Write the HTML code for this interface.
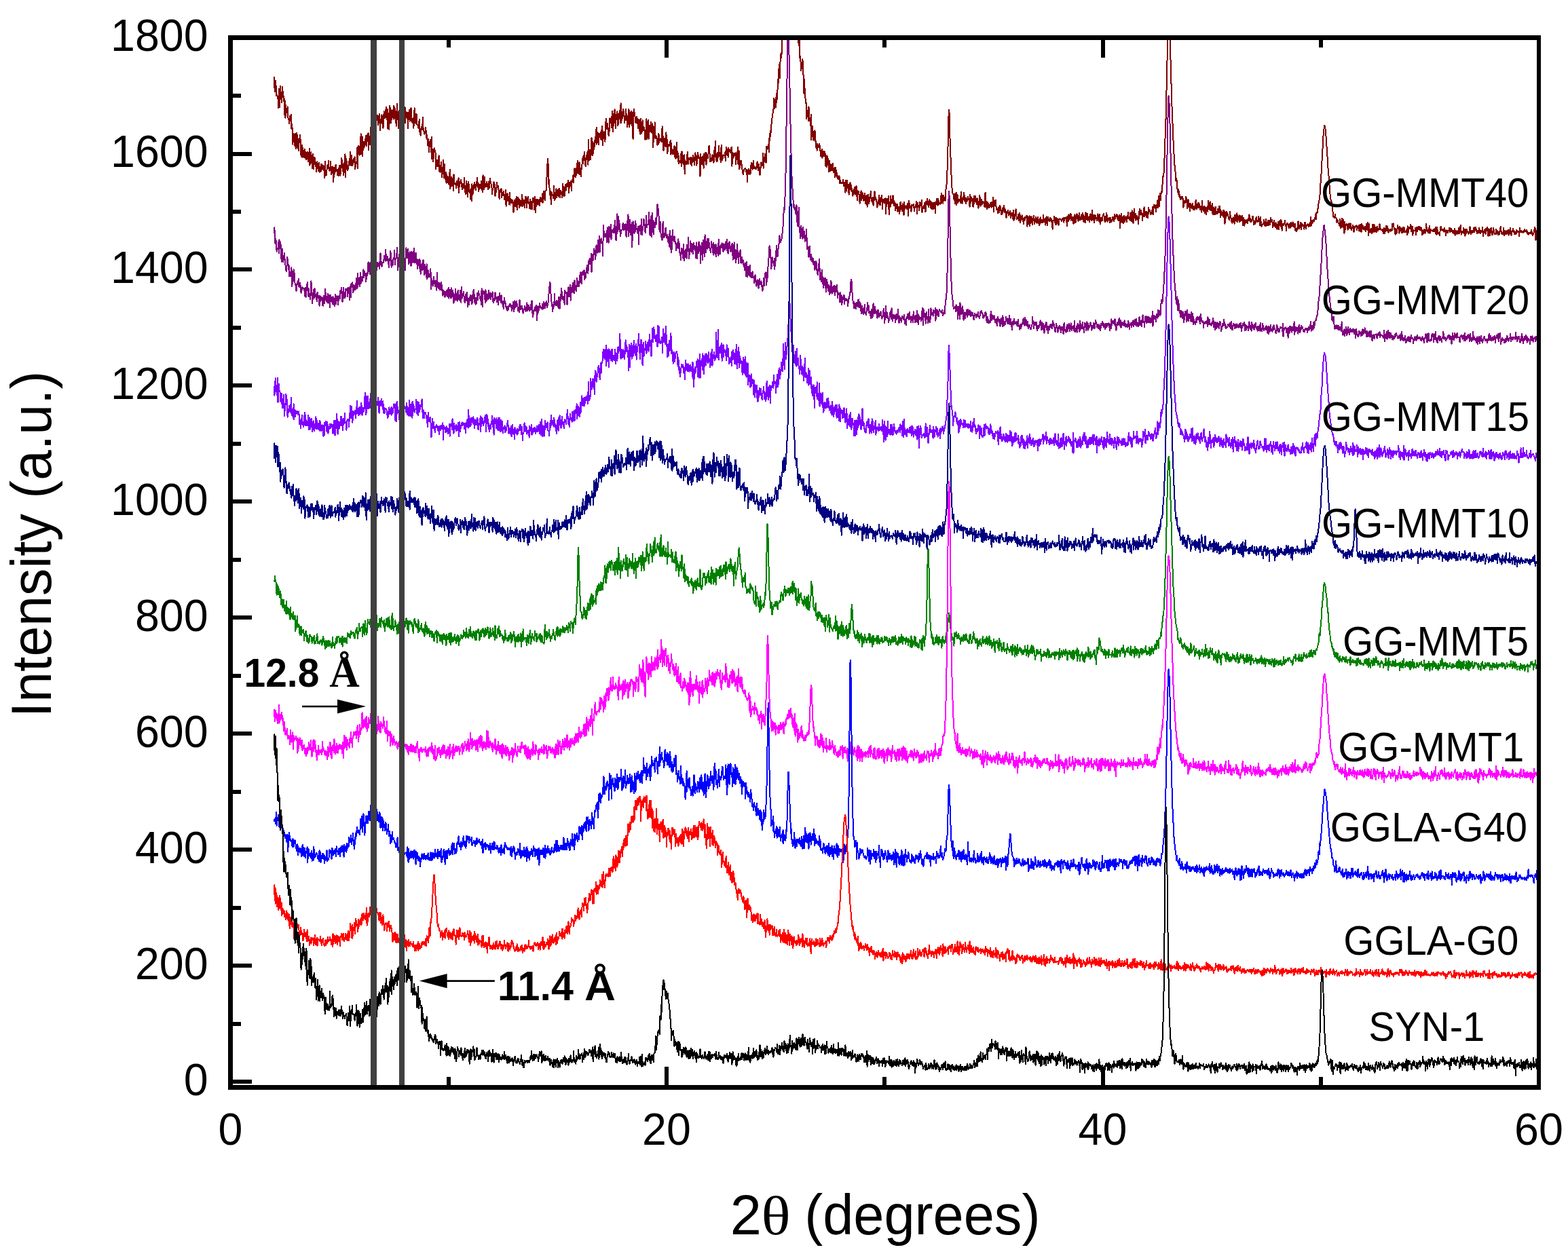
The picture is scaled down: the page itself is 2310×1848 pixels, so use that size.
<!DOCTYPE html>
<html><head><meta charset="utf-8"><title>XRD patterns</title>
<style>
html,body{margin:0;padding:0;background:#fff;}
body{width:2310px;height:1848px;overflow:hidden;}
svg{display:block;}
text{font-family:"Liberation Sans",Arial,sans-serif;fill:#000;}
.ser{font-family:"Liberation Serif","Times New Roman",serif;}
</style></head><body>
<svg width="2310" height="1848" viewBox="0 0 2310 1848">
<rect width="2310" height="1848" fill="#fff"/>
<defs><clipPath id="pc"><rect x="339.5" y="55.5" width="1927.5" height="1547.0"/></clipPath></defs>

<g clip-path="url(#pc)" fill="none" stroke-width="2" stroke-linejoin="round" shape-rendering="crispEdges">
<path stroke="#800000" d="M403.75 113l.64 16 .65 6 .64-1 .64-15 .64 22 .64-2 .65 1 .64 2 .64 4 .64 13 .65-28 .64 8 .64 19 .64-31 .65 19 .64-10 .64 9 .64 6 .65-23 .64 10 .64-3 .64 14 .65-4 .64 24 .64-20 .64 25 .65-19 .64 9 .64 0 .64 2 .65-9 .64 16 .64 3 .64 0 .65 6 .64-11 .64 7 .64-1 .65-8 .64 21 .64-7 .64 8 .65 22 .64-16 .64 0 .64 10 .65 3 .64 6 .64-19 .64 22 .65-16 .64-7 .64 3 .64 19 .65-2 .64 6 .64-18 .64 6 .65-6 .64-5 .64 18 .64 14 .65-2 .64-15 .64 18 .64-14 .65 9 .64 5 .64-9 .64-3 .65 13 .64-6 .64-3 .64 11 .65-7 .64 6 .64-10 .64 14 .65-13 .64 5 .64-11 .64 25 .65-8 .64 4 .64-16 .64 15 .65-4 .64 13 .64-21 .64 16 .65 6 .64-17 .64 10 .64-9 .65 9 .64 3 .64 8 .64-9 .65-6 .64 10 .64-4 .64 8 .65-12 .64 14 .64-8 .64 1 .65 6 .64-11 .64 0 .64 8 .65-4 .64 1 .64-3 .64 1 .65 9 .64 8 .64-24 .64 21 .65-5 .64 4 .64-8 .64-6 .65 4 .64-5 .64-6 .64 12 .65 3 .64-4 .64 3 .64-13 .65 19 .64-9 .64 2 .64 5 .65-10 .64 23 .64-10 .64 0 .65-8 .64-6 .64 9 .64-10 .65 7 .64 0 .64 8 .64-6 .65-2 .64 9 .64-12 .64-3 .65 0 .64 15 .64-11 .64-5 .65-10 .64 6 .64 10 .64 1 .65 8 .64-18 .64 8 .64 6 .65-27 .64 34 .64-27 .64 0 .65 15 .64-4 .64 6 .64-5 .65-3 .64-4 .64-5 .64 10 .65-20 .64 13 .64 7 .64-15 .65 15 .64 0 .64-7 .64-3 .65 5 .64 0 .64-8 .64 18 .65-5 .64-5 .64 2 .64-2 .65-22 .64 31 .64-33 .64 12 .65-11 .64 13 .64-3 .64-2 .65-27 .64 30 .64-6 .64-20 .65 29 .64-15 .64-6 .64 9 .65-9 .64 7 .64-8 .64-5 .65-3 .64 15 .64-7 .64-9 .65 1 .64-4 .64 25 .64-16 .65-3 .64 11 .64-20 .64-6 .65 5 .64 4 .64-4 .64-2 .65 3 .64-7 .64-7 .64 16 .65-10 .64-2 .64 7 .64-2 .65-15 .64 3 .64-6 .64 1 .65 13 .64-7 .64-5 .64-4 .65 24 .64-16 .64 5 .64-3 .65-9 .64 13 .64-4 .64 11 .65-7 .64-18 .64 10 .64 0 .65 0 .64-11 .64-5 .64 14 .65 4 .64-15 .64 29 .64-12 .65-11 .64 24 .64-35 .64 4 .65-1 .64 22 .64-19 .64 14 .65-5 .64-9 .64 7 .64-13 .65 20 .64-18 .64 2 .64 15 .65-11 .64 22 .64-4 .64-29 .65 17 .64-3 .64 22 .64-25 .65-1 .64 4 .64 0 .64-6 .65 11 .64-8 .64-3 .64 23 .65-13 .64-11 .64-3 .64 10 .65-9 .64 0 .64 23 .64-12 .65-4 .64 7 .64-6 .64 6 .65 17 .64-17 .64-5 .64-5 .65 17 .64-7 .64 6 .64-19 .65 12 .64 5 .64 5 .64-2 .65-5 .64 15 .64-12 .64-18 .65 8 .64 12 .64 3 .64-14 .65 1 .64 15 .64 0 .64 1 .65 4 .64-6 .64-7 .64 19 .65-1 .64 6 .64-10 .64-3 .65 2 .64 2 .64-18 .64 16 .65 0 .64 8 .64 1 .64-4 .65 0 .64-6 .64 15 .64-5 .65 3 .64 13 .64 1 .64-10 .65 19 .64-7 .64-5 .64-6 .65 2 .64 16 .64-22 .64 32 .65-7 .64-7 .64 18 .64-10 .65-10 .64 6 .64-2 .64 1 .65 26 .64-13 .64 0 .64 9 .65 0 .64-9 .64-1 .64-6 .65 23 .64-8 .64 10 .64-6 .65-9 .64 6 .64 16 .64-14 .65 9 .64-20 .64 12 .64 14 .65-20 .64 22 .64-10 .64 0 .65 16 .64-13 .64 12 .64-9 .65 6 .64 5 .64 1 .64-8 .65-14 .64 28 .64-15 .64 12 .65-14 .64 3 .64 4 .64 0 .65 13 .64-24 .64 8 .64 6 .65 1 .64-2 .64 1 .64 6 .65-10 .64 0 .64 3 .64 6 .65-14 .64 22 .64-15 .64-1 .65 2 .64-5 .64 2 .64 4 .65 6 .64 2 .64-8 .64 1 .65 5 .64-15 .64 12 .64 8 .65 4 .64-12 .64-7 .64 5 .65 13 .64 5 .64-14 .64-8 .65 11 .64 4 .64 1 .64-4 .65 14 .64-16 .64 18 .64-25 .65 16 .64-2 .64-3 .64-10 .65 4 .64-7 .64 8 .64 1 .65 2 .64-12 .64 3 .64-9 .65 14 .64-7 .64 13 .64-10 .65 7 .64-6 .64 2 .64-2 .65-6 .64 13 .64-11 .64 14 .65-25 .64 13 .64 8 .64 0 .65-18 .64 14 .64-1 .64 1 .65-4 .64-3 .64 6 .64 2 .65 3 .64-7 .64-5 .64 10 .65-14 .64 4 .64 1 .64 4 .65 2 .64 12 .64-8 .64 2 .65-8 .64-4 .64 5 .64-1 .65 17 .64-3 .64-4 .64-5 .65-8 .64 7 .64-2 .64 0 .65 8 .64 9 .64 2 .64-14 .65 2 .64 2 .64-5 .64 13 .65-5 .64-2 .64 4 .64-6 .65 2 .64 10 .64-1 .64-4 .65-9 .64 24 .64-12 .64 4 .65-11 .64 10 .64 1 .64-1 .65 6 .64-17 .64 18 .64-9 .65 0 .64 3 .64 3 .64-1 .65-3 .64 5 .64 13 .64-12 .65-6 .64 9 .64-1 .64-10 .65 12 .64-15 .64 11 .64 8 .65-18 .64 4 .64-2 .64 13 .65-12 .64 4 .64 3 .64 3 .65-2 .64-9 .64-6 .64 17 .65-5 .64 3 .64-7 .64 4 .65 7 .64-16 .64 8 .64-8 .65 16 .64-6 .64-6 .64-4 .65 10 .64 0 .64-2 .64 9 .65-13 .64 10 .64 4 .64-11 .65 8 .64 3 .64-16 .64 4 .65-4 .64 10 .64 7 .64-19 .65 8 .64 15 .64-19 .64 7 .65-1 .64-6 .64 8 .64-4 .65-3 .64-1 .64 9 .64-7 .65-5 .64 1 .64 4 .64 1 .65-11 .64 13 .64-13 .64-4 .65 8 .64 3 .64 2 .64-14 .65 0 .64 0 .64-17 .64-11 .65-14 .64-5 .64 16 .64 22 .65-7 .64 22 .64-2 .64-3 .65 19 .64-18 .64 2 .64 2 .65 0 .64 5 .64-1 .64-17 .65 21 .64-1 .64-1 .64-3 .65-12 .64 13 .64-7 .64-4 .65 6 .64 4 .64-11 .64-1 .65 10 .64 3 .64-10 .64 4 .65-2 .64 8 .64-7 .64-13 .65 5 .64 13 .64 0 .64-1 .65-11 .64-5 .64 9 .64-6 .65-2 .64-3 .64 5 .64-9 .65 3 .64 15 .64-15 .64 8 .65-8 .64 1 .64-3 .64 14 .65-14 .64-2 .64-1 .64-6 .65 11 .64-15 .64-6 .64 12 .65 1 .64-13 .64 10 .64-3 .65-13 .64-5 .64 18 .64-4 .65 5 .64-17 .64 18 .64-9 .65 2 .64 10 .64-15 .64-2 .65-3 .64-9 .64 10 .64-12 .65 2 .64-7 .64 19 .64-8 .65 10 .64-16 .64 1 .64-4 .65-3 .64 20 .64-37 .64 31 .65-1 .64-15 .64 4 .64 10 .65-13 .64-19 .64 10 .64 16 .65-20 .64 17 .64-15 .64 9 .65-12 .64-3 .64 2 .64-16 .65 22 .64-25 .64 17 .64-10 .65 12 .64 6 .64-12 .64-4 .65 5 .64 0 .64 3 .64-13 .65 14 .64-20 .64 7 .64 21 .65-19 .64 4 .64-3 .64-2 .65 15 .64-18 .64-16 .64 12 .65 3 .64-8 .64 0 .64 16 .65-7 .64 9 .64-13 .64-13 .65 7 .64-1 .64-1 .64 9 .65-24 .64 15 .64 15 .64-26 .65 17 .64-7 .64-17 .64 7 .65 21 .64-20 .64 7 .64-2 .65-10 .64 21 .64-2 .64-6 .65-5 .64-7 .64-2 .64 18 .65-29 .64 29 .64-7 .64 1 .65-5 .64-9 .64 1 .64 6 .65 5 .64 8 .64-10 .64 3 .65-13 .64 16 .64-3 .64 13 .65-7 .64-9 .64-10 .64 26 .65-24 .64 13 .64 7 .64-2 .65-17 .64 1 .64 20 .64-3 .65 23 .64-37 .64-7 .64 4 .65 4 .64 5 .64 7 .64 0 .65-5 .64-4 .64 10 .64-7 .65 14 .64-11 .64-2 .64 17 .65 1 .64 4 .64-23 .64 18 .65 4 .64-10 .64-10 .64 7 .65 8 .64-4 .64 0 .64 8 .65 10 .64-4 .64-21 .64-6 .65 30 .64-2 .64-13 .64-13 .65 28 .64-17 .64-3 .64 6 .65 3 .64-14 .64 3 .64 12 .65 1 .64-14 .64 35 .64-10 .65-5 .64 1 .64-23 .64 19 .65 5 .64-4 .64 3 .64 3 .65 8 .64-3 .64-14 .64 15 .65-13 .64 7 .64 1 .64-2 .65-1 .64 4 .64 1 .64-23 .65 21 .64-6 .64 21 .64-11 .65-7 .64 11 .64-3 .64 4 .65-21 .64 15 .64-5 .64 21 .65-5 .64-8 .64 2 .64 0 .65-3 .64-3 .64-2 .64 21 .65-17 .64 12 .64 4 .64-2 .65-4 .64 6 .64-10 .64-2 .65 16 .64-2 .64 5 .64-9 .65-15 .64 14 .64-1 .64 15 .65-12 .64 15 .64-4 .64 1 .65 0 .64 2 .64-13 .64 18 .65-22 .64 7 .64 0 .64 11 .65-12 .64 20 .64-21 .64 28 .65-16 .64 2 .64-4 .64 4 .65-13 .64-5 .64 18 .64-2 .65-7 .64 0 .64 0 .64 3 .65 6 .64-10 .64 5 .64 7 .65-11 .64 6 .64-10 .64 6 .65-3 .64 11 .64-12 .64-6 .65 11 .64-6 .64 14 .64-7 .65-7 .64-5 .64 8 .64-2 .65 1 .64 2 .64 26 .64-33 .65 7 .64 5 .64 3 .64-11 .65 3 .64-4 .64 18 .64-21 .65 7 .64-9 .64 12 .64-12 .65 18 .64-17 .64 4 .64 0 .65 3 .64-8 .64-9 .64-1 .65 13 .64 10 .64 0 .64-5 .65 4 .64-8 .64-1 .64 5 .65 6 .64 1 .64-8 .64-15 .65 6 .64-15 .64 28 .64-9 .65 11 .64 0 .64-13 .64 7 .65-6 .64-11 .64 15 .64-2 .65 0 .64 11 .64-20 .64-5 .65 20 .64 2 .64-4 .64-4 .65 1 .64 0 .64-1 .64-3 .65 12 .64-14 .64-6 .64 11 .65-6 .64-2 .64 12 .64-14 .65 2 .64 3 .64-2 .64 4 .65 0 .64-7 .64-1 .64 28 .65-15 .64-5 .64 8 .64-3 .65 0 .64-4 .64 1 .64-2 .65 17 .64-15 .64 6 .64 2 .65-18 .64 25 .64-6 .64-14 .65 27 .64-3 .64-3 .64-6 .65 0 .64 7 .64-1 .64 12 .65-2 .64 4 .64-6 .64-2 .65 0 .64-1 .64 1 .64 4 .65-1 .64-2 .64 18 .64-17 .65 2 .64-4 .64 8 .64-1 .65-5 .64 6 .64-3 .64-14 .65 0 .64 2 .64 8 .64-6 .65-7 .64 7 .64 4 .64 0 .65 1 .64-2 .64 2 .64-3 .65-4 .64-4 .64 9 .64 4 .65-9 .64 0 .64 10 .64 6 .65-2 .64-15 .64-2 .64 2 .65 3 .64 0 .64-18 .64 22 .65-5 .64-11 .64 6 .64-11 .65 2 .64 11 .64-24 .64 4 .65-2 .64-2 .64 3 .64-7 .65 12 .64-27 .64 10 .64-14 .65 3 .64-10 .64-6 .64-6 .65-1 .64-10 .64 0 .64-18 .65 15 .64-9 .64 2 .64-9 .65 14 .64-17 .64-4 .64 9 .65-29 .64 7 .64-22 .64-2 .65-6 .64 21 .64-35 .64 8 .65-10 .64 2 .64-29 .64-22 .65-8 .64 23 .64-19 .64 1 .65-7 .64-25 .64-14 .64 0 .65-32 .64 6 .64-1 .64 6 .65-38 .64-4 .64 40 .64-8 .65-14 .64 0 .64 9 .64-19 .65 14 .64 29 .64 4 .64 14 .65-11 .64 16 .64-29 .64 7 .65-13 .64 26 .64 2 .64 39 .65 8 .64-19 .64 5 .64 39 .65 11 .64-23 .64 25 .64 20 .65-6 .64 21 .64-11 .64 8 .65 0 .64-14 .64 23 .64 1 .65 27 .64-21 .64 18 .64 7 .65 10 .64-1 .64 24 .64-12 .65 1 .64 3 .64 11 .64-21 .65 11 .64 10 .64-4 .64 11 .65-16 .64 37 .64-13 .64 1 .65-8 .64 18 .64 3 .64-11 .65 6 .64-10 .64 16 .64 0 .65 10 .64-3 .64 7 .64-10 .65 4 .64-2 .64 3 .64-5 .65 6 .64-3 .64 15 .64-5 .65-1 .64-4 .64 13 .64-7 .65 4 .64-7 .64 7 .64-7 .65 2 .64 2 .64 18 .64-11 .65 12 .64-17 .64 11 .64-6 .65 8 .64 11 .64 0 .64-16 .65 13 .64 2 .64-7 .64 0 .65-3 .64 9 .64-10 .64 9 .65 4 .64-5 .64-2 .64 14 .65-6 .64-8 .64 9 .64 5 .65-6 .64 8 .64-1 .64 2 .65-4 .64-1 .64 11 .64-4 .65 2 .64 2 .64-1 .64 0 .65 1 .64-2 .64-3 .64 9 .65-2 .64-3 .64 8 .64 7 .65-18 .64 9 .64 7 .64-16 .65 9 .64 0 .64-3 .64 15 .65-5 .64-5 .64-8 .64 10 .65-6 .64 9 .64-4 .64 4 .65 7 .64-4 .64-6 .64 2 .65-5 .64 11 .64-10 .64 2 .65-5 .64 10 .64 11 .64-14 .65 1 .64 0 .64 4 .64 2 .65 12 .64-6 .64-6 .64-7 .65 14 .64-5 .64-6 .64 6 .65-1 .64 7 .64-4 .64-7 .65 7 .64 8 .64-7 .64-4 .65-1 .64 17 .64-6 .64-12 .65 8 .64 5 .64-3 .64-7 .65 2 .64-10 .64 10 .64 0 .65 6 .64-6 .64-1 .64 12 .65-3 .64-9 .64-9 .64 3 .65 9 .64 1 .64-1 .64 6 .65 6 .64-6 .64-3 .64 1 .65-10 .64 14 .64-6 .64 6 .65-11 .64 5 .64-8 .64 8 .65 12 .64-14 .64 2 .64 0 .65 4 .64-7 .64 3 .64-4 .65 23 .64-19 .64 2 .64-5 .65 7 .64-2 .64-9 .64 27 .65-18 .64 0 .64 7 .64-16 .65 11 .64-6 .64 3 .64 2 .65-11 .64 10 .64 5 .64-7 .65 7 .64-3 .64 10 .64-9 .65 3 .64-1 .64-2 .64 11 .65-7 .64 0 .64 2 .64 8 .65-16 .64 12 .64-13 .64 5 .65 5 .64 3 .64-11 .64 11 .65-3 .64 9 .64-19 .64 10 .65-5 .64 1 .64 2 .64-3 .65 5 .64-2 .64-6 .64 18 .65-12 .64-10 .64 8 .64 2 .65-2 .64 0 .64 8 .64-10 .65 1 .64-1 .64 1 .64-2 .65 5 .64 5 .64-5 .64 0 .65-4 .64 0 .64-5 .64 18 .65-12 .64-4 .64 6 .64-2 .65 7 .64-4 .64-8 .64 3 .65-2 .64 4 .64-8 .64 18 .65-7 .64-1 .64 0 .64 2 .65-8 .64 5 .64 8 .64-1 .65-14 .64 4 .64 0 .64-8 .65 7 .64 3 .64 2 .64-4 .65-7 .64 7 .64-4 .64 10 .65-1 .64-8 .64 10 .64-9 .65 3 .64 6 .64-4 .64-6 .65 2 .64 14 .64-16 .64 3 .65-8 .64 9 .64-6 .64 7 .65-10 .64 8 .64-3 .64 1 .65 1 .64 1 .64-10 .64-6 .65 10 .64 4 .64-11 .64 12 .65-12 .64 6 .64-2 .64-1 .65 5 .64-16 .64-3 .64-5 .65-9 .64-22 .64-20 .64-35 .65-23 .64-1 .64 20 .64 27 .65 13 .64 29 .64 8 .64 16 .65 5 .64 5 .64 1 .64 0 .65 8 .64-8 .64 14 .64-4 .65-11 .64-1 .64 18 .64-9 .65-6 .64 12 .64-5 .64 3 .65-3 .64 0 .64 3 .64 2 .65-16 .64 10 .64 5 .64 2 .65-8 .64 2 .64-5 .64-5 .65 7 .64 6 .64-4 .64 7 .65-9 .64 6 .64-4 .64 3 .65-6 .64 3 .64 1 .64 1 .65 10 .64-18 .64 12 .64-9 .65 5 .64-2 .64 2 .64 9 .65-11 .64 12 .64-16 .64 7 .65-2 .64-5 .64 9 .64-5 .65 8 .64-9 .64 6 .64 0 .65 9 .64-7 .64-6 .64-6 .65 9 .64 7 .64-3 .64-7 .65 5 .64 2 .64-4 .64 2 .65-1 .64 1 .64 6 .64-19 .65-2 .64 21 .64-8 .64 9 .65 2 .64-10 .64 1 .64 7 .65 0 .64-3 .64 2 .64-6 .65 5 .64-5 .64 7 .64-8 .65 5 .64 1 .64-13 .64 21 .65-17 .64 8 .64 0 .64 1 .65-9 .64 14 .64-1 .64 0 .65 1 .64 5 .64-8 .64-1 .65 8 .64-10 .64 4 .64-2 .65 11 .64-6 .64 6 .64-2 .65-8 .64 5 .64-4 .64-4 .65 10 .64-5 .64 5 .64 0 .65 8 .64-9 .64 0 .64 2 .65-4 .64 6 .64 2 .64-4 .65-3 .64 2 .64 8 .64-7 .65 4 .64-4 .64 0 .64 8 .65-12 .64 15 .64-5 .64 2 .65-6 .64-2 .64-6 .64 9 .65 6 .64-2 .64 1 .64-6 .65 1 .64 8 .64-11 .64 1 .65 13 .64-4 .64 1 .64-5 .65-3 .64 4 .64 2 .64 5 .65 2 .64-9 .64 4 .64-5 .65 1 .64 0 .64-3 .64 0 .65 16 .64-15 .64 12 .64-10 .65 5 .64-8 .64 15 .64-6 .65-8 .64 6 .64 3 .64-9 .65 12 .64-7 .64 1 .64-7 .65 5 .64 7 .64-5 .64-3 .65-2 .64 2 .64 7 .64-5 .65-4 .64 9 .64-5 .64 8 .65 0 .64-6 .64-6 .64 2 .65 6 .64 0 .64-4 .64 4 .65-4 .64-7 .64 10 .64-4 .65 1 .64-2 .64 10 .64-7 .65-6 .64 4 .64 9 .64-10 .65-2 .64 4 .64 2 .64 0 .65-5 .64 2 .64-1 .64 5 .65-4 .64 3 .64 12 .64-13 .65 0 .64-1 .64-5 .64 9 .65-7 .64 10 .64-10 .64 10 .65-9 .64 5 .64-4 .64 7 .65 2 .64-9 .64 0 .64-1 .65 1 .64 1 .64 1 .64 1 .65-4 .64 2 .64-2 .64-1 .65 7 .64-7 .64 1 .64 0 .65 0 .64-2 .64 2 .64 11 .65-14 .64 0 .64 7 .64-10 .65 8 .64-6 .64-1 .64-2 .65 10 .64-9 .64 7 .64-3 .65 5 .64-5 .64 10 .64-4 .65 2 .64-12 .64 8 .64 4 .65-3 .64-9 .64-1 .64 3 .65 0 .64 8 .64-3 .64-9 .65 9 .64 1 .64 0 .64-4 .65-3 .64-1 .64 7 .64-9 .65 3 .64 9 .64 1 .64-2 .65-6 .64 9 .64-15 .64 4 .65 3 .64 4 .64-9 .64 10 .65-5 .64 1 .64-2 .64 8 .65-9 .64-3 .64 8 .64 2 .65-2 .64-13 .64 14 .64-4 .65-3 .64 8 .64 3 .64-11 .65 5 .64-4 .64 4 .64-1 .65 4 .64-5 .64-5 .64 9 .65-1 .64 4 .64-11 .64 6 .65 8 .64-9 .64 5 .64-2 .65 1 .64-6 .64-2 .64-2 .65 3 .64 6 .64 3 .64-8 .65 4 .64 3 .64-12 .64 7 .65 6 .64-3 .64-2 .64 1 .65-2 .64 7 .64-4 .64-3 .65 6 .64 0 .64-3 .64 1 .65-5 .64 0 .64 5 .64 1 .65-10 .64 7 .64-3 .64-1 .65-2 .64-1 .64 1 .64 6 .65 1 .64 1 .64-6 .64-2 .65 4 .64 15 .64-16 .64-3 .65-2 .64 8 .64 5 .64-8 .65 9 .64-10 .64-1 .64 2 .65 7 .64-7 .64-1 .64 2 .65 6 .64-4 .64-1 .64-9 .65 6 .64 3 .64 2 .64 0 .65-10 .64 11 .64-9 .64 10 .65-16 .64 13 .64-3 .64 9 .65-11 .64-10 .64 13 .64-5 .65-1 .64 10 .64-3 .64-3 .65-1 .64 2 .64 6 .64 4 .65-15 .64-4 .64-3 .64 3 .65 6 .64-7 .64 5 .64-1 .65 11 .64-10 .64 2 .64 2 .65-14 .64 14 .64-4 .64 2 .65-5 .64 8 .64-8 .64 3 .65 6 .64-1 .64-14 .64 3 .65 3 .64-2 .64 2 .64 4 .65-1 .64-1 .64 1 .64-10 .65 2 .64 9 .64-12 .64-2 .65 4 .64-4 .64 3 .64 7 .65-6 .64-2 .64-6 .64-3 .65 11 .64-17 .64 3 .64 12 .65-11 .64-8 .64 10 .64-11 .65-2 .64 1 .64-12 .64-11 .65 0 .64-4 .64-15 .64-13 .65-21 .64-17 .64-20 .64-28 .65-31 .64-26 .64-27 .64-16 .65-13 .64 3 .64 5 .64 17 .65 24 .64 16 .64 26 .64 20 .65 23 .64 15 .64 16 .64 16 .65 13 .64 10 .64 11 .64 2 .65 13 .64 8 .64-4 .64 3 .65 13 .64 0 .64 7 .64-7 .65 6 .64 6 .64-4 .64 7 .65 0 .64-4 .64 3 .64-2 .65-1 .64 3 .64 13 .64-9 .65 3 .64-4 .64 1 .64 2 .65-9 .64 2 .64 2 .64 13 .65-3 .64-10 .64 3 .64 8 .65-5 .64 11 .64-7 .64-4 .65 4 .64 3 .64-3 .64-4 .65 8 .64 1 .64-5 .64 5 .65 0 .64-2 .64-11 .64-1 .65 10 .64 3 .64-4 .64-5 .65 7 .64-7 .64 1 .64 5 .65 4 .64 0 .64-5 .64 1 .65 8 .64-17 .64 11 .64 2 .65 2 .64-4 .64-3 .64 10 .65-9 .64 2 .64 9 .64-7 .65-3 .64-2 .64 8 .64-16 .65 9 .64 3 .64 1 .64-12 .65 9 .64 4 .64-7 .64 1 .65-4 .64 15 .64 1 .64 0 .65-11 .64 4 .64 3 .64 4 .65-11 .64 10 .64-3 .64 3 .65 0 .64-7 .64 5 .64-4 .65-5 .64 9 .64-9 .64 16 .65-3 .64-6 .64 6 .64-4 .65 2 .64-5 .64 10 .64-10 .65 2 .64 18 .64-10 .64-7 .65 8 .64-9 .64 6 .64-4 .65 2 .64 3 .64 3 .64 2 .65-5 .64-7 .64 9 .64 0 .65 5 .64-4 .64 7 .64-3 .65-6 .64 3 .64-2 .64 9 .65-13 .64 4 .64 4 .64-8 .65 9 .64-12 .64 13 .64-3 .65-3 .64 1 .64-5 .64 10 .65-1 .64-8 .64 7 .64-2 .65 0 .64-5 .64 14 .64-4 .65-7 .64 3 .64 9 .64-9 .65 0 .64 3 .64 1 .64-4 .65 1 .64 4 .64-6 .64-1 .65 3 .64-9 .64 5 .64 6 .65-5 .64 5 .64-3 .64 2 .65-7 .64 0 .64 0 .64 12 .65-6 .64 2 .64 3 .64 0 .65-6 .64-4 .64 4 .64 2 .65-1 .64 2 .64-8 .64 6 .65-3 .64 10 .64-9 .64-3 .65 9 .64 5 .64-2 .64-1 .65 0 .64-2 .64-1 .64-4 .65 6 .64 3 .64 0 .64-10 .65 10 .64-5 .64 3 .64 1 .65-7 .64 3 .64 4 .64-7 .65 2 .64 4 .64-10 .64 2 .65 4 .64-3 .64 2 .64 9 .65-4 .64 2 .64-8 .64 8 .65-4 .64 6 .64-7 .64 3 .65 1 .64 6 .64-5 .64-6 .65 5 .64 6 .64-10 .64-3 .65 3 .64 6 .64-10 .64 3 .65 13 .64-10 .64 0 .64 2 .65 0 .64-3 .64 1 .64-5 .65 8 .64-1 .64 8 .64-11 .65 1 .64-1 .64 2 .64 3 .65 2 .64-6 .64 2 .64-3 .65 7 .64-8 .64 1 .64 3 .65 1 .64-6 .64 3 .64 1 .65 4 .64-5 .64 0 .64 10 .65-3 .64 4 .64-1 .64-4 .65 1 .64-11 .64 2 .64 4 .65 5 .64-3 .64-3 .64-3 .65 10 .64-9 .64 4 .64 0 .65-2 .64 2 .64 0 .64 5 .65-10 .64 3 .64-3 .64 9 .65-3 .64-2 .64-1 .64-1 .65 2 .64 2 .64-1 .64-3 .65 3 .64-4 .64-9 .64 13 .65-7 .64-1 .64 4 .64-3 .65-2 .64 0 .64 2 .64-3 .65-2 .64-5 .64 7 .64-10 .65 0 .64 1 .64-6 .64-1 .65-8 .64-2 .64-4 .64-6 .65-12 .64-8 .64-10 .64-8 .65-18 .64-8 .64-16 .64-8 .65-6 .64-8 .64 2 .64-1 .65 8 .64 7 .64 11 .64 7 .65 11 .64 9 .64 13 .64 5 .65 8 .64 10 .64 9 .64 6 .65 4 .64 3 .64 1 .64 4 .65 7 .64 5 .64 6 .64 0 .65 1 .64-2 .64-3 .64 5 .65 0 .64 1 .64 6 .64-4 .65 1 .64 3 .64 1 .64 0 .65 4 .64-10 .64 13 .64-8 .65-2 .64 9 .64-13 .64 10 .65-9 .64 12 .64-6 .64 15 .65-17 .64 11 .64-7 .64 1 .65-2 .64 0 .64 1 .64 8 .65-3 .64 0 .64-7 .64 5 .65 2 .64-7 .64 8 .64 2 .65-4 .64 0 .64 1 .64-4 .65 7 .64 3 .64-8 .64 2 .65-3 .64 1 .64-1 .64-1 .65 7 .64-5 .64 1 .64 1 .65-4 .64 8 .64-1 .64 2 .65-10 .64 6 .64 5 .64-12 .65 5 .64-3 .64 5 .64 1 .65 0 .64-3 .64 4 .64-5 .65 7 .64-4 .64-7 .64 7 .65 2 .64-11 .64 19 .64-12 .65-5 .64 11 .64 2 .64-2 .65-3 .64-1 .64 7 .64-4 .65-9 .64 11 .64 0 .64-11 .65 1 .64 10 .64-5 .64-2 .65 1 .64 6 .64-5 .64-3 .65 6 .64-3 .64 1 .64 0 .65-8 .64 8 .64-1 .64 2 .65 0 .64 0 .64-1 .64 3 .65-3 .64 6 .64-8 .64 0 .65 8 .64-5 .64-1 .64-5 .65 7 .64-7 .64 3 .64 1 .65 6 .64-1 .64-3 .64 1 .65-2 .64 3 .64-3 .64 2 .65 0 .64-10 .64 2 .64-3 .65 1 .64 7 .64 1 .64 4 .65 4 .64-9 .64 6 .64 1 .65-3 .64-9 .64 2 .64 1 .65 5 .64 4 .64-10 .64 2 .65 2 .64 2 .64-4 .64 7 .65-3 .64 3 .64-8 .64 7 .65-7 .64 7 .64-1 .64 1 .65 0 .64 0 .64-4 .64 8 .65-13 .64 11 .64-4 .64-2 .65-3 .64 2 .64 0 .64-6 .65 10 .64-8 .64 3 .64-2 .65 13 .64-8 .64 2 .64-1 .65 0 .64-1 .64-3 .64 10 .65-4 .64-7 .64 6 .64-4 .65-2 .64-1 .64 4 .64-4 .65 3 .64 2 .64-4 .64 3 .65-2 .64 10 .64-7 .64 6 .65-1 .64-1 .64-5 .64 1 .65 5 .64-1 .64-6 .64-7 .65 10 .64-2 .64 3 .64 2 .65 0 .64-4 .64-6 .64 11 .65-2 .64-4 .64 2 .64 0 .65 0 .64 0 .64 1 .64-3 .65 2 .64 1 .64-4 .64 1 .65-3 .64 10 .64-6 .64 7 .65-11 .64 9 .64 0 .64-1 .65 0 .64 3 .64 1 .64-11 .65-2 .64 0 .64 5 .64-1 .65 1 .64-1 .64 2 .64 0 .65 2 .64-6 .64 4 .64 2 .65 5 .64-5 .64-3 .64 3 .65 1 .64-2 .64-1 .64-1 .65-3 .64 6 .64-6 .64 5 .65-4 .64 1 .64 3 .64 2 .65-2 .64-1 .64 1 .64 4 .65-8 .64 10 .64-2 .64-5 .65 5 .64-4 .64 0 .64 4 .65-1 .64-8 .64 4 .64 4 .65-10 .64 6 .64-8 .64 14 .65-5 .64 1 .64 1 .64 0 .65-7 .64 8 .64-6 .64 2 .65 8 .64-10 .64 5 .64 1 .65-6 .64 3 .64 0 .64 1 .65 3 .64-2 .64 0 .64-9 .65 6 .64 5 .64-5 .64 0 .65 3 .64-3 .64 0 .64 2 .65-6 .64 6 .64-7 .64 4 .65-4 .64 2 .64 1 .64 6 .65 0 .64-4 .64 0 .64 3 .65-7 .64 7 .64-4 .64 5 .65-1 .64-3 .64 2 .64-3 .65-4 .64 13 .64-4 .64-1 .65-4 .64 1 .64-2 .64 7 .65-8 .64 3 .64-1 .64-4 .65 2 .64 11 .64-4 .64-6 .65 1 .64 8 .64-6 .64-5 .65 0 .64 10 .64-3 .64 3 .65-6 .64-4 .64 4 .64 4 .65 1 .64 0 .64-1 .64-6 .65 7 .64-4 .64-1 .64 1 .65 5 .64 0 .64-4 .64 3 .65-9 .64 5 .64-7 .64 9 .65 2 .64 0 .64-1 .64 1 .65-9 .64 4 .64 7 .64-7 .65 0 .64 5 .64 0 .64-4 .65-1 .64 3 .64 2 .64-6 .65 8 .64-6 .64-2 .64 5 .65-8 .64 9 .64 2 .64-3 .65-4 .64 1 .64-4 .64 3 .65 3 .64 2 .64-4 .64 3 .65 1 .64 0 .64-6 .64 3 .65-2 .64 1 .64 0 .64 2 .65 5 .64-12 .64 6 .64 0 .65-2 .64 0 .64 1 .64 2 .65-2 .64 0 .64 2 .64-3 .65-2 .64 3 .64-1 .64 1 .65 1 .64-3 .64 5 .64-3 .65 3 .64 2 .64-2 .64-1 .65 0 .64 1 .64 0 .64-3 .65-2 .64 3 .64 4 .64 1 .65-2 .64 0 .64-6 .64 3 .65-7 .64 2 .64 17 .64-10 .65-1 .64-4 .64 7 .64-2 .65-1 .64-6"/>
<path stroke="#800080" d="M403.75 344l.64-9 .65 22 .64 2 .64-7 .64 7 .64 12 .65-3 .64-2 .64 1 .64-10 .65 16 .64-20 .64 12 .64 1 .65-9 .64 14 .64 15 .64-13 .65-6 .64 10 .64 9 .64-4 .65 0 .64-9 .64 15 .64 2 .65 7 .64 3 .64-5 .64-16 .65 3 .64 4 .64 11 .64-6 .65 16 .64-6 .64 2 .64 4 .65-2 .64-11 .64 28 .64-5 .65 1 .64-14 .64-7 .64 4 .65 4 .64 13 .64 1 .64 5 .65 5 .64-10 .64 0 .64-4 .65 1 .64-5 .64 12 .64 0 .65-4 .64-2 .64 9 .64 6 .65-7 .64 2 .64-4 .64 2 .65 0 .64 1 .64-1 .64 6 .65 6 .64-13 .64 14 .64-10 .65 0 .64-11 .64-1 .64 20 .65-11 .64 12 .64-4 .64 1 .65 7 .64-8 .64-19 .64 9 .65 17 .64 7 .64-13 .64-3 .65-4 .64 12 .64-14 .64 4 .65 8 .64 1 .64-2 .64 8 .65-13 .64 0 .64 5 .64 3 .65-2 .64 14 .64-15 .64 8 .65-7 .64 5 .64-4 .64 0 .65 12 .64-11 .64 12 .64-15 .65 2 .64 9 .64-21 .64 5 .65 10 .64 3 .64 1 .64-5 .65-7 .64 14 .64-3 .64-9 .65 7 .64 11 .64-10 .64-8 .65 5 .64 0 .64 4 .64 4 .65-11 .64 2 .64 10 .64-2 .65 4 .64-17 .64 2 .64 12 .65-12 .64 7 .64-3 .64-4 .65 13 .64-10 .64-3 .64 2 .65 2 .64-12 .64 4 .64-3 .65-5 .64 18 .64 3 .64-2 .65-19 .64 13 .64 2 .64-8 .65 8 .64-13 .64 0 .64 1 .65 1 .64-3 .64 12 .64-13 .65 3 .64-2 .64 17 .64-20 .65 8 .64 8 .64-20 .64 2 .65 3 .64-7 .64 15 .64-11 .65 9 .64-4 .64-4 .64 6 .65-9 .64 8 .64-16 .64 3 .65 12 .64-22 .64 16 .64-6 .65-2 .64-2 .64 13 .64-20 .65 16 .64-3 .64-7 .64 1 .65 5 .64-10 .64-7 .64 12 .65-9 .64 2 .64 2 .64 4 .65 7 .64-11 .64-2 .64 4 .65-5 .64-15 .64 7 .64-5 .65 13 .64 3 .64-7 .64-11 .65 12 .64-13 .64 8 .64-11 .65-1 .64-1 .64 10 .64-5 .65 8 .64-13 .64 13 .64-8 .65 13 .64-2 .64-9 .64 2 .65 1 .64 2 .64-6 .64 10 .65-12 .64-11 .64 16 .64-3 .65 7 .64-2 .64-4 .64 0 .65 0 .64-6 .64-4 .64 3 .65 5 .64-17 .64 14 .64-4 .65 6 .64-6 .64 7 .64-3 .65 12 .64-13 .64 1 .64 2 .65-14 .64 5 .64 19 .64-7 .65-3 .64 7 .64-9 .64-1 .65-1 .64-11 .64 21 .64-9 .65 1 .64-2 .64-3 .64-12 .65 18 .64 15 .64-9 .64-10 .65-4 .64 7 .64 2 .64-4 .65 7 .64-13 .64 15 .64-7 .65-6 .64 2 .64 5 .64 3 .65-5 .64 3 .64 14 .64-30 .65-3 .64 15 .64-8 .64 8 .65-13 .64 13 .64 9 .64-2 .65-16 .64 6 .64 8 .64 7 .65-21 .64 1 .64 15 .64-11 .65-5 .64 16 .64-21 .64 8 .65 13 .64-11 .64 11 .64-14 .65 16 .64-2 .64 9 .64-13 .65 0 .64 3 .64 9 .64-13 .65 6 .64 16 .64-8 .64 0 .65-8 .64 10 .64-13 .64-2 .65 5 .64 17 .64-8 .64-7 .65 5 .64 7 .64 6 .64-19 .65 22 .64-2 .64-11 .64 3 .65 7 .64-4 .64 4 .64-8 .65-4 .64 30 .64-15 .64 1 .65 3 .64 7 .64-2 .64-12 .65 6 .64 2 .64 6 .64-9 .65 7 .64 0 .64 8 .64-26 .65 18 .64 3 .64 2 .64-3 .65-5 .64 10 .64-1 .64-8 .65-2 .64 12 .64-8 .64 10 .65 6 .64-8 .64 1 .64 0 .65 8 .64 1 .64-8 .64 5 .65-4 .64-3 .64 9 .64-5 .65-4 .64-4 .64 16 .64-12 .65-1 .64 6 .64 6 .64-15 .65 15 .64-2 .64-9 .64 0 .65 6 .64 13 .64-13 .64 8 .65-1 .64-15 .64 10 .64 6 .65-9 .64 11 .64-14 .64-2 .65 6 .64 7 .64-6 .64 8 .65-15 .64 6 .64 12 .64-23 .65 17 .64-7 .64 1 .64 2 .65-6 .64 14 .64-2 .64 4 .65-6 .64-7 .64 10 .64-12 .65 3 .64 18 .64-6 .64-4 .65 7 .64-11 .64 5 .64-8 .65 3 .64 2 .64 8 .64-13 .65 11 .64-7 .64-10 .64-2 .65 8 .64 10 .64-5 .64 9 .65-10 .64 8 .64-7 .64-8 .65 10 .64-9 .64-4 .64 4 .65 2 .64 4 .64 3 .64-1 .65 8 .64-24 .64 10 .64 17 .65-18 .64-5 .64 2 .64-1 .65 3 .64 13 .64-19 .64 4 .65 13 .64-7 .64 0 .64-4 .65 8 .64-13 .64 12 .64-5 .65-2 .64-2 .64 10 .64-4 .65-4 .64 4 .64-7 .64 14 .65 2 .64-2 .64-4 .64 2 .65-11 .64 6 .64 1 .64 2 .65 5 .64-6 .64-2 .64 12 .65-8 .64-2 .64-7 .64 4 .65 7 .64 3 .64-11 .64 11 .65 2 .64-4 .64 3 .64 8 .65-11 .64-5 .64 8 .64-3 .65 5 .64 4 .64 2 .64-3 .65 6 .64-6 .64 4 .64-4 .65 0 .64-4 .64 3 .64-3 .65 2 .64 2 .64 6 .64-8 .65 5 .64-10 .64 6 .64 8 .65-5 .64-11 .64 10 .64-1 .65-5 .64-3 .64 4 .64 0 .65 10 .64-1 .64 0 .64 3 .65-18 .64 11 .64 3 .64-5 .65 0 .64 0 .64 5 .64-1 .65 7 .64-5 .64-1 .64-1 .65-4 .64 4 .64 4 .64-2 .65-8 .64-3 .64 12 .64-2 .65 0 .64-6 .64 8 .64 0 .65-5 .64 4 .64-8 .64 5 .65-11 .64 10 .64 14 .64-9 .65 5 .64-6 .64-2 .64 0 .65-3 .64 6 .64-8 .64 4 .65 18 .64-15 .64-6 .64 9 .65-4 .64-4 .64-5 .64 6 .65-2 .64 3 .64 1 .64 0 .65-7 .64 8 .64-1 .64-10 .65 9 .64-2 .64 2 .64-8 .65 4 .64 0 .64-6 .64 9 .65-6 .64 3 .64-10 .64-7 .65-5 .64-12 .64 1 .64 8 .65 13 .64 6 .64 6 .64 3 .65 6 .64-10 .64 4 .64-1 .65-19 .64 16 .64-1 .64 2 .65-6 .64-1 .64 1 .64 7 .65-2 .64 5 .64-16 .64 13 .65 4 .64-17 .64 5 .64-10 .65-8 .64 8 .64 8 .64 0 .65-4 .64 6 .64-3 .64 9 .65-21 .64 3 .64 1 .64-1 .65 1 .64 17 .64-18 .64 6 .65-14 .64 4 .64 10 .64 0 .65-17 .64 23 .64-11 .64-8 .65 7 .64-8 .64-6 .64 10 .65 4 .64 1 .64-19 .64 4 .65 4 .64 7 .64 1 .64-12 .65-7 .64 12 .64-8 .64 5 .65 3 .64-4 .64-12 .64-2 .65-3 .64 15 .64 2 .64-17 .65 3 .64-4 .64 5 .64-6 .65-1 .64 14 .64-3 .64-7 .65 7 .64-14 .64 7 .64-11 .65 0 .64 12 .64-18 .64 5 .65-7 .64-2 .64 8 .64-1 .65-14 .64 27 .64-6 .64-20 .65 9 .64-4 .64-7 .64-7 .65 9 .64-3 .64 10 .64-10 .65-11 .64 1 .64 4 .64 7 .65-19 .64 11 .64 7 .64-24 .65 23 .64-18 .64 3 .64-5 .65 7 .64 1 .64-1 .64 19 .65-45 .64 16 .64-7 .64 8 .65-4 .64 3 .64 1 .64-5 .65 13 .64-22 .64 8 .64 4 .65 11 .64-24 .64 1 .64 14 .65-4 .64-14 .64 22 .64-8 .65-6 .64 0 .64 3 .64-5 .65 6 .64 0 .64-13 .64-5 .65 28 .64-19 .64 20 .64-14 .65-25 .64 26 .64-10 .64-12 .65 19 .64-9 .64 8 .64 11 .65-3 .64-6 .64 0 .64 0 .65-7 .64-3 .64 5 .64 5 .65-8 .64 5 .64 2 .64-8 .65 17 .64 2 .64-10 .64-10 .65-8 .64-5 .64 32 .64-9 .65-7 .64-8 .64 12 .64 10 .65-6 .64-12 .64 36 .64-22 .65-16 .64 15 .64 0 .64 3 .65-4 .64-14 .64 15 .64-11 .65 8 .64-1 .64 6 .64-4 .65-5 .64 26 .64-26 .64-1 .65 7 .64 1 .64 4 .64-22 .65 8 .64 15 .64-8 .64 0 .65-15 .64 0 .64 5 .64 9 .65 5 .64 1 .64-25 .64 16 .65 1 .64-4 .64 0 .64-6 .65 6 .64-18 .64 32 .64-9 .65 11 .64-21 .64-8 .64 31 .65-35 .64 8 .64 18 .64 5 .65-19 .64 4 .64-1 .64 6 .65-13 .64 9 .64-3 .64-17 .65-10 .64 10 .64-3 .64 8 .65 19 .64 6 .64-13 .64-1 .65 22 .64-1 .64 2 .64 4 .65-24 .64-3 .64 23 .64 0 .65-6 .64 5 .64-12 .64-1 .65 8 .64 5 .64 2 .64-5 .65 6 .64 6 .64-6 .64-7 .65 19 .64-24 .64 12 .64 15 .65 5 .64-6 .64-17 .64-10 .65 11 .64 4 .64 2 .64-8 .65 4 .64 7 .64-1 .64 11 .65-5 .64 2 .64-8 .64 7 .65-13 .64 14 .64-8 .64 14 .65 4 .64-4 .64 11 .64-17 .65 4 .64-3 .64 1 .64 13 .65-21 .64 24 .64-3 .64-6 .65-7 .64 4 .64-5 .64 14 .65-20 .64 1 .64 8 .64-20 .65 31 .64-14 .64 8 .64-5 .65-15 .64 14 .64 3 .64-13 .65 2 .64-1 .64 14 .64-16 .65 3 .64 6 .64 2 .64-6 .65 17 .64 0 .64-23 .64 24 .65-10 .64 1 .64 1 .64-17 .65 1 .64 13 .64-9 .64 27 .65-25 .64 11 .64-16 .64 25 .65-2 .64-27 .64 14 .64-2 .65 12 .64-32 .64 16 .64 10 .65-10 .64-3 .64-7 .64 15 .65-5 .64-10 .64 13 .64-7 .65 8 .64 3 .64 3 .64-6 .65-10 .64 6 .64-1 .64 11 .65-14 .64 18 .64-12 .64 6 .65-9 .64 14 .64-15 .64 18 .65-10 .64 4 .64-2 .64-11 .65 18 .64-24 .64 14 .64 5 .65 2 .64-13 .64 1 .64 3 .65-7 .64 7 .64-6 .64 12 .65-6 .64-5 .64 1 .64 7 .65-7 .64-5 .64 3 .64 10 .65-16 .64 15 .64 6 .64-11 .65 3 .64-10 .64 4 .64 4 .65 7 .64-6 .64-5 .64 4 .65-5 .64 24 .64-19 .64 17 .65-24 .64 5 .64 19 .64-13 .65 19 .64-10 .64 5 .64-22 .65 14 .64-3 .64 17 .64-15 .65 5 .64-5 .64-5 .64 19 .65-6 .64 7 .64-9 .64 8 .65-4 .64 4 .64 6 .64-4 .65 9 .64-11 .64 7 .64 13 .65-14 .64-7 .64 22 .64-9 .65-6 .64 0 .64 13 .64-12 .65-3 .64 17 .64-2 .64 3 .65-7 .64 7 .64-9 .64 5 .65 4 .64 1 .64 7 .64-2 .65-10 .64 3 .64 9 .64 5 .65-5 .64-5 .64 5 .64 6 .65 2 .64-12 .64-2 .64 8 .65-4 .64 4 .64-5 .64 8 .65 1 .64 6 .64-3 .64-7 .65-9 .64 11 .64-12 .64-6 .65 6 .64-8 .64 19 .64-7 .65-1 .64-16 .64-4 .64-8 .65-15 .64-7 .64 4 .64 3 .65 13 .64 14 .64-5 .64-12 .65 6 .64 1 .64 1 .64 4 .65-10 .64 16 .64-15 .64 3 .65-12 .64-11 .64 16 .64 0 .65-1 .64-11 .64 0 .64-11 .65-8 .64 10 .64 0 .64-3 .65 0 .64-3 .64-5 .64-5 .65-8 .64-11 .64-16 .64 4 .65-6 .64-23 .64-20 .64-39 .65-51 .64-42 .64-52 .64-31 .65-6 .64 14 .64 29 .64 33 .65 28 .64 38 .64 25 .64 31 .65 21 .64 6 .64 19 .64 10 .65 5 .64 8 .64-5 .64 7 .65 1 .64 4 .64 2 .64-14 .65 18 .64 13 .64-17 .64 8 .65-18 .64 29 .64 0 .64 9 .65 7 .64-18 .64 3 .64 12 .65-7 .64 11 .64-17 .64 13 .65-5 .64-2 .64 15 .64-9 .65 6 .64 2 .64-17 .64 29 .65-1 .64 0 .64-2 .64 15 .65-7 .64-9 .64 13 .64 7 .65-8 .64 2 .64 5 .64 4 .65-1 .64-4 .64 9 .64-5 .65 1 .64 12 .64-10 .64-3 .65 12 .64-10 .64 16 .64-6 .65 8 .64-6 .64-6 .64-11 .65 14 .64 16 .64-10 .64 10 .65 3 .64-17 .64 9 .64 3 .65 12 .64 2 .64-14 .64 10 .65-1 .64-9 .64 15 .64 5 .65-18 .64 12 .64-8 .64 12 .65 1 .64-9 .64 2 .64 12 .65-11 .64 9 .64-18 .64 3 .65 16 .64-4 .64-3 .64-4 .65 8 .64-9 .64 8 .64 6 .65-5 .64-8 .64 0 .64 8 .65-10 .64 19 .64-8 .64 1 .65 2 .64-2 .64 13 .64-11 .65-3 .64 14 .64-10 .64 14 .65-5 .64-6 .64 3 .64-6 .65 0 .64 13 .64-8 .64 1 .65-1 .64 3 .64-2 .64 2 .65 0 .64 8 .64-11 .64 1 .65-1 .64-9 .64 1 .64-12 .65-8 .64 1 .64 11 .64 10 .65 8 .64 5 .64-3 .64 10 .65-6 .64 6 .64-7 .64 8 .65-5 .64-4 .64 2 .64 4 .65-10 .64 10 .64-11 .64 12 .65-5 .64-2 .64 3 .64 11 .65 2 .64-11 .64 10 .64-6 .65 8 .64-8 .64 3 .64-9 .65 13 .64-2 .64 2 .64 2 .65-10 .64 4 .64-12 .64 6 .65-2 .64 11 .64-1 .64 0 .65-1 .64 10 .64-6 .64-7 .65 12 .64 0 .64-4 .64-17 .65 8 .64 7 .64-4 .64-6 .65 9 .64-4 .64 5 .64 0 .65 7 .64-12 .64 10 .64-10 .65 10 .64-2 .64 0 .64-2 .65-4 .64 6 .64 1 .64 4 .65-4 .64 0 .64-8 .64-3 .65 10 .64 11 .64-12 .64-4 .65-9 .64 17 .64-8 .64 2 .65 5 .64 2 .64 6 .64-3 .65-3 .64-4 .64-6 .64 5 .65 6 .64-16 .64 11 .64 8 .65-3 .64-6 .64 0 .64 5 .65-4 .64 4 .64 6 .64-10 .65-2 .64 8 .64-3 .64-6 .65-6 .64 19 .64 1 .64-10 .65 3 .64-1 .64 1 .64 6 .65-6 .64-3 .64 3 .64-1 .65 3 .64-5 .64-2 .64 13 .65-6 .64 1 .64 7 .64-11 .65-1 .64 2 .64-6 .64 0 .65-1 .64 9 .64-11 .64 8 .65-1 .64 8 .64-9 .64 6 .65 0 .64 0 .64 3 .64-16 .65 11 .64-4 .64 0 .64 9 .65-10 .64 0 .64 9 .64-16 .65 17 .64-12 .64 15 .64-14 .65 7 .64-1 .64-2 .64 2 .65-2 .64 5 .64-2 .64-13 .65-4 .64 25 .64-24 .64 12 .65-4 .64 0 .64-1 .64 15 .65-6 .64-11 .64 9 .64-2 .65 9 .64-10 .64-10 .64 18 .65 0 .64 1 .64-6 .64-15 .65 4 .64 4 .64 2 .64-3 .65 5 .64-9 .64 3 .64-2 .65 3 .64-7 .64 19 .64-17 .65 2 .64 6 .64-7 .64 9 .65 0 .64 0 .64-9 .64-1 .65 2 .64 0 .64 2 .64 1 .65-2 .64-2 .64 8 .64 0 .65-3 .64-2 .64-2 .64 4 .65-13 .64-7 .64-1 .64-9 .65-16 .64-24 .64-36 .64-41 .65-32 .64-1 .64 24 .64 35 .65 31 .64 22 .64 23 .64 11 .65 13 .64 1 .64 6 .64 7 .65-2 .64 1 .64 0 .64-3 .65 8 .64-10 .64 5 .64-2 .65 8 .64 10 .64-18 .64 10 .65-3 .64 11 .64-24 .64 9 .65 8 .64-3 .64 2 .64-11 .65 8 .64-2 .64 15 .64-9 .65 0 .64-3 .64 9 .64-7 .65 2 .64-7 .64 10 .64 0 .65-11 .64 2 .64 6 .64-3 .65-4 .64 6 .64 3 .64-4 .65-2 .64 5 .64-3 .64-1 .65 4 .64 6 .64 0 .64-6 .65-3 .64 2 .64 2 .64 2 .65-5 .64 1 .64 2 .64-6 .65 5 .64 1 .64 3 .64-2 .65-5 .64-3 .64 2 .64-3 .65 2 .64 2 .64 1 .64 6 .65-4 .64 0 .64 2 .64-5 .65-2 .64 4 .64-2 .64 13 .65 0 .64-8 .64 3 .64 6 .65 0 .64-2 .64-1 .64 2 .65-11 .64-5 .64 6 .64 7 .65-7 .64 3 .64 2 .64 0 .65-5 .64 4 .64 6 .64-1 .65-3 .64-1 .64 8 .64 2 .65-13 .64 2 .64 1 .64 5 .65-3 .64-1 .64 10 .64-6 .65-6 .64 4 .64 0 .64 8 .65-16 .64 9 .64 1 .64 5 .65-6 .64 4 .64 0 .64-11 .65 5 .64 0 .64 4 .64-7 .65 8 .64-3 .64 3 .64-12 .65 13 .64 0 .64-8 .64 5 .65 4 .64 7 .64-12 .64 3 .65-4 .64 6 .64-9 .64 4 .65 3 .64 0 .64-2 .64 0 .65-1 .64 7 .64-4 .64-6 .65 9 .64 0 .64 4 .64 2 .65-8 .64 6 .64-5 .64 2 .65-5 .64 2 .64-1 .64-8 .65 8 .64-5 .64 8 .64-12 .65 11 .64-8 .64 4 .64 3 .65 3 .64-7 .64 5 .64 5 .65-5 .64 3 .64-3 .64 6 .65-2 .64 2 .64-6 .64 0 .65-12 .64 8 .64 0 .64 9 .65-6 .64-3 .64 4 .64-2 .65-2 .64 0 .64 10 .64 2 .65-7 .64 2 .64 2 .64-5 .65 3 .64-7 .64-3 .64 5 .65 9 .64-6 .64-5 .64 8 .65 3 .64-9 .64 7 .64 7 .65-11 .64 2 .64-4 .64-3 .65 1 .64 10 .64-2 .64-3 .65 10 .64-10 .64 2 .64 3 .65-6 .64-2 .64 2 .64-2 .65 5 .64 1 .64-4 .64-7 .65 7 .64-3 .64 4 .64 3 .65 5 .64 0 .64-12 .64 6 .65-3 .64 3 .64 7 .64-4 .65-2 .64-3 .64-1 .64 1 .65 4 .64 5 .64-5 .64-3 .65 0 .64 4 .64 4 .64 2 .65-14 .64-2 .64 11 .64-1 .65 1 .64 3 .64-8 .64 4 .65-8 .64 10 .64-6 .64 0 .65-5 .64 11 .64-2 .64-1 .65-9 .64 3 .64 8 .64-6 .65 2 .64 1 .64-4 .64 7 .65-14 .64 16 .64 0 .64-5 .65 1 .64-4 .64 9 .64-11 .65-2 .64 7 .64-5 .64 1 .65 9 .64-16 .64 12 .64-8 .65 5 .64 2 .64-1 .64-8 .65 7 .64 2 .64 6 .64-7 .65-7 .64 2 .64-1 .64 10 .65-2 .64-11 .64 5 .64 8 .65-10 .64 7 .64-4 .64 2 .65-3 .64-4 .64 2 .64 6 .65 4 .64-7 .64 3 .64 0 .65-7 .64 0 .64 8 .64-1 .65-6 .64-5 .64 5 .64 1 .65 4 .64-4 .64 2 .64 4 .65-2 .64-4 .64 7 .64-3 .65 5 .64-10 .64 3 .64-2 .65-4 .64 1 .64 5 .64 2 .65-5 .64 1 .64 7 .64-7 .65-1 .64 6 .64-6 .64 4 .65-4 .64 2 .64-2 .64-1 .65 3 .64 8 .64-5 .64-4 .65 6 .64-14 .64 9 .64-4 .65-2 .64 2 .64 2 .64-4 .65 5 .64-8 .64 10 .64 0 .65 7 .64-7 .64-4 .64-1 .65 4 .64 0 .64-8 .64-2 .65 11 .64-1 .64-7 .64 11 .65-5 .64-3 .64 1 .64 3 .65-3 .64 0 .64 4 .64-8 .65 6 .64-1 .64 5 .64-4 .65 2 .64 1 .64 1 .64-9 .65 2 .64 0 .64 10 .64-4 .65-3 .64 1 .64-3 .64 6 .65-7 .64 4 .64-2 .64-5 .65 9 .64-3 .64-2 .64-5 .65 8 .64-7 .64-2 .64 11 .65-6 .64 1 .64 2 .64 3 .65-11 .64-3 .64 12 .64-6 .65 2 .64 3 .64 3 .64-10 .65 1 .64-8 .64 11 .64-1 .65 0 .64 8 .64-14 .64-2 .65 3 .64 7 .64-10 .64 2 .65 7 .64-8 .64 2 .64-2 .65 8 .64-6 .64 7 .64-7 .65 4 .64-5 .64 7 .64-16 .65 22 .64-8 .64-8 .64 2 .65 3 .64 0 .64-4 .64 8 .65-7 .64-4 .64 3 .64 3 .65-12 .64 1 .64 8 .64-5 .65-3 .64 7 .64-4 .64-16 .65-3 .64 5 .64-2 .64-10 .65-4 .64-12 .64-6 .64-20 .65-13 .64-22 .64-29 .64-32 .65-37 .64-38 .64-39 .64-26 .65-16 .64 5 .64 12 .64 22 .65 28 .64 29 .64 32 .64 28 .65 25 .64 25 .64 21 .64 10 .65 19 .64 5 .64 16 .64 7 .65 7 .64 10 .64 4 .64 3 .65-12 .64 20 .64-6 .64-8 .65 15 .64-1 .64 1 .64 9 .65-7 .64-2 .64 9 .64-8 .65 10 .64-9 .64 8 .64 7 .65-4 .64-8 .64-4 .64 6 .65-6 .64 15 .64-1 .64-16 .65 9 .64 5 .64 2 .64-10 .65 6 .64-5 .64 4 .64 5 .65-13 .64 10 .64 4 .64-12 .65 4 .64 12 .64-7 .64 4 .65-1 .64 4 .64-2 .64-4 .65-4 .64 7 .64-8 .64 2 .65 1 .64 1 .64-4 .64 5 .65 5 .64-12 .64-2 .64 7 .65 4 .64 1 .64 0 .64-2 .65 10 .64-6 .64-2 .64 2 .65-1 .64-2 .64 2 .64-3 .65 0 .64 8 .64-14 .64 6 .65-1 .64 6 .64-7 .64 6 .65 1 .64 1 .64 1 .64-3 .65-3 .64 3 .64-8 .64 13 .65-9 .64 3 .64-1 .64 11 .65-11 .64 2 .64 7 .64-4 .65-5 .64 7 .64-5 .64 5 .65 2 .64-9 .64-1 .64 2 .65 5 .64 7 .64-7 .64 1 .65-5 .64 2 .64 1 .64-9 .65 6 .64 0 .64 3 .64 4 .65-4 .64 3 .64-1 .64 0 .65-4 .64 1 .64 1 .64-2 .65 4 .64-6 .64 8 .64-4 .65-6 .64 11 .64 1 .64 0 .65-9 .64 0 .64 3 .64-2 .65 6 .64-6 .64 1 .64 4 .65-3 .64-3 .64 5 .64-3 .65 4 .64-1 .64 0 .64-5 .65 2 .64 4 .64-7 .64 12 .65-6 .64 1 .64-6 .64 3 .65 0 .64-5 .64 2 .64 10 .65-9 .64 4 .64 4 .64-6 .65 3 .64-2 .64 0 .64 6 .65-6 .64-7 .64 4 .64 4 .65 4 .64-6 .64 8 .64-13 .65 5 .64 3 .64-2 .64-1 .65 6 .64-8 .64 2 .64 2 .65-6 .64 7 .64 1 .64 0 .65 4 .64-7 .64 6 .64-2 .65-4 .64-2 .64 9 .64-12 .65 11 .64-3 .64 4 .64-7 .65-4 .64 8 .64 1 .64 1 .65-2 .64-2 .64 0 .64 3 .65-6 .64 4 .64 2 .64 5 .65-8 .64-2 .64 11 .64-6 .65 3 .64-7 .64-3 .64 5 .65 3 .64 1 .64 1 .64-7 .65 4 .64-7 .64 2 .64 3 .65 1 .64 5 .64-2 .64 3 .65-12 .64 8 .64-6 .64 8 .65-5 .64 3 .64 2 .64-3 .65-4 .64 1 .64-1 .64 1 .65 1 .64 4 .64-11 .64 19 .65-11 .64 1 .64-3 .64 1 .65 0 .64-2 .64 8 .64-5 .65 1 .64-2 .64 14 .64-15 .65 5 .64 3 .64-10 .64 1 .65-1 .64 6 .64 1 .64 2 .65-8 .64 4 .64-2 .64 3 .65-13 .64 19 .64-10 .64 6 .65-7 .64 4 .64-3 .64 0 .65 8 .64 1 .64-11 .64 3 .65-5 .64 11 .64-1 .64-1 .65-8 .64 5 .64-2 .64-1 .65 3 .64 3 .64 1 .64-3 .65 3 .64-4 .64-1 .64 2 .65-2 .64 0 .64 6 .64-2 .65-4 .64-2 .64 3 .64 1 .65-5 .64-2 .64-5 .64 14 .65-7 .64-1 .64 4 .64 2 .65-11 .64 9 .64-3 .64-2 .65-6 .64-1 .64 0 .64-3 .65-4 .64 0 .64-5 .64-9 .65-8 .64-2 .64-8 .64-12 .65-9 .64-12 .64-10 .64-16 .65-8 .64-14 .64-9 .64-4 .65-6 .64-1 .64 7 .64 5 .65 6 .64 9 .64 13 .64 10 .65 14 .64 6 .64 13 .64 9 .65 4 .64 11 .64 5 .64 5 .65 5 .64 7 .64 2 .64 9 .65-5 .64 1 .64 7 .64-8 .65 15 .64 3 .64-1 .64-2 .65-2 .64 4 .64-5 .64 5 .65 0 .64 2 .64-6 .64 6 .65-2 .64-2 .64 1 .64 3 .65 2 .64-14 .64 10 .64 9 .65 1 .64-5 .64-3 .64-1 .65 10 .64-8 .64 4 .64-9 .65 3 .64 9 .64-3 .64-2 .65-7 .64 8 .64 1 .64 2 .65-9 .64 1 .64 4 .64 0 .65-1 .64-1 .64-2 .64 4 .65-4 .64 3 .64 4 .64-6 .65 3 .64 9 .64-13 .64 3 .65 3 .64 4 .64-2 .64 3 .65-2 .64-6 .64 1 .64 1 .65 2 .64 3 .64-6 .64 3 .65 2 .64-9 .64 7 .64 0 .65-2 .64 0 .64-7 .64 3 .65 5 .64-2 .64 7 .64-8 .65 1 .64 7 .64-4 .64 3 .65-6 .64-1 .64 9 .64-2 .65-7 .64 1 .64 12 .64-7 .65 8 .64-8 .64-1 .64 2 .65 4 .64-6 .64 0 .64 0 .65-1 .64 3 .64 4 .64-3 .65-4 .64 1 .64-2 .64 3 .65-5 .64 8 .64-2 .64-2 .65 1 .64 0 .64 1 .64 0 .65 3 .64 0 .64-11 .64 9 .65 7 .64-10 .64 3 .64-3 .65-4 .64 11 .64-2 .64-11 .65 7 .64 3 .64 1 .64-8 .65 8 .64-2 .64-5 .64 4 .65 3 .64 2 .64-5 .64 6 .65-5 .64 2 .64 1 .64-6 .65 4 .64-5 .64-1 .64 3 .65 0 .64 3 .64 2 .64-2 .65-2 .64 3 .64-4 .64 3 .65 5 .64-5 .64-7 .64-1 .65 12 .64-1 .64-2 .64 4 .65-3 .64 1 .64-5 .64 7 .65 3 .64-1 .64-5 .64 0 .65 3 .64-5 .64 5 .64-6 .65 7 .64 0 .64 1 .64-4 .65-6 .64 5 .64 0 .64-1 .65 0 .64 8 .64-6 .64 2 .65-1 .64-5 .64 4 .64-2 .65 4 .64-6 .64-2 .64 4 .65 1 .64-2 .64 0 .64 2 .65-1 .64-1 .64 4 .64-2 .65 3 .64-2 .64-4 .64 2 .65 4 .64-3 .64 6 .64-7 .65 0 .64-3 .64-3 .64 3 .65 9 .64-12 .64 12 .64-3 .65-10 .64 5 .64 6 .64 1 .65-2 .64-1 .64 2 .64-2 .65-8 .64 4 .64-4 .64 5 .65 7 .64-10 .64-2 .64 8 .65-11 .64 8 .64 2 .64 5 .65-4 .64 5 .64-9 .64 4 .65-5 .64 5 .64 2 .64-6 .65 2 .64 1 .64 5 .64-5 .65-2 .64 0 .64-8 .64 8 .65 3 .64-3 .64 0 .64 2 .65 3 .64-3 .64 0 .64 0 .65-4 .64-1 .64 0 .64 5 .65-5 .64 6 .64-5 .64 3 .65 4 .64 5 .64-7 .64-9 .65 6 .64 3 .64 1 .64-6 .65-4 .64 7 .64-3 .64 0 .65-3 .64 6 .64-7 .64 5 .65 1 .64 0 .64 1 .64 5 .65 1 .64-7 .64-2 .64-1 .65 0 .64 1 .64 5 .64-1 .65-5 .64 1 .64 7 .64-11 .65 8 .64 3 .64-6 .64 4 .65 0 .64-2 .64-4 .64 4 .65-5 .64 1 .64 9 .64-7 .65-4 .64 9 .64 1 .64 1 .65-2 .64-2 .64-10 .64 12 .65-6 .64 3 .64 3 .64-1 .65-1 .64 4 .64 2 .64-8 .65-1 .64 11 .64-5 .64-3 .65-3 .64 5 .64 5 .64-9 .65 4 .64-6 .64 8 .64-3 .65 5 .64-4 .64-1 .64-3 .65-1 .64 2 .64 4 .64-2 .65 0 .64 0 .64 3 .64 2 .65-5 .64 2 .64-8 .64-2 .65 4 .64 5 .64-6 .64 0 .65 7 .64-3 .64 0 .64-2 .65 5 .64-2 .64-1 .64-4 .65 0 .64 10 .64-8 .64 1 .65-1 .64-3 .64 1 .64 5 .65-8 .64 11 .64-9 .64-2 .65-1 .64 8 .64 8 .64-5 .65-1 .64-3 .64 4 .64-2 .65 0 .64 0 .64 5 .64-2 .65 2 .64-6 .64 4 .64-1 .65-7 .64 1 .64 6 .64-3 .65 4 .64-3 .64-1 .64-2 .65-5 .64 11 .64-6 .64 2 .65-2 .64 4 .64-3 .64-1 .65 0 .64 0 .64 2 .64 1 .65-10 .64 6 .64 2 .64 5 .65-1 .64-5 .64-1 .64 3 .65-3 .64 5 .64 4 .64-2 .65 0 .64-7 .64-4 .64 3 .65 6 .64 5 .64-3 .64-2 .65-5 .64 5 .64-4 .64-3 .65 2 .64 0 .64 9 .64-8 .65 6 .64-3 .64-1 .64 2 .65 0 .64 6 .64-11 .64 2 .65 3 .64 1 .64-7 .64 3 .65 6 .64-5 .64 0 .64-1 .65-1 .64 6 .64-7 .64 5 .65 0 .64-6 .64 6 .64 1 .65 4 .64-5"/>
<path stroke="#8000FF" d="M403.75 569l.64 14 .65-9 .64-17 .64 6 .64 14 .64-7 .65 12 .64-25 .64 36 .64-1 .65-26 .64 11 .64-1 .64 3 .65 13 .64-11 .64-1 .64 14 .65 7 .64-13 .64 7 .64-13 .65 20 .64 11 .64-12 .64-5 .65-15 .64 15 .64-13 .64 23 .65 9 .64-3 .64-9 .64 4 .65-9 .64 8 .64 1 .64-1 .65-20 .64 24 .64 2 .64-9 .65 10 .64 3 .64-21 .64 23 .65-10 .64-4 .64 10 .64-7 .65 3 .64-4 .64 3 .64-3 .65 5 .64-3 .64-2 .64 19 .65-7 .64 3 .64 10 .64-7 .65-4 .64-8 .64 14 .64-2 .65 5 .64-8 .64-1 .64-12 .65 19 .64-15 .64 8 .64 7 .65-3 .64-1 .64 4 .64-15 .65 13 .64 8 .64 0 .64-18 .65 17 .64-3 .64-10 .64-2 .65 8 .64 11 .64-6 .64-10 .65 8 .64 7 .64-8 .64-2 .65 6 .64-17 .64 18 .64-12 .65 8 .64 4 .64-4 .64-4 .65 3 .64 8 .64-15 .64 3 .65 9 .64 3 .64-6 .64-3 .65 8 .64-7 .64 16 .64-5 .65 4 .64-19 .64 3 .64 1 .65-6 .64 5 .64 10 .64-14 .65 5 .64 12 .64-8 .64 1 .65-3 .64-4 .64 1 .64 5 .65-6 .64 4 .64-3 .64 2 .65 11 .64-6 .64-13 .64 7 .65 14 .64 0 .64-21 .64 11 .65-4 .64-17 .64 19 .64 11 .65-19 .64 3 .64 8 .64-10 .65 0 .64 5 .64-13 .64 13 .65-13 .64 10 .64 5 .64 5 .65-17 .64 7 .64 0 .64-15 .65 12 .64 2 .64 1 .64 10 .65-13 .64-2 .64-1 .64 0 .65 3 .64 8 .64-20 .64 8 .65-19 .64 5 .64 13 .64-17 .65 17 .64 7 .64-17 .64 1 .65 5 .64-5 .64 3 .64-5 .65 11 .64-5 .64-3 .64-17 .65 11 .64 5 .64 5 .64-11 .65 9 .64 1 .64-11 .64 9 .65-7 .64-8 .64 8 .64 10 .65-7 .64-4 .64 6 .64-1 .65-5 .64-16 .64-6 .64 6 .65 26 .64-8 .64-19 .64 18 .65-18 .64 13 .64 5 .64-9 .65 7 .64 1 .64-21 .64 13 .65 4 .64-7 .64-7 .64 23 .65-10 .64-6 .64-3 .64 7 .65 10 .64-13 .64 8 .64-1 .65-4 .64 2 .64 1 .64-8 .65-3 .64 17 .64 6 .64-7 .65-11 .64 7 .64-4 .64-6 .65 3 .64 4 .64 8 .64-12 .65 17 .64-8 .64 9 .64-1 .65-6 .64 0 .64 1 .64 1 .65 3 .64 9 .64-9 .64 7 .65-4 .64-10 .64 7 .64 1 .65 2 .64-9 .64 11 .64-12 .65 3 .64 6 .64-3 .64-8 .65-3 .64 6 .64-2 .64 21 .65-23 .64-3 .64 27 .64-29 .65 8 .64 8 .64-3 .64 2 .65 9 .64 6 .64-16 .64 1 .65-5 .64-2 .64 1 .64 5 .65-5 .64 5 .64-5 .64-5 .65 5 .64 1 .64-2 .64 1 .65 7 .64-14 .64 17 .64-12 .65 4 .64 10 .64-3 .64-20 .65 16 .64 7 .64-17 .64 3 .65 14 .64-20 .64 23 .64-24 .65 5 .64 1 .64 1 .64 9 .65-3 .64-2 .64 0 .64-14 .65 8 .64 13 .64-18 .64 20 .65-12 .64-7 .64 14 .64 0 .65-10 .64 1 .64-1 .64 2 .65-11 .64 13 .64 15 .64-12 .65 7 .64 5 .64-4 .64-4 .65 0 .64 1 .64 7 .64-4 .65 9 .64 8 .64-8 .64-13 .65 13 .64-3 .64-1 .64-2 .65 4 .64 25 .64-1 .64-8 .65-18 .64 8 .64 6 .64-9 .65 7 .64 4 .64 4 .64-7 .65 0 .64-4 .64 0 .64 4 .65-2 .64 7 .64-3 .64-3 .65 11 .64-12 .64 6 .64 0 .65-7 .64 4 .64 1 .64-5 .65-4 .64 25 .64-21 .64 2 .65 1 .64 1 .64 6 .64 0 .65-9 .64 6 .64 2 .64-5 .65 8 .64-5 .64 4 .64-13 .65 18 .64-12 .64-6 .64 1 .65 0 .64 7 .64-16 .64 8 .65 13 .64 1 .64-15 .64 7 .65 1 .64-3 .64-3 .64 9 .65-7 .64 3 .64 3 .64-11 .65 0 .64 20 .64-21 .64 14 .65 0 .64-7 .64-3 .64 1 .65-5 .64 5 .64-2 .64-2 .65 1 .64 8 .64-6 .64-2 .65 14 .64-13 .64 4 .64-10 .65-1 .64 10 .64 3 .64-27 .65 24 .64 1 .64-5 .64 4 .65-12 .64 10 .64-10 .64 6 .65-1 .64 3 .64-10 .64 11 .65 1 .64 5 .64-12 .64 7 .65-7 .64 7 .64-7 .64-3 .65 3 .64 14 .64 0 .64-9 .65 0 .64 2 .64-13 .64 23 .65-19 .64-2 .64 7 .64-5 .65 8 .64 2 .64-6 .64 3 .65-5 .64-7 .64 3 .64 21 .65-14 .64-11 .64 4 .64 2 .65 11 .64-4 .64 9 .64 3 .65-9 .64 0 .64 5 .64-11 .65 1 .64-9 .64 16 .64-10 .65 8 .64 14 .64-25 .64 6 .65-3 .64-1 .64 13 .64-15 .65 13 .64-2 .64 7 .64-18 .65 3 .64 15 .64-18 .64 13 .65 7 .64-17 .64 3 .64 13 .65-14 .64 14 .64 3 .64-7 .65-1 .64 1 .64-4 .64 10 .65-1 .64-4 .64 2 .64-10 .65 3 .64-7 .64 10 .64 9 .65-3 .64-5 .64 1 .64 0 .65 10 .64-14 .64 15 .64-4 .65-13 .64 13 .64 1 .64-7 .65 14 .64-17 .64 3 .64 4 .65 2 .64-5 .64 7 .64-9 .65 7 .64-5 .64 1 .64-6 .65 5 .64-8 .64 0 .64 8 .65 6 .64-11 .64 9 .64 11 .65-11 .64 1 .64-5 .64-11 .65 9 .64 3 .64-7 .64 8 .65-6 .64 10 .64-5 .64 1 .65 1 .64-3 .64 11 .64-17 .65 2 .64 4 .64 1 .64-9 .65 15 .64-8 .64 5 .64-7 .65 0 .64 5 .64-5 .64-1 .65 6 .64 3 .64-7 .64 4 .65-8 .64 8 .64-8 .64 7 .65-9 .64 8 .64 5 .64-6 .65-11 .64 19 .64-13 .64-10 .65 25 .64-16 .64 9 .64-3 .65 10 .64-2 .64-21 .64 13 .65-9 .64 6 .64-1 .64 0 .65-7 .64 12 .64 1 .64 0 .65 7 .64-14 .64-5 .64 7 .65-18 .64 15 .64-6 .64 0 .65-1 .64 0 .64 9 .64-13 .65 5 .64 6 .64-2 .64 10 .65-8 .64 12 .64-8 .64-12 .65 5 .64 11 .64-19 .64 2 .65-6 .64 12 .64 6 .64 1 .65-9 .64-8 .64 11 .64-3 .65 6 .64-4 .64 7 .64-13 .65 4 .64-1 .64-2 .64 6 .65-15 .64 1 .64-7 .64 16 .65 5 .64-3 .64 7 .64-11 .65-8 .64 8 .64-1 .64-1 .65 6 .64-15 .64 0 .64 5 .65 8 .64-15 .64 15 .64-1 .65-13 .64-3 .64 4 .64-12 .65 22 .64-10 .64 6 .64-14 .65 6 .64-4 .64 13 .64-21 .65 16 .64-10 .64-2 .64-14 .65 11 .64-3 .64 7 .64-10 .65-2 .64 12 .64-7 .64-6 .65 4 .64 1 .64-6 .64-1 .65 12 .64-14 .64-18 .64 24 .65 3 .64-4 .64-1 .64-27 .65 9 .64 7 .64-1 .64-3 .65-12 .64 3 .64 1 .64 10 .65 9 .64-35 .64 13 .64-11 .65 15 .64-8 .64 0 .64-5 .65-9 .64-2 .64 2 .64 10 .65 8 .64-10 .64-14 .64 15 .65-13 .64-4 .64-1 .64-11 .65-6 .64 6 .64 5 .64 3 .65-14 .64 10 .64-16 .64 30 .65-19 .64-5 .64 17 .64-7 .65-11 .64 27 .64-25 .64 12 .65-10 .64 13 .64-1 .64-15 .65 0 .64 18 .64-9 .64 6 .65-6 .64 7 .64-5 .64-11 .65 21 .64-16 .64 1 .64 2 .65 9 .64-20 .64 8 .64-2 .65-1 .64-8 .64-17 .64 20 .65 17 .64-11 .64-3 .64 2 .65 10 .64-10 .64-2 .64 8 .65 6 .64-7 .64-2 .64-19 .65 1 .64 16 .64-6 .64 0 .65 8 .64 5 .64 21 .64-38 .65 11 .64 22 .64-31 .64 13 .65-17 .64 23 .64-19 .64 13 .65 2 .64-13 .64-10 .64 6 .65 10 .64 4 .64 2 .64-17 .65 23 .64-9 .64-6 .64-6 .65-4 .64-13 .64 16 .64 5 .65 16 .64-9 .64-19 .64 18 .65-18 .64 32 .64 5 .64-23 .65-10 .64 20 .64-10 .64 1 .65-3 .64-10 .64 13 .64 5 .65-10 .64-6 .64-1 .64 11 .65 3 .64-14 .64-11 .64 17 .65-8 .64 5 .64 18 .64-6 .65-35 .64 10 .64 10 .64-19 .65-3 .64 16 .64-2 .64 2 .65 5 .64-10 .64 5 .64 0 .65 13 .64-31 .64 25 .64-24 .65 5 .64 19 .64 1 .64 0 .65-3 .64 2 .64-8 .64 10 .65 13 .64-35 .64 19 .64-5 .65-7 .64 13 .64 2 .64-26 .65 6 .64 23 .64-1 .64 17 .65-18 .64 17 .64-16 .64-7 .65 15 .64-5 .64 3 .64-24 .65 30 .64-5 .64 5 .64 2 .65 13 .64-17 .64 0 .64 11 .65 3 .64-8 .64-5 .64-1 .65-1 .64 1 .64 18 .64-10 .65 14 .64-10 .64 19 .64-9 .65 14 .64-6 .64-2 .64-10 .65 2 .64 1 .64 2 .64-5 .65 12 .64 1 .64-8 .64 17 .65-15 .64-13 .64 11 .64 3 .65-4 .64 6 .64-11 .64 7 .65 0 .64 5 .64-8 .64-2 .65 6 .64 3 .64-5 .64 1 .65-9 .64 24 .64-23 .64 35 .65-26 .64 14 .64-17 .64 9 .65-4 .64-5 .64-9 .64 7 .65-10 .64 26 .64-23 .64 25 .65-19 .64-16 .64 35 .64-9 .65-15 .64-2 .64-2 .64 16 .65-24 .64 7 .64 14 .64 9 .65-26 .64 0 .64-3 .64 16 .65-17 .64 5 .64 7 .64 1 .65 1 .64-16 .64 9 .64 2 .65 5 .64 6 .64-6 .64-16 .65 9 .64-13 .64 24 .64-16 .65 0 .64 5 .64-9 .64 12 .65 0 .64-5 .64-3 .64-33 .65 28 .64 9 .64-2 .64-39 .65 42 .64 2 .64-17 .64-2 .65 9 .64-11 .64 0 .64-3 .65 26 .64-12 .64-7 .64-5 .65 18 .64-11 .64 2 .64 2 .65-2 .64 7 .64 7 .64-23 .65 3 .64 14 .64-12 .64 8 .65 15 .64-9 .64 6 .64 1 .65 0 .64-8 .64 13 .64-21 .65 0 .64 12 .64-14 .64 10 .65-6 .64 16 .64-5 .64 5 .65-15 .64-13 .64 30 .64 5 .65-23 .64-2 .64-6 .64 30 .65-23 .64 16 .64 1 .64-7 .65 4 .64-1 .64 13 .64 7 .65 0 .64-25 .64 3 .64 8 .65 9 .64 5 .64-26 .64 22 .65 8 .64-6 .64 0 .64-15 .65 32 .64-8 .64-6 .64 0 .65 13 .64 5 .64-11 .64-9 .65 18 .64-10 .64 6 .64 0 .65-5 .64 22 .64-21 .64 24 .65-18 .64 6 .64 2 .64 4 .65-11 .64 24 .64-16 .64 15 .65-6 .64-7 .64-6 .64 10 .65 0 .64-9 .64 5 .64 7 .65 4 .64-10 .64 0 .64-5 .65-4 .64 18 .64-5 .64-4 .65 12 .64-2 .64-21 .64-6 .65 20 .64-5 .64 12 .64-19 .65 15 .64-2 .64-15 .64 26 .65-25 .64 6 .64-6 .64-1 .65-5 .64 0 .64 9 .64-19 .65 12 .64 0 .64 0 .64-2 .65 16 .64-18 .64-2 .64-7 .65 18 .64-2 .64-22 .64-2 .65-2 .64 16 .64-9 .64 3 .65-18 .64 7 .64-2 .64 8 .65-20 .64-20 .64 21 .64 11 .65 5 .64-39 .64 23 .64 1 .65-9 .64-10 .64 0 .64-15 .65-6 .64-30 .64-1 .64-13 .65 4 .64 21 .64 8 .64 18 .65 9 .64-1 .64 7 .64 23 .65-25 .64 16 .64 9 .64-4 .65 7 .64-19 .64 17 .64 5 .65-26 .64 22 .64-7 .64-1 .65 15 .64-3 .64 11 .64-8 .65-19 .64 12 .64 10 .64 5 .65-11 .64 12 .64-10 .64 19 .65-8 .64 2 .64-27 .64 26 .65 2 .64-7 .64 3 .64 12 .65-11 .64 9 .64-19 .64 25 .65-22 .64 1 .64 19 .64-6 .65-4 .64 16 .64-5 .64 16 .65-10 .64 10 .64-16 .64 10 .65 24 .64-20 .64-10 .64 4 .65 1 .64 8 .64-21 .64 25 .65-3 .64-5 .64 10 .64-25 .65 34 .64-12 .64 7 .64-15 .65 12 .64-3 .64 9 .64-18 .65 29 .64-14 .64 11 .64-11 .65-1 .64 1 .64 8 .64-2 .65-12 .64 3 .64 9 .64-13 .65 13 .64-8 .64 13 .64-3 .65 1 .64-6 .64 11 .64-10 .65 14 .64-20 .64 12 .64-6 .65 16 .64-5 .64 0 .64-10 .65 5 .64-7 .64 2 .64 17 .65-19 .64 12 .64 5 .64-2 .65 8 .64-24 .64 20 .64 5 .65-19 .64 7 .64-1 .64-3 .65 11 .64-11 .64 8 .64 2 .65-14 .64 5 .64 5 .64 12 .65-10 .64 3 .64-14 .64 29 .65-14 .64 4 .64 5 .64-6 .65-7 .64-2 .64 18 .64-21 .65 18 .64 7 .64-16 .64 0 .65 9 .64-1 .64-1 .64 18 .65-22 .64 12 .64 10 .64-17 .65-6 .64 21 .64-18 .64 11 .65-18 .64 12 .64-17 .64 4 .65 1 .64 9 .64 6 .64 3 .65-11 .64-9 .64-11 .64 25 .65-4 .64-1 .64 10 .64 0 .65 5 .64 0 .64 1 .64-10 .65-6 .64-1 .64 5 .64 4 .65-13 .64 9 .64 5 .64 8 .65-13 .64 1 .64-1 .64 12 .65-21 .64 17 .64-13 .64 7 .65 9 .64-9 .64 3 .64-6 .65-5 .64 21 .64-11 .64 3 .65-4 .64 2 .64 1 .64 3 .65-10 .64 4 .64 5 .64-3 .65 2 .64-4 .64 6 .64-4 .65-12 .64 8 .64 10 .64 14 .65-22 .64-8 .64 17 .64 11 .65-20 .64 3 .64 0 .64 11 .65-22 .64 19 .64-5 .64-1 .65-1 .64 6 .64 2 .64-15 .65 7 .64 7 .64-14 .64 15 .65 0 .64-6 .64-10 .64 4 .65 3 .64 6 .64-2 .64-1 .65 5 .64-5 .64-1 .64 2 .65 1 .64-4 .64-3 .64 3 .65 4 .64-12 .64 8 .64-1 .65-5 .64 15 .64-9 .64-12 .65 23 .64-5 .64-21 .64 22 .65-1 .64-3 .64 6 .64-9 .65 10 .64-11 .64 5 .64-2 .65 2 .64-2 .64-5 .64 8 .65-4 .64 4 .64-10 .64 14 .65-14 .64 0 .64 5 .64 11 .65-7 .64-1 .64 3 .64-6 .65 4 .64 5 .64-5 .64-8 .65 19 .64-9 .64-11 .64 5 .65 27 .64-20 .64-8 .64-4 .65 2 .64 8 .64 7 .64-2 .65-2 .64 1 .64-1 .64-2 .65 6 .64-7 .64 6 .64-20 .65 5 .64 14 .64-4 .64-9 .65 20 .64 3 .64-14 .64 1 .65-7 .64-6 .64 10 .64-4 .65 4 .64-1 .64-2 .64 3 .65 9 .64-17 .64 8 .64 7 .65-5 .64-3 .64-2 .64-5 .65 2 .64 10 .64-9 .64 12 .65-2 .64-4 .64 3 .64-7 .65 12 .64-15 .64 8 .64-4 .65-1 .64-5 .64 5 .64-6 .65 11 .64-7 .64 3 .64-8 .65 0 .64-3 .64-8 .64-3 .65-17 .64-13 .64-17 .64-34 .65-23 .64 7 .64 18 .64 14 .65 22 .64 15 .64 17 .64-4 .65 12 .64 3 .64 14 .64-9 .65-3 .64-2 .64 0 .64-6 .65 5 .64 5 .64 4 .64-5 .65 10 .64-5 .64 3 .64 14 .65-18 .64 6 .64 5 .64-13 .65 2 .64 5 .64-1 .64 2 .65 0 .64 4 .64-8 .64-3 .65 7 .64 4 .64-10 .64 8 .65-1 .64-2 .64 0 .64 5 .65 0 .64 1 .64-6 .64 4 .65 1 .64-1 .64-8 .64 15 .65-1 .64-7 .64 9 .64-14 .65 6 .64-6 .64-6 .64 12 .65-3 .64 3 .64 7 .64 3 .65-7 .64 1 .64 3 .64-4 .65-6 .64 8 .64-2 .64 14 .65-18 .64 11 .64 1 .64-9 .65 13 .64-2 .64 2 .64-1 .65-7 .64-10 .64 16 .64-3 .65-14 .64 1 .64 4 .64 2 .65-2 .64-1 .64 1 .64 7 .65 3 .64-8 .64 8 .64-10 .65-5 .64 13 .64-3 .64-1 .65 3 .64 7 .64 2 .64-7 .65 0 .64 8 .64-5 .64-4 .65-2 .64 2 .64 0 .64 1 .65-4 .64 15 .64 5 .64-13 .65-5 .64 9 .64-17 .64 7 .65 5 .64 7 .64 2 .64-6 .65 5 .64-9 .64 0 .64 3 .65 6 .64-5 .64 7 .64-12 .65 8 .64 3 .64-9 .64 11 .65-7 .64-3 .64 7 .64-5 .65 6 .64-15 .64 11 .64 5 .65-14 .64 20 .64-13 .64 11 .65-11 .64 8 .64-1 .64-1 .65-12 .64 12 .64-12 .64 11 .65-1 .64-2 .64 1 .64-5 .65 12 .64-7 .64 8 .64 5 .65-7 .64 3 .64-13 .64-1 .65 10 .64-10 .64 13 .64-8 .65 13 .64-10 .64 1 .64 10 .65-6 .64-1 .64 1 .64-9 .65-4 .64 18 .64-14 .64 3 .65-6 .64 11 .64-14 .64 10 .65 4 .64 2 .64 0 .64-8 .65 5 .64-7 .64 8 .64 4 .65-8 .64 7 .64-4 .64-4 .65 3 .64-2 .64 0 .64-1 .65 15 .64-16 .64 3 .64 6 .65-10 .64 3 .64 5 .64-7 .65 2 .64-3 .64 0 .64-1 .65-6 .64 14 .64-5 .64-2 .65-4 .64 3 .64 1 .64-10 .65 17 .64-5 .64-5 .64 4 .65 1 .64 3 .64-4 .64 7 .65-9 .64 8 .64-7 .64 1 .65 6 .64-2 .64-3 .64 4 .65-5 .64-3 .64 11 .64-6 .65-11 .64 12 .64-2 .64 6 .65-5 .64 7 .64-2 .64-15 .65 21 .64-8 .64 0 .64 7 .65-13 .64 3 .64-5 .64 13 .65-2 .64 1 .64-16 .64-2 .65 14 .64 9 .64-7 .64-4 .65 0 .64-8 .64 14 .64-8 .65-1 .64 2 .64-3 .64-4 .65 5 .64 4 .64-5 .64 1 .65 9 .64 0 .64-6 .64 1 .65 14 .64-28 .64 30 .64-13 .65-6 .64-1 .64-2 .64 1 .65 3 .64 9 .64-3 .64-5 .65 8 .64-12 .64 9 .64-6 .65 8 .64-14 .64 3 .64 13 .65-10 .64 5 .64-2 .64 2 .65-14 .64 2 .64-5 .64 12 .65-12 .64 16 .64-11 .64 1 .65 9 .64 7 .64-7 .64-5 .65 11 .64-10 .64-2 .64-2 .65 2 .64 8 .64-10 .64 7 .65-8 .64 9 .64-12 .64 10 .65 4 .64-14 .64 7 .64-2 .65 4 .64 5 .64-8 .64-4 .65 24 .64-18 .64 1 .64 2 .65 5 .64-11 .64 6 .64-1 .65 4 .64-9 .64 1 .64-3 .65 11 .64-5 .64 9 .64-14 .65 17 .64-17 .64 6 .64 6 .65-10 .64 8 .64 4 .64-22 .65 6 .64 7 .64-1 .64 4 .65 1 .64-14 .64 15 .64-2 .65-7 .64 8 .64 2 .64-8 .65-1 .64 6 .64-1 .64 8 .65-15 .64 0 .64 2 .64 12 .65-4 .64 7 .64-18 .64 3 .65 3 .64 7 .64-12 .64 7 .65-1 .64-1 .64 0 .64 4 .65 2 .64-9 .64 9 .64-1 .65-2 .64-7 .64 9 .64-8 .65 1 .64 10 .64-1 .64-2 .65-2 .64 4 .64-5 .64 3 .65-12 .64-5 .64 11 .64-1 .65-4 .64 10 .64-9 .64 9 .65 5 .64-13 .64 2 .64-2 .65-10 .64 10 .64-2 .64 1 .65-2 .64 1 .64 9 .64-7 .65-10 .64 16 .64 0 .64 2 .65-6 .64-2 .64 5 .64-1 .65-4 .64 3 .64 2 .64 8 .65-11 .64 1 .64-13 .64 7 .65-3 .64-2 .64-5 .64 20 .65 0 .64-7 .64-5 .64 1 .65 6 .64-5 .64-7 .64 6 .65-4 .64 5 .64-1 .64 5 .65-1 .64-7 .64 4 .64-3 .65 10 .64-4 .64-3 .64-2 .65-6 .64 1 .64-5 .64 15 .65-1 .64-3 .64-10 .64-11 .65 19 .64-8 .64-5 .64-3 .65 6 .64-9 .64 2 .64-19 .65 9 .64-9 .64 0 .64-5 .65-5 .64-18 .64-11 .64-13 .65-24 .64-21 .64-30 .64-32 .65-29 .64-36 .64-29 .64-21 .65-11 .64 1 .64 15 .64 16 .65 21 .64 27 .64 24 .64 27 .65 30 .64 23 .64 20 .64 17 .65 17 .64 11 .64 14 .64 11 .65 1 .64 13 .64 2 .64 4 .65 3 .64 8 .64-1 .64 5 .65 1 .64-5 .64 1 .64 15 .65-8 .64 7 .64-4 .64 6 .65-4 .64 4 .64 0 .64 4 .65 2 .64 4 .64-18 .64 14 .65-13 .64 5 .64 0 .64 7 .65 4 .64-7 .64 7 .64-6 .65 3 .64-7 .64 5 .64-3 .65-10 .64 16 .64 2 .64-19 .65 14 .64 2 .64 6 .64-11 .65 10 .64-4 .64 7 .64-11 .65-5 .64 8 .64-1 .64-8 .65 2 .64 8 .64-2 .64 3 .65 4 .64-9 .64-5 .64-1 .65 9 .64 3 .64-5 .64 1 .65-5 .64-9 .64 8 .64 11 .65 0 .64-7 .64 8 .64 7 .65-5 .64-2 .64 12 .64-19 .65 4 .64 5 .64-18 .64 5 .65 8 .64 11 .64-7 .64-4 .65 3 .64-5 .64-1 .64-1 .65 14 .64-10 .64 2 .64-10 .65 5 .64-1 .64 6 .64 1 .65-6 .64 5 .64-1 .64-7 .65 3 .64 6 .64 6 .64-10 .65-3 .64 10 .64-4 .64 8 .65-10 .64 10 .64-4 .64-8 .65 8 .64-3 .64 1 .64 6 .65-19 .64 5 .64 7 .64-7 .65 6 .64-4 .64 10 .64-12 .65 10 .64 1 .64-3 .64 7 .65-12 .64 0 .64 4 .64-7 .65 21 .64-16 .64 2 .64-5 .65-3 .64 14 .64-6 .64-2 .65 14 .64-8 .64 3 .64-11 .65 17 .64-12 .64 3 .64 1 .65-7 .64 4 .64 4 .64-7 .65 8 .64 4 .64-16 .64 10 .65-9 .64 8 .64-1 .64 9 .65-6 .64 2 .64 3 .64-5 .65-4 .64 9 .64-19 .64 7 .65 4 .64 14 .64-1 .64-13 .65 1 .64-3 .64 8 .64-7 .65 4 .64-3 .64 1 .64-7 .65 12 .64-7 .64 10 .64-3 .65 6 .64-5 .64-6 .64-3 .65-4 .64 6 .64 5 .64 2 .65-3 .64 1 .64-10 .64 2 .65 4 .64 1 .64 2 .64 1 .65-1 .64-1 .64 7 .64-2 .65-11 .64-6 .64 16 .64-15 .65 14 .64 5 .64-5 .64-5 .65 3 .64 4 .64-7 .64 8 .65-7 .64-3 .64-3 .64 4 .65 11 .64-9 .64 5 .64 7 .65-18 .64 5 .64 2 .64 3 .65 3 .64-12 .64 9 .64-7 .65 7 .64-10 .64 4 .64 9 .65-5 .64 2 .64-5 .64 12 .65-11 .64-2 .64 7 .64 8 .65-12 .64 1 .64-6 .64 5 .65 7 .64-13 .64 20 .64-5 .65-11 .64 3 .64 5 .64-2 .65 3 .64-4 .64-6 .64 7 .65 3 .64-3 .64 1 .64 6 .65-5 .64-5 .64 9 .64 1 .65-2 .64-13 .64 0 .64 12 .65-9 .64 11 .64-8 .64 12 .65-11 .64 0 .64-2 .64 2 .65-1 .64 4 .64 0 .64-2 .65 4 .64 0 .64 2 .64-1 .65 0 .64-8 .64 3 .64-9 .65 8 .64 0 .64 6 .64-7 .65-1 .64 1 .64-2 .64-1 .65-6 .64 7 .64 9 .64-5 .65-9 .64 15 .64-11 .64-1 .65 2 .64 5 .64-10 .64 13 .65-3 .64-17 .64 8 .64 4 .65 7 .64-9 .64-8 .64-6 .65-2 .64 17 .64-18 .64 8 .65-3 .64 1 .64-8 .64-2 .65-7 .64-8 .64-2 .64-8 .65 0 .64-11 .64-16 .64-7 .65-9 .64-16 .64-13 .64-6 .65-8 .64-4 .64 1 .64 1 .65 5 .64 6 .64 10 .64 11 .65 10 .64 11 .64 7 .64 9 .65 6 .64 13 .64 3 .64 10 .65 1 .64 9 .64-1 .64 5 .65 3 .64 0 .64 4 .64 2 .65 9 .64-5 .64 1 .64 2 .65 4 .64-6 .64 8 .64-3 .65 11 .64-10 .64 1 .64-5 .65 10 .64-6 .64-2 .64-3 .65 4 .64 6 .64-4 .64 9 .65 1 .64-10 .64 1 .64 7 .65 7 .64-6 .64 1 .64-16 .65 4 .64 6 .64-2 .64 1 .65 5 .64-5 .64 5 .64 4 .65-6 .64-3 .64-3 .64 4 .65 4 .64-3 .64 8 .64-18 .65 6 .64 11 .64-11 .64-1 .65 4 .64 3 .64-1 .64-1 .65-7 .64 17 .64-1 .64-13 .65 8 .64-3 .64-2 .64 7 .65-8 .64 2 .64 7 .64-2 .65-6 .64 7 .64 8 .64-14 .65 1 .64 5 .64-4 .64 3 .65-8 .64 8 .64-4 .64-3 .65 10 .64-8 .64 11 .64-7 .65-5 .64 2 .64-1 .64 2 .65 3 .64-1 .64 3 .64-8 .65 7 .64-2 .64 5 .64-3 .65 7 .64-11 .64 9 .64-9 .65 7 .64-2 .64-10 .64 16 .65-4 .64-9 .64-1 .64-6 .65 18 .64-9 .64 3 .64-8 .65 9 .64 3 .64 1 .64-5 .65-3 .64 3 .64-4 .64-5 .65-1 .64 11 .64 5 .64-6 .65 2 .64-2 .64-6 .64 12 .65-10 .64 11 .64-10 .64-5 .65 9 .64-6 .64 13 .64-9 .65-2 .64 6 .64 3 .64-10 .65 7 .64-6 .64 4 .64-3 .65-1 .64 3 .64 2 .64-5 .65 2 .64-2 .64-1 .64-7 .65 6 .64 11 .64-2 .64 5 .65-12 .64 6 .64-3 .64 4 .65-5 .64 8 .64 0 .64-18 .65 21 .64-1 .64-15 .64 8 .65-6 .64 4 .64 5 .64-3 .65-3 .64 2 .64 9 .64-14 .65 0 .64 8 .64 0 .64-2 .65 5 .64-6 .64-6 .64-1 .65 10 .64-2 .64-5 .64 4 .65 2 .64 1 .64-8 .64 0 .65 5 .64 1 .64 5 .64-6 .65-2 .64 3 .64-2 .64 6 .65-6 .64 5 .64 1 .64-10 .65 9 .64-3 .64-1 .64 9 .65-10 .64 2 .64-7 .64 10 .65-4 .64-2 .64 6 .64 5 .65-8 .64 10 .64-8 .64-4 .65 7 .64-7 .64 8 .64-4 .65-5 .64 2 .64 0 .64 5 .65-7 .64 6 .64-2 .64-2 .65 6 .64-6 .64 4 .64-4 .65 3 .64-7 .64 3 .64 2 .65-1 .64-6 .64 3 .64 4 .65-3 .64 4 .64-10 .64 7 .65 5 .64-3 .64 4 .64-9 .65 3 .64-1 .64 3 .64-6 .65 6 .64 4 .64 3 .64 2 .65-15 .64 3 .64-2 .64 0 .65 6 .64 7 .64-7 .64 1 .65 0 .64-1 .64-1 .64-3 .65 2 .64-4 .64 2 .64 7 .65-8 .64-2 .64 9 .64-6 .65 4 .64-3 .64 2 .64-4 .65 0 .64 2 .64 8 .64-3 .65-5 .64 3 .64 0 .64-5 .65 4 .64 4 .64-7 .64 0 .65-3 .64-2 .64 4 .64 0 .65 0 .64 0 .64 9 .64-5 .65-1 .64 0 .64 6 .64-2 .65-7 .64 9 .64-8 .64 6 .65-1 .64-9 .64 2 .64 11 .65-4 .64-2 .64 5 .64 0 .65-6 .64 7 .64-4 .64-8 .65 11 .64-10 .64 2 .64 7 .65-10 .64 7 .64 3 .64-5 .65 4 .64-5 .64 6 .64 1 .65-1 .64-3 .64-5 .64 3 .65-4 .64 1 .64 1 .64 6 .65 0 .64-12 .64 12 .64-3 .65 0 .64-1 .64 4 .64-8 .65 9 .64 2 .64-9 .64 3 .65-2 .64 1 .64-5 .64 10 .65 2 .64-10 .64 10 .64-12 .65-1 .64 13 .64-1 .64-8 .65 5 .64-6 .64 6 .64 7 .65-10 .64 2 .64 4 .64-8 .65 4 .64-4 .64 7 .64-1 .65-2 .64 5 .64-7 .64 5 .65-6 .64 2 .64 5 .64 2 .65-4 .64 3 .64-7 .64-2 .65 3 .64 2 .64 2 .64 3 .65-13 .64 6 .64-5 .64 3 .65 7 .64-2 .64-2 .64 0 .65-4 .64 10 .64-5 .64 3 .65-10 .64 10 .64-1 .64-4 .65 5 .64-7 .64 6 .64 1 .65-3 .64-3 .64 7 .64-4 .65 1 .64 3 .64 0 .64-11 .65 6 .64 0 .64-2 .64 13 .65-5 .64-3 .64-1 .64-5 .65-8 .64 14 .64-4 .64-2 .65 6 .64-14 .64 13 .64-3 .65-3 .64 6 .64-3 .64 0 .65 2 .64-8 .64 8 .64 2 .65 0 .64 2 .64-2 .64-1 .65-5 .64 3 .64-7 .64 11 .65-5 .64 1 .64-2 .64 1 .65-1 .64 1 .64 3 .64 1 .65 1 .64 4 .64-6 .64-5 .65 6 .64 1 .64-5 .64 3 .65 0 .64-1"/>
<path stroke="#000080" d="M403.75 676l.64-23 .65 20 .64-16 .64 24 .64-24 .64 10 .65 3 .64-12 .64 30 .64-21 .65 4 .64 9 .64 15 .64-13 .65 28 .64-17 .64 0 .64 8 .65-3 .64-7 .64 6 .64 8 .65 14 .64-11 .64 3 .64-22 .65 18 .64 3 .64 17 .64 0 .65-12 .64 5 .64-4 .64-5 .65 8 .64-2 .64 7 .64 4 .65-6 .64 12 .64-17 .64 10 .65 3 .64-16 .64 21 .64 1 .65 9 .64-14 .64 6 .64 1 .65-18 .64 16 .64-13 .64 14 .65 4 .64-3 .64-18 .64 29 .65-9 .64 6 .64-12 .64 3 .65 19 .64-17 .64-1 .64 1 .65 11 .64-19 .64 10 .64-4 .65 27 .64-10 .64-7 .64 1 .65-3 .64-1 .64 3 .64 15 .65-15 .64 1 .64 5 .64 9 .65-7 .64-12 .64 9 .64-1 .65-9 .64 4 .64 8 .64-6 .65 16 .64-10 .64-6 .64 3 .65-6 .64 2 .64 11 .64-6 .65-14 .64 4 .64 15 .64-13 .65 6 .64 11 .64-10 .64 0 .65-1 .64 11 .64-13 .64-4 .65 10 .64 11 .64-9 .64 9 .65-3 .64-17 .64 9 .64-1 .65 1 .64 9 .64 1 .64-5 .65 4 .64-13 .64 10 .64-14 .65 6 .64-7 .64 18 .64-12 .65 9 .64-15 .64 11 .64 4 .65-5 .64 1 .64-1 .64-1 .65-3 .64-3 .64 14 .64-8 .65 0 .64 2 .64-11 .64-1 .65 0 .64 23 .64-15 .64 7 .65-19 .64 10 .64 4 .64-5 .65 12 .64-10 .64 1 .64 9 .65 4 .64-10 .64-6 .64 2 .65 11 .64-17 .64 0 .64 0 .65 15 .64-5 .64-10 .64 1 .65 6 .64-4 .64-4 .64 1 .65 5 .64-3 .64 4 .64-3 .65-3 .64 9 .64 0 .64-19 .65 17 .64-6 .64-5 .64 13 .65-4 .64 2 .64-8 .64 17 .65-10 .64-9 .64 19 .64-21 .65 18 .64-14 .64-3 .64-1 .65-3 .64 1 .64 9 .64-3 .65-13 .64 14 .64-13 .64 15 .65-8 .64 2 .64 11 .64-26 .65 33 .64 7 .64-15 .64-5 .65-9 .64 14 .64-10 .64-1 .65-4 .64 17 .64-4 .64-18 .65 10 .64-9 .64 17 .64-14 .65 6 .64 5 .64-6 .64-8 .65 6 .64-7 .64 22 .64-4 .65-21 .64 5 .64 27 .64-13 .65-8 .64 10 .64-4 .64 3 .65-9 .64 16 .64-11 .64-11 .65 9 .64-3 .64 6 .64-1 .65-1 .64-8 .64 9 .64-7 .65 18 .64-22 .64 7 .64-2 .65-4 .64 11 .64-1 .64-1 .65 11 .64-16 .64 8 .64-3 .65 1 .64-12 .64 1 .64 16 .65-16 .64 18 .64 3 .64-16 .65 7 .64-2 .64 11 .64 5 .65-11 .64 1 .64 3 .64-17 .65 6 .64 8 .64-11 .64 17 .65-21 .64 6 .64 2 .64 5 .65-13 .64 4 .64 6 .64-2 .65 3 .64-11 .64-2 .64-14 .65 12 .64 6 .64-8 .64 8 .65 10 .64-11 .64 11 .64-1 .65-6 .64 5 .64 2 .64-18 .65 23 .64-27 .64 16 .64-6 .65 0 .64 6 .64-4 .64 2 .65 2 .64-6 .64 9 .64-10 .65 14 .64-13 .64 12 .64-6 .65 16 .64-18 .64 17 .64-11 .65-9 .64 24 .64-3 .64 6 .65-15 .64 10 .64 5 .64-9 .65 21 .64-23 .64 10 .64-13 .65 2 .64 3 .64 3 .64 3 .65 2 .64-19 .64 17 .64-4 .65-9 .64 8 .64 11 .64-1 .65-14 .64 7 .64 1 .64 13 .65-11 .64-3 .64 6 .64-17 .65 18 .64 7 .64-4 .64-15 .65 30 .64-12 .64-5 .64 1 .65 7 .64-7 .64 0 .64 6 .65-12 .64 13 .64-11 .64 10 .65 4 .64-3 .64 2 .64-8 .65-2 .64 12 .64-7 .64-5 .65 3 .64-1 .64 10 .64-1 .65 6 .64-17 .64 8 .64-1 .65-12 .64 13 .64 5 .64-9 .65-3 .64 24 .64-24 .64 19 .65-8 .64 1 .64-7 .64-3 .65 16 .64 3 .64-18 .64 14 .65-8 .64 5 .64-7 .64-3 .65-5 .64-2 .64 11 .64-1 .65-6 .64-3 .64 5 .64 8 .65 3 .64 1 .64-6 .64 4 .65-13 .64 19 .64-10 .64-6 .65-1 .64-1 .64 5 .64 7 .65-10 .64 11 .64-5 .64-12 .65 3 .64 2 .64 3 .64 15 .65 3 .64-14 .64 1 .64-7 .65 12 .64-13 .64 3 .64 3 .65 5 .64-4 .64-17 .64 18 .65-5 .64 5 .64 7 .64-20 .65 12 .64 5 .64-16 .64 18 .65-4 .64-2 .64-7 .64 7 .65 2 .64-10 .64 2 .64-2 .65 7 .64 1 .64 3 .64-3 .65-5 .64 2 .64-5 .64 12 .65-13 .64 0 .64 6 .64-12 .65 15 .64 6 .64-5 .64 0 .65-1 .64-3 .64-1 .64-7 .65 10 .64 3 .64 7 .64-15 .65 5 .64 1 .64-6 .64 0 .65 0 .64 2 .64 12 .64-21 .65 4 .64-1 .64 11 .64 2 .65-9 .64 12 .64-12 .64 17 .65-9 .64 6 .64-15 .64 15 .65-4 .64-4 .64-6 .64 15 .65 0 .64-7 .64 9 .64 0 .65 2 .64-13 .64 11 .64-3 .65-5 .64 6 .64-4 .64 10 .65-7 .64 3 .64 3 .64 6 .65-7 .64-11 .64 16 .64-7 .65 5 .64-6 .64-3 .64-6 .65 10 .64 4 .64-9 .64 0 .65 0 .64 3 .64 2 .64 4 .65-7 .64 3 .64-7 .64 12 .65-6 .64-8 .64 3 .64 5 .65 8 .64-7 .64 10 .64-7 .65-8 .64 1 .64 15 .64-15 .65 0 .64-1 .64-2 .64 12 .65 1 .64-12 .64 17 .64-4 .65-8 .64-7 .64 7 .64 0 .65 6 .64-7 .64 9 .64 9 .65-20 .64 1 .64 11 .64 4 .65-23 .64 8 .64-7 .64 12 .65-1 .64-6 .64 6 .64 6 .65-27 .64 10 .64 5 .64 4 .65 3 .64-1 .64 9 .64-10 .65-6 .64 0 .64-8 .64 12 .65 4 .64-10 .64 12 .64-14 .65 13 .64-6 .64 12 .64-9 .65 0 .64-4 .64-5 .64 3 .65-3 .64-4 .64 18 .64-2 .65-3 .64 0 .64-13 .64-9 .65 21 .64-1 .64 0 .64 2 .65-1 .64-9 .64 8 .64 0 .65 6 .64-6 .64-3 .64-1 .65-7 .64 3 .64 8 .64-19 .65 7 .64 10 .64-9 .64-7 .65 13 .64 1 .64-1 .64-1 .65-12 .64 27 .64-23 .64 0 .65 9 .64 0 .64-4 .64 1 .65 2 .64-2 .64-8 .64 6 .65 1 .64 0 .64-3 .64-7 .65 10 .64 1 .64-3 .64-14 .65 13 .64 8 .64-8 .64-7 .65 5 .64-3 .64-2 .64 5 .65-2 .64-7 .64 17 .64-6 .65-19 .64 10 .64 0 .64-18 .65 9 .64 16 .64-8 .64 3 .65-3 .64-1 .64-5 .64-6 .65-5 .64 6 .64 11 .64 1 .65 1 .64-11 .64-6 .64 16 .65-4 .64-5 .64-1 .64-8 .65 12 .64-23 .64 9 .64 7 .65-5 .64 11 .64-10 .64-9 .65-2 .64-11 .64 26 .64-10 .65 3 .64-15 .64 0 .64 11 .65-9 .64 2 .64 12 .64-10 .65-2 .64-2 .64-7 .64 9 .65-6 .64 17 .64-15 .64-21 .65 10 .64-6 .64 19 .64-15 .65-11 .64 6 .64 11 .64-3 .65-7 .64-2 .64-14 .64 7 .65 1 .64-8 .64 9 .64-13 .65 18 .64-16 .64-3 .64-2 .65 7 .64 6 .64-2 .64-10 .65 8 .64-12 .64 8 .64 5 .65-4 .64-7 .64-3 .64 10 .65-4 .64-17 .64 7 .64 6 .65 4 .64-3 .64 13 .64-23 .65 23 .64-17 .64 6 .64-7 .65 5 .64-16 .64 27 .64-19 .65 4 .64-21 .64 21 .64-6 .65 13 .64-4 .64-8 .64-9 .65 26 .64-16 .64 13 .64-1 .65 5 .64-27 .64 1 .64 7 .65-3 .64 13 .64-4 .64 3 .65-4 .64 2 .64 0 .64-3 .65-7 .64 17 .64-15 .64-13 .65-3 .64 23 .64-8 .64-2 .65-8 .64 14 .64 7 .64-6 .65-14 .64 9 .64 2 .64-11 .65-2 .64 0 .64 28 .64-4 .65-15 .64 2 .64 10 .64-1 .65-4 .64-16 .64 0 .64 8 .65 8 .64-2 .64-8 .64-6 .65 23 .64-25 .64 10 .64 0 .65 3 .64 9 .64-33 .64-9 .65 31 .64 6 .64-2 .64-2 .65-8 .64-2 .64 21 .64-27 .65 18 .64-13 .64 2 .64-11 .65 7 .64-5 .64-10 .64 5 .65-8 .64 26 .64-19 .64 5 .65 21 .64-11 .64-11 .64 14 .65-7 .64 3 .64-15 .64 17 .65-6 .64-7 .64-5 .64 6 .65-5 .64 10 .64 1 .64-9 .65 21 .64-3 .64-21 .64 28 .65-21 .64-6 .64 15 .64 12 .65 4 .64-19 .64 9 .64 0 .65 12 .64-3 .64-4 .64 0 .65 0 .64 0 .64-4 .64-4 .65 20 .64-11 .64 1 .64-4 .65 6 .64-8 .64 9 .64-5 .65 14 .64-29 .64 32 .64-10 .65-12 .64 16 .64-8 .64 7 .65-5 .64 4 .64-2 .64-2 .65-1 .64 13 .64 3 .64 2 .65-8 .64 6 .64 3 .64 1 .65-2 .64 5 .64-9 .64 9 .65-14 .64 7 .64-2 .64 0 .65 13 .64-21 .64 9 .64 2 .65 5 .64-13 .64-2 .64 5 .65 5 .64 4 .64 11 .64 1 .65-8 .64-4 .64 5 .64-3 .65-6 .64-1 .64 18 .64-11 .65-10 .64 16 .64-18 .64 5 .65 5 .64-3 .64-2 .64-2 .65-1 .64-4 .64 12 .64 8 .65-18 .64 13 .64 2 .64-17 .65 18 .64-1 .64-8 .64-5 .65 10 .64-2 .64-10 .64-15 .65 31 .64-35 .64 23 .64-23 .65 18 .64-1 .64 5 .64 2 .65 2 .64-15 .64 16 .64-2 .65-14 .64 11 .64-11 .64 8 .65-12 .64 12 .64 10 .64-17 .65 6 .64 15 .64 7 .64-35 .65 6 .64-17 .64 6 .64 30 .65-20 .64-1 .64 0 .64 14 .65-22 .64 5 .64 5 .64-4 .65 9 .64 12 .64-18 .64 6 .65 12 .64-12 .64-10 .64 16 .65 1 .64 8 .64-15 .64 11 .65 2 .64-29 .64 17 .64 18 .65-24 .64 20 .64-14 .64-11 .65-9 .64 16 .64-6 .64 29 .65-37 .64 30 .64-11 .64 12 .65-22 .64 16 .64-11 .64 16 .65 7 .64-8 .64-5 .64 8 .65-2 .64-11 .64-13 .64 15 .65-15 .64 13 .64 30 .64-7 .65-18 .64 9 .64 13 .64-14 .65-14 .64 2 .64 28 .64 2 .65 0 .64-5 .64-1 .64 2 .65-5 .64 7 .64 3 .64-12 .65 27 .64-10 .64 4 .64-13 .65 8 .64-2 .64-6 .64 5 .65 25 .64-15 .64 3 .64-4 .65 0 .64-6 .64 10 .64-10 .65 10 .64-13 .64 5 .64 3 .65 7 .64-12 .64 11 .64 2 .65 3 .64-4 .64 0 .64-1 .65-9 .64 14 .64-7 .64 5 .65 11 .64-5 .64-4 .64-3 .65-2 .64-5 .64 11 .64 11 .65-8 .64-10 .64 15 .64-14 .65 1 .64 13 .64-3 .64 8 .65-21 .64 10 .64-1 .64-3 .65 0 .64-14 .64 14 .64-8 .65 8 .64-9 .64 13 .64-5 .65-3 .64 1 .64-6 .64 13 .65-5 .64-4 .64-1 .64-1 .65 1 .64-5 .64-8 .64-5 .65 3 .64 17 .64-15 .64 8 .65 4 .64-13 .64-6 .64-2 .65 6 .64-18 .64 9 .64 10 .65-15 .64-4 .64-4 .64-8 .65-12 .64 18 .64-1 .64-21 .65 12 .64 7 .64-7 .64-5 .65-18 .64-11 .64-10 .64-19 .65-46 .64-50 .64-88 .64-95 .65-82 .64-33 .64 32 .64 65 .65 79 .64 72 .64 59 .64 40 .65 35 .64 22 .64 10 .64 12 .65 22 .64-2 .64 2 .64 10 .65-11 .64 23 .64 5 .64 11 .65-16 .64 12 .64-11 .64 0 .65 2 .64 8 .64-4 .64 7 .65-7 .64 0 .64 16 .64-16 .65 8 .64 15 .64-8 .64 1 .65-5 .64-2 .64 15 .64-8 .65 2 .64 6 .64-12 .64 9 .65-28 .64 40 .64-2 .64-20 .65 15 .64 0 .64-12 .64 9 .65-2 .64 0 .64 4 .64 8 .65-9 .64 2 .64 0 .64-6 .65 13 .64 14 .64-4 .64-17 .65 13 .64-8 .64 15 .64-20 .65 24 .64-21 .64 17 .64 6 .65-9 .64 11 .64-12 .64 14 .65-15 .64 4 .64 5 .64 14 .65-22 .64-1 .64 16 .64-8 .65-5 .64 4 .64 8 .64-11 .65-1 .64 10 .64 2 .64-8 .65 4 .64 10 .64-17 .64 2 .65 17 .64-3 .64 7 .64-9 .65-1 .64 3 .64-14 .64 4 .65 12 .64 0 .64 2 .64-1 .65-3 .64-8 .64 12 .64-2 .65-12 .64 17 .64-3 .64 2 .65-9 .64 2 .64 23 .64-22 .65 2 .64 8 .64-21 .64 16 .65 4 .64 1 .64-1 .64-14 .65 12 .64 2 .64-18 .64 18 .65-6 .64 5 .64-1 .64-1 .65 5 .64-1 .64 4 .64-3 .65-8 .64 16 .64-9 .64-11 .65 13 .64-1 .64 4 .64 4 .65-8 .64-6 .64 12 .64-10 .65 3 .64 5 .64-7 .64 0 .65 13 .64-8 .64 2 .64-4 .65 1 .64-3 .64 5 .64-2 .65 1 .64-3 .64 20 .64-9 .65-11 .64-5 .64 15 .64-5 .65-4 .64 7 .64-7 .64 15 .65-11 .64-6 .64-3 .64 20 .65-13 .64 1 .64 4 .64-7 .65-2 .64 3 .64 6 .64-1 .65-5 .64 3 .64 12 .64-3 .65-9 .64 4 .64-2 .64 4 .65 10 .64-16 .64 6 .64-2 .65 2 .64-2 .64-6 .64 2 .65-9 .64 6 .64 5 .64 7 .65 1 .64-5 .64-4 .64-3 .65-3 .64 11 .64 3 .64-4 .65-6 .64 1 .64 15 .64-7 .65-4 .64 8 .64-5 .64-10 .65 11 .64 0 .64 7 .64-13 .65 10 .64-1 .64-2 .64-1 .65 0 .64-1 .64 2 .64 3 .65-4 .64-4 .64 2 .64 1 .65 0 .64 2 .64-9 .64 11 .65 9 .64-6 .64-8 .64-6 .65 8 .64 0 .64 1 .64-5 .65 0 .64 9 .64-5 .64 8 .65-13 .64-3 .64 12 .64-8 .65 1 .64 9 .64-7 .64 7 .65-8 .64 4 .64 2 .64 3 .65-1 .64-6 .64 0 .64 7 .65 1 .64 0 .64-14 .64-1 .65 10 .64-7 .64 4 .64 3 .65-2 .64 2 .64 9 .64-16 .65 7 .64-4 .64 1 .64-4 .65 9 .64-4 .64 11 .64-4 .65-14 .64 12 .64-5 .64 0 .65 9 .64 6 .64-19 .64 1 .65 0 .64 8 .64-6 .64 8 .65-18 .64 8 .64 10 .64 2 .65-13 .64-1 .64 5 .64 0 .65 0 .64-2 .64 20 .64-10 .65-10 .64 1 .64 3 .64 3 .65 7 .64-3 .64-6 .64-5 .65 9 .64-1 .64-11 .64-5 .65 8 .64 3 .64-3 .64-3 .65-3 .64 15 .64-11 .64-5 .65-1 .64 9 .64-10 .64 15 .65-18 .64 3 .64-5 .64 13 .65-13 .64 0 .64 12 .64 2 .65-11 .64 12 .64-3 .64-18 .65 14 .64 4 .64-10 .64-8 .65 0 .64-8 .64-2 .64-9 .65-22 .64-27 .64-33 .64-44 .65-25 .64-5 .64 20 .64 33 .65 33 .64 27 .64 21 .64 14 .65 13 .64 10 .64-1 .64-6 .65 8 .64 19 .64-11 .64 0 .65-2 .64 6 .64-4 .64 10 .65-2 .64-15 .64 8 .64 4 .65-3 .64 3 .64 3 .64-4 .65-4 .64 8 .64-4 .64-1 .65 0 .64 16 .64-11 .64-5 .65 3 .64-2 .64 0 .64 1 .65 7 .64-4 .64-3 .64 11 .65-5 .64-2 .64 2 .64-2 .65 5 .64-9 .64 0 .64 7 .65-9 .64 2 .64 7 .64 11 .65-12 .64 3 .64-9 .64 4 .65 15 .64-11 .64 1 .64-6 .65 10 .64-2 .64 2 .64 0 .65-7 .64-2 .64 4 .64 1 .65 3 .64-4 .64-8 .64 19 .65-5 .64-12 .64 18 .64-18 .65-3 .64 3 .64 16 .64-7 .65-4 .64 2 .64 8 .64-10 .65 6 .64-2 .64 0 .64 5 .65-4 .64 3 .64-3 .64-8 .65 5 .64 6 .64 12 .64-17 .65 9 .64-10 .64 7 .64 4 .65-6 .64 0 .64-3 .64 5 .65 0 .64 3 .64-5 .64-2 .65 1 .64 1 .64 4 .64 3 .65-11 .64 11 .64-5 .64-6 .65 2 .64-3 .64-1 .64 6 .65 3 .64-3 .64 5 .64 0 .65 0 .64 0 .64 0 .64-13 .65 12 .64-12 .64 17 .64-10 .65 1 .64-2 .64 8 .64-8 .65 4 .64-3 .64 5 .64-6 .65 8 .64-3 .64-4 .64 4 .65-3 .64-2 .64 3 .64-10 .65 12 .64 3 .64-7 .64 6 .65 3 .64-10 .64 14 .64-11 .65 7 .64-3 .64 5 .64-8 .65 2 .64 6 .64 2 .64-5 .65 3 .64-12 .64 2 .64 5 .65 2 .64 1 .64 4 .64-6 .65 3 .64-1 .64-6 .64-6 .65 9 .64 0 .64 8 .64-5 .65 2 .64-6 .64 0 .64 5 .65 5 .64-14 .64 5 .64-5 .65 1 .64 9 .64-1 .64-5 .65 3 .64 7 .64-12 .64 10 .65-5 .64-12 .64 17 .64 5 .65-12 .64 1 .64-2 .64 4 .65 0 .64 6 .64-3 .64-3 .65-1 .64 7 .64-7 .64 0 .65 5 .64 1 .64-7 .64 0 .65 15 .64-20 .64 10 .64-4 .65 11 .64-11 .64 0 .64 2 .65-3 .64 9 .64-1 .64-2 .65 2 .64-7 .64 1 .64 6 .65-6 .64 0 .64-4 .64 4 .65 0 .64 2 .64 1 .64-4 .65 6 .64-3 .64 2 .64-2 .65-3 .64 4 .64-2 .64-1 .65-2 .64-10 .64 21 .64-5 .65 5 .64-8 .64 4 .64-6 .65-6 .64 15 .64-3 .64 5 .65-5 .64 5 .64-20 .64 20 .65-10 .64 5 .64-9 .64 0 .65 15 .64-19 .64 13 .64-1 .65 0 .64-7 .64 6 .64-6 .65 0 .64 2 .64 8 .64-6 .65 0 .64 4 .64 1 .64-9 .65 13 .64-7 .64-2 .64-9 .65 7 .64 3 .64 2 .64-2 .65-3 .64 1 .64-5 .64 1 .65 9 .64-6 .64 5 .64-1 .65 6 .64-12 .64 3 .64-10 .65 7 .64 2 .64 10 .64-8 .65-5 .64 13 .64 3 .64-7 .65-3 .64 7 .64-15 .64 8 .65-9 .64 15 .64-4 .64 0 .65 1 .64-9 .64-5 .64 0 .65 8 .64-3 .64-18 .64 19 .65-6 .64-1 .64-2 .64-1 .65 2 .64 1 .64 1 .64-4 .65 9 .64 4 .64-5 .64 4 .65 1 .64-2 .64-2 .64 3 .65-1 .64-7 .64 15 .64 9 .65-14 .64 3 .64-10 .64 5 .65 1 .64 5 .64-8 .64 6 .65-5 .64 7 .64-7 .64-2 .65 1 .64-1 .64 3 .64-4 .65 4 .64-1 .64 1 .64-2 .65 2 .64 7 .64-1 .64-4 .65 6 .64-4 .64-10 .64 2 .65-2 .64 0 .64 14 .64-9 .65-1 .64 11 .64-13 .64 2 .65 7 .64-2 .64 1 .64 3 .65-12 .64 1 .64 11 .64-4 .65-1 .64-1 .64 3 .64 2 .65-10 .64 8 .64 9 .64-13 .65 5 .64 9 .64-14 .64 1 .65-8 .64 6 .64-1 .64 8 .65 3 .64-6 .64 1 .64-7 .65 16 .64-7 .64 1 .64 8 .65-13 .64 0 .64-2 .64-7 .65 17 .64-9 .64-4 .64 0 .65 8 .64 5 .64-7 .64-6 .65 0 .64 9 .64 4 .64-7 .65-12 .64 15 .64-10 .64 8 .65 1 .64 0 .64-8 .64 1 .65 6 .64 2 .64-4 .64-3 .65-4 .64-5 .64 12 .64-5 .65-9 .64 21 .64-2 .64 2 .65-10 .64 5 .64-10 .64 7 .65 1 .64 3 .64-10 .64 10 .65 3 .64-1 .64-2 .64 2 .65-3 .64-6 .64-5 .64-1 .65 6 .64-4 .64 3 .64 0 .65-7 .64 9 .64-15 .64 1 .65 6 .64-5 .64-9 .64 7 .65-11 .64 7 .64-11 .64-5 .65 0 .64-1 .64-4 .64-12 .65-7 .64-8 .64-12 .64-18 .65-16 .64-24 .64-29 .64-29 .65-34 .64-29 .64-31 .64-22 .65-10 .64 2 .64 11 .64 15 .65 25 .64 23 .64 28 .64 27 .65 26 .64 24 .64 22 .64 12 .65 18 .64 11 .64 15 .64 7 .65 20 .64 1 .64 2 .64-4 .65 12 .64 0 .64 7 .64-1 .65 3 .64-7 .64 9 .64 10 .65-5 .64 4 .64-1 .64-3 .65 11 .64-13 .64 13 .64-6 .65 1 .64-5 .64 13 .64-9 .65 1 .64 3 .64 8 .64-11 .65-8 .64 0 .64 4 .64 5 .65-3 .64-1 .64 11 .64 7 .65-7 .64-2 .64-6 .64 6 .65 1 .64-3 .64 1 .64-5 .65 9 .64-10 .64 15 .64-8 .65-5 .64 8 .64-6 .64-1 .65 8 .64 2 .64-15 .64 7 .65 13 .64-14 .64-1 .64-1 .65-10 .64 17 .64-4 .64 4 .65 7 .64-4 .64 0 .64-14 .65-4 .64 18 .64-3 .64 3 .65-1 .64 2 .64 2 .64 0 .65-8 .64 7 .64-11 .64 5 .65-6 .64 11 .64-4 .64-3 .65-1 .64 4 .64 8 .64 0 .65-18 .64 11 .64 5 .64 0 .65-1 .64-11 .64 5 .64 10 .65-9 .64-3 .64-2 .64 11 .65 5 .64-5 .64-6 .64 10 .65-10 .64 1 .64 7 .64 0 .65-1 .64 0 .64-6 .64 2 .65 1 .64-4 .64 0 .64 7 .65-3 .64-6 .64 2 .64-2 .65-2 .64 9 .64 0 .64-2 .65-8 .64 6 .64-8 .64 10 .65-2 .64 2 .64-6 .64 15 .65-5 .64 4 .64-11 .64 2 .65 9 .64-2 .64-7 .64 0 .65-3 .64 6 .64-7 .64 11 .65-4 .64 0 .64-4 .64 9 .65 0 .64-8 .64-4 .64 14 .65-16 .64 11 .64-13 .64 22 .65-8 .64-8 .64 3 .64 4 .65-16 .64 4 .64 12 .64-3 .65 2 .64-1 .64-1 .64 6 .65 1 .64-9 .64 8 .64-6 .65-2 .64 5 .64-6 .64 5 .65-7 .64 9 .64-1 .64 3 .65-4 .64-5 .64 6 .64 4 .65-3 .64 5 .64-12 .64 3 .65 4 .64-2 .64 6 .64-9 .65 2 .64-4 .64 7 .64-1 .65-7 .64 6 .64 7 .64-4 .65-1 .64 10 .64-16 .64 5 .65-7 .64 7 .64-7 .64 8 .65 6 .64-5 .64 3 .64-10 .65 1 .64 4 .64 0 .64 15 .65-16 .64 0 .64 0 .64 0 .65 4 .64-4 .64-1 .64 3 .65 5 .64-9 .64 5 .64 3 .65 9 .64-14 .64 4 .64 2 .65 0 .64 2 .64-9 .64-5 .65 10 .64 1 .64-7 .64 6 .65-6 .64 2 .64-4 .64 2 .65 6 .64-3 .64 3 .64-1 .65 2 .64-7 .64 2 .64 6 .65-1 .64-8 .64-5 .64 11 .65-1 .64 0 .64-10 .64 8 .65 5 .64-5 .64-2 .64 5 .65-8 .64 15 .64-8 .64-8 .65 19 .64-11 .64-7 .64 6 .65-2 .64 1 .64 0 .64-3 .65 6 .64-5 .64 1 .64-6 .65 8 .64-5 .64 3 .64 4 .65-5 .64 2 .64-1 .64 1 .65-3 .64 8 .64-8 .64 0 .65-1 .64 2 .64 7 .64-4 .65 2 .64-10 .64-9 .64 16 .65-5 .64 6 .64 4 .64-4 .65-8 .64 5 .64-4 .64 10 .65-4 .64-6 .64 1 .64-2 .65 9 .64-16 .64 8 .64-5 .65 7 .64 1 .64-10 .64-3 .65 1 .64 5 .64-12 .64 6 .65 2 .64-8 .64-2 .64-7 .65-2 .64-8 .64-3 .64-10 .65-7 .64-3 .64-16 .64-12 .65-13 .64-14 .64-14 .64-9 .65-9 .64-2 .64-2 .64 0 .65 8 .64 7 .64 8 .64 12 .65 11 .64 10 .64 13 .64 13 .65 7 .64 7 .64 5 .64 6 .65 3 .64 8 .64 4 .64 5 .65 5 .64 2 .64 10 .64-3 .65 9 .64-10 .64 0 .64 5 .65 6 .64-2 .64-3 .64 1 .65 4 .64 6 .64-4 .64 0 .65 0 .64-1 .64 4 .64-1 .65 2 .64-2 .64 3 .64-3 .65-1 .64 11 .64-5 .64-1 .65 2 .64-4 .64 6 .64 3 .65-9 .64 8 .64 1 .64-6 .65-7 .64 7 .64-6 .64 10 .65-8 .64 5 .64 0 .64-4 .65-4 .64 10 .64-10 .64-4 .65 0 .64-11 .64-18 .64-16 .65-11 .64 7 .64 20 .64 14 .65 15 .64 11 .64 3 .64-5 .65 6 .64-1 .64-7 .64 3 .65 4 .64 4 .64-6 .64 2 .65-8 .64 9 .64-3 .64 3 .65 0 .64-3 .64 12 .64-12 .65 12 .64-8 .64-9 .64 8 .65-2 .64 0 .64-2 .64 10 .65-13 .64 1 .64 2 .64 11 .65-6 .64-5 .64-2 .64 13 .65-5 .64-6 .64 5 .64 3 .65-15 .64 7 .64 1 .64 4 .65-6 .64 6 .64-6 .64 6 .65-10 .64 17 .64-13 .64-3 .65-3 .64 10 .64 1 .64-3 .65-7 .64 8 .64 7 .64-17 .65 8 .64 1 .64 9 .64-13 .65 10 .64 1 .64-7 .64 1 .65 6 .64-12 .64 5 .64 3 .65-8 .64 7 .64-3 .64 3 .65-3 .64 0 .64 9 .64-10 .65 0 .64 6 .64-4 .64-1 .65 10 .64-8 .64-3 .64-1 .65 0 .64 2 .64 3 .64 5 .65-6 .64-3 .64-3 .64 5 .65-1 .64 5 .64-4 .64 2 .65 0 .64 1 .64-2 .64 8 .65-13 .64 7 .64-3 .64-3 .65 1 .64 6 .64-9 .64 0 .65 2 .64 1 .64-4 .64 9 .65-5 .64-5 .64 5 .64 7 .65-2 .64-3 .64 0 .64 4 .65-12 .64 14 .64-12 .64 6 .65-3 .64 6 .64-5 .64 1 .65 2 .64-3 .64 0 .64-1 .65 4 .64 0 .64-6 .64 5 .65 12 .64-10 .64-4 .64-1 .65 2 .64 4 .64-13 .64 10 .65-2 .64 8 .64-6 .64 5 .65-12 .64 3 .64 7 .64-6 .65 5 .64-1 .64-5 .64 3 .65 4 .64-2 .64-6 .64 2 .65 0 .64 2 .64 4 .64-10 .65 4 .64 6 .64-5 .64 1 .65-3 .64-1 .64 10 .64-2 .65-2 .64-2 .64-1 .64 5 .65-4 .64 0 .64-7 .64 9 .65-5 .64 6 .64-4 .64 2 .65 6 .64-10 .64 3 .64-5 .65 6 .64 1 .64-5 .64 1 .65 12 .64-10 .64 4 .64 1 .65 0 .64-4 .64-3 .64 9 .65 1 .64-9 .64 9 .64-6 .65 8 .64-1 .64-11 .64 10 .65-5 .64-7 .64 9 .64-4 .65-3 .64 9 .64-2 .64-5 .65 4 .64-7 .64 8 .64-8 .65 3 .64 1 .64 5 .64 3 .65-11 .64 9 .64-2 .64 4 .65-3 .64-6 .64 3 .64-7 .65 11 .64 0 .64 1 .64-3 .65 0 .64-6 .64 6 .64-5 .65 6 .64-2 .64 1 .64-10 .65 10 .64-7 .64 10 .64-4 .65-2 .64 3 .64 0 .64-1 .65-5 .64 3 .64-4 .64 3 .65-3 .64 11 .64 1 .64-2 .65-4 .64-1 .64 3 .64 3 .65-4 .64-4 .64-4 .64 11 .65 0 .64-3 .64-4 .64 11 .65-2 .64 0 .64 0 .64-4 .65-5 .64 2 .64 3 .64 4 .65-6 .64 6 .64-7 .64 5 .65-1 .64 2 .64-10 .64 5 .65-1 .64-1 .64 12 .64-8 .65 4 .64-10 .64 3 .64 2 .65 2 .64 1 .64 4 .64-8 .65 6 .64-3 .64 1 .64-1 .65-3 .64 7 .64-9 .64 5 .65-5 .64 8 .64-6 .64-4 .65 7 .64-7 .64 8 .64 0 .65-2 .64-6 .64 13 .64-15 .65 6 .64-4 .64 4 .64 2 .65 5 .64-5 .64 1 .64 1 .65 7 .64-9 .64-5 .64 7 .65-1 .64 4 .64-4 .64-3 .65 9 .64-8 .64-7 .64 9 .65 1 .64 1 .64 1 .64-3 .65-1 .64 6 .64-14 .64 13 .65 1 .64-4 .64 1 .64-4 .65 9 .64-6 .64-2 .64 2 .65-6 .64 11 .64 2 .64-6 .65-5 .64 6 .64-2 .64 10 .65-8 .64 2 .64-7 .64 5 .65 1 .64-2 .64 5 .64-6 .65-3 .64 0 .64 5 .64 0 .65 3 .64-4 .64 0 .64 1 .65 2 .64 0 .64-5 .64 5 .65-2 .64-3 .64 2 .64-2 .65 4 .64 0 .64 2 .64-2 .65-4 .64 8 .64-3 .64 0 .65-4 .64 1 .64 1 .64-4 .65-2 .64 6 .64-1 .64-8 .65 10 .64 6 .64-5 .64-1 .65 1 .64 2 .64-3 .64 3 .65-2 .64-1"/>
<path stroke="#008000" d="M403.75 856l.64 1 .65-8 .64 7 .64 1 .64 3 .64 17 .65-16 .64 2 .64 1 .64 12 .65-8 .64 4 .64 8 .64 1 .65-10 .64 20 .64-9 .64 6 .65-3 .64 11 .64-12 .64 0 .65 8 .64 8 .64-8 .64 7 .65 5 .64-18 .64 19 .64-1 .65-9 .64 4 .64-2 .64 9 .65-8 .64 9 .64 6 .64-18 .65 14 .64-2 .64-2 .64 7 .65-3 .64-7 .64 6 .64 5 .65-3 .64-3 .64 23 .64-5 .65 0 .64-6 .64-11 .64 11 .65 5 .64-4 .64 0 .64 6 .65 10 .64-9 .64 0 .64-4 .65 13 .64-6 .64-1 .64 0 .65-1 .64 5 .64 11 .64-10 .65 3 .64-6 .64 7 .64-8 .65 15 .64-9 .64 6 .64-1 .65 7 .64-3 .64 0 .64-10 .65 3 .64 0 .64 0 .64 1 .65 9 .64-5 .64 1 .64-5 .65 0 .64-2 .64 12 .64-4 .65 3 .64-2 .64-6 .64 4 .65-10 .64 14 .64-3 .64 1 .65 0 .64 3 .64-4 .64 1 .65-3 .64 2 .64 3 .64 3 .65-6 .64-5 .64-2 .64 8 .65-2 .64 6 .64 6 .64-12 .65 10 .64 0 .64-10 .64 2 .65 6 .64-7 .64-1 .64 8 .65-6 .64-1 .64 6 .64-2 .65 0 .64 6 .64-1 .64-15 .65 13 .64-5 .64 2 .64 2 .65 4 .64-5 .64-4 .64 2 .65-10 .64 10 .64-2 .64-7 .65-1 .64 0 .64 2 .64 7 .65-4 .64-3 .64 2 .64 7 .65-8 .64-3 .64 15 .64-15 .65 6 .64 2 .64-4 .64-2 .65 7 .64-6 .64 2 .64-3 .65 8 .64-13 .64-2 .64 1 .65 4 .64-1 .64 2 .64-5 .65 6 .64-10 .64 1 .64 4 .65-2 .64-1 .64 1 .64-1 .65 5 .64 2 .64 2 .64-6 .65-5 .64-2 .64 0 .64-3 .65 10 .64 6 .64-10 .64 1 .65-13 .64 11 .64-4 .64 4 .65-5 .64 0 .64-1 .64 0 .65 14 .64-7 .64-12 .64 6 .65-1 .64 12 .64-21 .64 13 .65 0 .64 7 .64-3 .64-10 .65-9 .64 3 .64 2 .64 2 .65-3 .64-4 .64 11 .64-3 .65-4 .64 0 .64-1 .64-3 .65 20 .64-16 .64-2 .64 12 .65-11 .64 4 .64-8 .64 4 .65-9 .64 13 .64 9 .64-10 .65 0 .64 5 .64-1 .64-11 .65 0 .64 3 .64 9 .64-14 .65 4 .64 2 .64 2 .64 1 .65-3 .64 9 .64-11 .64 16 .65-10 .64 3 .64-11 .64 9 .65-9 .64-1 .64 13 .64-4 .65-6 .64-5 .64 16 .64-4 .65 4 .64 2 .64 1 .64-19 .65-5 .64 22 .64-14 .64 17 .65-4 .64-2 .64-1 .64-8 .65 9 .64-1 .64 4 .64 8 .65-14 .64 7 .64 6 .64-14 .65-2 .64 1 .64-3 .64-3 .65 13 .64 4 .64-5 .64-7 .65 0 .64 4 .64-6 .64 3 .65-2 .64 8 .64-2 .64-3 .65-8 .64 4 .64 7 .64 6 .65-13 .64 18 .64-17 .64 0 .65 4 .64-5 .64 4 .64 1 .65-3 .64 1 .64 5 .64 4 .65 6 .64-11 .64-9 .64 5 .65-6 .64 10 .64-4 .64 6 .65-3 .64 1 .64-2 .64 12 .65-19 .64 17 .64 0 .64-3 .65-1 .64 1 .64-5 .64-3 .65 11 .64 0 .64 1 .64-5 .65 7 .64-2 .64 7 .64-10 .65-11 .64 6 .64 8 .64-9 .65 12 .64-8 .64 5 .64 2 .65-6 .64 7 .64 4 .64-8 .65 1 .64-1 .64 7 .64 2 .65-8 .64 2 .64 6 .64-3 .65 9 .64-9 .64-3 .64-2 .65 3 .64-5 .64 10 .64 8 .65-16 .64 1 .64 1 .64 5 .65-3 .64 9 .64 1 .64-9 .65 2 .64-2 .64 7 .64 6 .65-14 .64 2 .64-3 .64 8 .65 0 .64-6 .64 3 .64 12 .65-1 .64-15 .64 5 .64-2 .65 4 .64-8 .64 9 .64 2 .65 2 .64-14 .64 17 .64-15 .65-2 .64 13 .64-1 .64-5 .65 5 .64-1 .64-2 .64-7 .65 4 .64 1 .64 6 .64 2 .65-8 .64-3 .64-1 .64 9 .65-8 .64 14 .64-10 .64 0 .65 2 .64-3 .64-5 .64 5 .65 1 .64-4 .64 1 .64 1 .65-10 .64 5 .64 3 .64-5 .65 8 .64 0 .64-14 .64 8 .65 5 .64-4 .64 4 .64 1 .65-12 .64 9 .64-6 .64-7 .65 14 .64-7 .64 4 .64 4 .65 1 .64-7 .64-3 .64 1 .65 9 .64-8 .64 11 .64-1 .65-12 .64 13 .64-13 .64 2 .65 0 .64-5 .64 6 .64 2 .65 9 .64-5 .64-10 .64 5 .65 4 .64-7 .64-3 .64 4 .65-6 .64 7 .64-3 .64 9 .65-8 .64-5 .64 11 .64-5 .65-4 .64 7 .64-6 .64-5 .65 3 .64 12 .64 2 .64-10 .65 5 .64-11 .64 13 .64-5 .65 4 .64-4 .64 1 .64-8 .65 11 .64-5 .64 4 .64 7 .65-21 .64 18 .64-3 .64 0 .65 3 .64-7 .64-7 .64 6 .65 2 .64-11 .64 15 .64 0 .65-8 .64 6 .64 0 .64 0 .65 0 .64 6 .64-4 .64 9 .65-9 .64 6 .64 0 .64-15 .65 10 .64 1 .64 1 .64-1 .65 5 .64-2 .64-6 .64 8 .65-7 .64 3 .64-5 .64-4 .65 2 .64 13 .64-4 .64-7 .65 7 .64-8 .64 1 .64-5 .65 7 .64 5 .64 10 .64-14 .65 3 .64 1 .64 3 .64-8 .65-2 .64 10 .64-11 .64 9 .65-5 .64 3 .64 3 .64-12 .65 20 .64-18 .64 2 .64 8 .65-18 .64 11 .64 5 .64-3 .65 1 .64-1 .64 0 .64 0 .65 11 .64-7 .64-8 .64 4 .65 6 .64 2 .64-14 .64 6 .65-11 .64 8 .64 12 .64-5 .65-5 .64-5 .64 6 .64 0 .65 1 .64 3 .64-4 .64-10 .65 6 .64 1 .64-3 .64 12 .65-12 .64 8 .64-1 .64-1 .65-1 .64-4 .64 5 .64 4 .65-10 .64 12 .64-10 .64 8 .65-6 .64 9 .64 0 .64 0 .65 2 .64-12 .64-16 .64 9 .65 1 .64 11 .64 0 .64-11 .65 9 .64-6 .64-1 .64 4 .65-9 .64 12 .64-2 .64 7 .65-5 .64-3 .64 4 .64-7 .65 2 .64-8 .64 3 .64 3 .65 6 .64 3 .64 0 .64-12 .65 2 .64-5 .64-4 .64 14 .65-13 .64 11 .64-7 .64 2 .65 7 .64-11 .64 8 .64-8 .65 4 .64-1 .64 2 .64-9 .65 6 .64 3 .64-7 .64 7 .65-1 .64-4 .64-2 .64 3 .65-6 .64 6 .64-2 .64 6 .65-8 .64-6 .64 7 .64-5 .65 10 .64-14 .64 1 .64 2 .65-1 .64 2 .64 13 .64-16 .65 8 .64-12 .64-2 .64 2 .65 7 .64-12 .64-5 .64-16 .65-16 .64-20 .64-37 .64-7 .65 25 .64 24 .64 18 .64 8 .65 19 .64 1 .64 0 .64 8 .65 2 .64-6 .64 4 .64-15 .65 11 .64-9 .64 5 .64 9 .65-11 .64 12 .64-5 .64-4 .65-14 .64 8 .64 1 .64 2 .65-7 .64-10 .64 15 .64-18 .65 5 .64-10 .64 13 .64 5 .65 0 .64-15 .64 10 .64-3 .65 1 .64 1 .64-5 .64 8 .65-22 .64 10 .64-3 .64-12 .65 9 .64-5 .64-7 .64 10 .65-7 .64 7 .64-12 .64 12 .65-9 .64-2 .64 4 .64 6 .65-17 .64 0 .64-3 .64 2 .65-18 .64 25 .64 1 .64-3 .65-11 .64-14 .64 4 .64 8 .65-5 .64-9 .64 7 .64-9 .65 1 .64 12 .64-9 .64-5 .65 3 .64 1 .64 8 .64 3 .65-2 .64-10 .64 0 .64 18 .65-14 .64-6 .64 12 .64-16 .65 21 .64 2 .64-8 .64-31 .65 27 .64 3 .64-3 .64 18 .65-26 .64 2 .64 13 .64-8 .65 8 .64-9 .64-5 .64-3 .65 7 .64-2 .64 10 .64-4 .65-17 .64 22 .64-11 .64-7 .65 27 .64-18 .64 2 .64 4 .65-14 .64 10 .64 1 .64-6 .65 7 .64 3 .64-3 .64-19 .65 14 .64 5 .64 10 .64-7 .65-2 .64-13 .64 15 .64 14 .65-20 .64-4 .64 4 .64 4 .65-9 .64 4 .64-10 .64 5 .65 2 .64-4 .64-5 .64 22 .65-14 .64 6 .64-20 .64 11 .65-2 .64 19 .64-10 .64-9 .65 6 .64-4 .64 2 .64-18 .65-6 .64 18 .64 0 .64 0 .65 11 .64-14 .64 2 .64-5 .65-12 .64 5 .64 3 .64 4 .65 14 .64-10 .64-5 .64-14 .65 20 .64-10 .64-17 .64 22 .65-1 .64 2 .64-2 .64-10 .65 5 .64-7 .64 6 .64 4 .65 1 .64-12 .64 20 .64-15 .65-17 .64 31 .64-3 .64 4 .65-12 .64-1 .64-3 .64 13 .65 2 .64 0 .64 1 .64-12 .65 8 .64 4 .64-5 .64 16 .65-32 .64 22 .64-6 .64 4 .65 0 .64-1 .64 3 .64-1 .65-10 .64 18 .64 0 .64-14 .65 14 .64-3 .64 4 .64-3 .65-6 .64 10 .64-17 .64 28 .65-19 .64 2 .64 12 .64-5 .65 8 .64 10 .64-9 .64-6 .65-6 .64 9 .64-7 .64 11 .65-23 .64 18 .64 2 .64-2 .65 14 .64 2 .64-21 .64 26 .65-11 .64 6 .64 3 .64-6 .65 5 .64 5 .64-9 .64 8 .65 6 .64-7 .64 1 .64-1 .65 0 .64 3 .64-8 .64 10 .65-5 .64 8 .64 9 .64-6 .65-10 .64 7 .64-4 .64-6 .65 10 .64 4 .64-4 .64-5 .65-8 .64 5 .64 7 .64-3 .65 3 .64-10 .64-15 .64 26 .65-2 .64 6 .64-1 .64-5 .65-10 .64-8 .64 6 .64-2 .65-4 .64 7 .64 10 .64-12 .65 5 .64 4 .64-12 .64 4 .65-3 .64-7 .64 16 .64 1 .65 0 .64-6 .64-7 .64 16 .65-25 .64 16 .64-4 .64-8 .65 17 .64 4 .64-16 .64 0 .65 4 .64-4 .64 17 .64-24 .65 2 .64 9 .64-8 .64-1 .65 1 .64 2 .64 9 .64-17 .65 15 .64-15 .64-1 .64 15 .65-3 .64 2 .64 0 .64-11 .65-4 .64 9 .64-9 .64 5 .65 15 .64-25 .64 2 .64 14 .65 1 .64-9 .64 3 .64-6 .65-1 .64 5 .64 5 .64-18 .65-1 .64 15 .64-6 .64 10 .65-4 .64-3 .64 4 .64 24 .65-23 .64-5 .64-6 .64 17 .65 7 .64-10 .64-2 .64-4 .65-2 .64-12 .64-8 .64-8 .65 3 .64 21 .64-1 .64 9 .65 1 .64 8 .64 4 .64 13 .65-13 .64 1 .64 4 .64-7 .65 7 .64-13 .64 20 .64 2 .65 1 .64 7 .64-5 .64 4 .65-2 .64-3 .64 2 .64 3 .65 1 .64-14 .64 3 .64 4 .65-3 .64 5 .64-1 .64-1 .65 8 .64 10 .64 2 .64 3 .65-1 .64-25 .64 29 .64-9 .65-11 .64 6 .64 3 .64-1 .65 13 .64-8 .64 16 .64-1 .65-22 .64 9 .64 10 .64-3 .65-3 .64 1 .64-3 .64-1 .65 6 .64-5 .64-7 .64-10 .65 4 .64-17 .64-33 .64-23 .65-32 .64 4 .64 22 .64 33 .65 16 .64 29 .64 3 .64 17 .65-4 .64 0 .64-4 .64 18 .65-2 .64-8 .64-3 .64-2 .65 1 .64 2 .64-7 .64 1 .65 5 .64-6 .64-1 .64 10 .65 2 .64-8 .64-1 .64-1 .65-3 .64 0 .64 2 .64-10 .65-4 .64 4 .64-1 .64 7 .65 2 .64-7 .64-8 .64-2 .65-4 .64 11 .64 4 .64-10 .65 1 .64 3 .64-2 .64 3 .65-7 .64 0 .64 0 .64 10 .65-10 .64 7 .64-9 .64 8 .65-6 .64-7 .64-3 .64 18 .65-12 .64 6 .64-9 .64 13 .65-7 .64 18 .64-16 .64 10 .65 14 .64-7 .64-4 .64-13 .65 18 .64 3 .64-13 .64 3 .65-3 .64-2 .64 7 .64 3 .65 0 .64 6 .64-3 .64-2 .65 8 .64-14 .64 7 .64 3 .65 4 .64-13 .64 16 .64-16 .65 5 .64 13 .64-21 .64 11 .65 11 .64-5 .64-7 .64-6 .65-4 .64-20 .64 10 .64-4 .65 9 .64 19 .64 4 .64 2 .65 3 .64-1 .64-8 .64-2 .65 19 .64-1 .64-3 .64 10 .65-12 .64 0 .64 9 .64-9 .65 0 .64 6 .64-3 .64 6 .65 5 .64-9 .64 6 .64 4 .65-6 .64 4 .64 6 .64-11 .65 9 .64 11 .64-15 .64-8 .65 5 .64 2 .64 10 .64-3 .65-5 .64-10 .64 11 .64 14 .65-20 .64 11 .64 1 .64 3 .65 0 .64 2 .64 2 .64-4 .65 0 .64-4 .64 0 .64-4 .65 12 .64-22 .64 21 .64-14 .65 12 .64-5 .64 20 .64-14 .65-4 .64 10 .64-3 .64-8 .65 4 .64 9 .64-20 .64 5 .65 7 .64 10 .64-16 .64 6 .65 0 .64 8 .64-3 .64-2 .65-5 .64-4 .64 13 .64 6 .65-10 .64-3 .64 11 .64-15 .65-5 .64 14 .64-5 .64-3 .65-19 .64-9 .64-6 .64 11 .65 10 .64 11 .64 7 .64 3 .65-2 .64 9 .64 0 .64 1 .65-6 .64 4 .64 1 .64-11 .65 15 .64-6 .64-5 .64 14 .65-11 .64 5 .64-1 .64-7 .65 5 .64 15 .64-3 .64-12 .65 8 .64-5 .64 6 .64-12 .65 1 .64 7 .64-2 .64 5 .65 1 .64-3 .64-4 .64 3 .65-3 .64-6 .64 13 .64-13 .65 2 .64 7 .64 4 .64-3 .65-6 .64 15 .64-16 .64 13 .65-13 .64 6 .64 2 .64-1 .65-3 .64 4 .64-1 .64-7 .65 12 .64-6 .64 0 .64-6 .65 8 .64 4 .64-4 .64-2 .65 2 .64-5 .64 5 .64-6 .65 8 .64 0 .64-2 .64 1 .65-1 .64-7 .64 1 .64 5 .65-5 .64 0 .64 0 .64 6 .65-1 .64 2 .64 5 .64-6 .65-4 .64 4 .64 2 .64 3 .65-7 .64 4 .64-8 .64 1 .65-2 .64 8 .64-7 .64 4 .65 2 .64-6 .64-2 .64 12 .65-2 .64 2 .64-3 .64 5 .65-4 .64-8 .64 9 .64-2 .65-6 .64 2 .64 5 .64-12 .65 10 .64-7 .64 10 .64 1 .65-10 .64 1 .64 3 .64 1 .65-3 .64 8 .64-4 .64-6 .65 7 .64-4 .64 4 .64 5 .65-10 .64 5 .64-2 .64 2 .65 7 .64 0 .64-16 .64 17 .65-1 .64-10 .64 8 .64-6 .65 4 .64-11 .64 14 .64-13 .65 0 .64 9 .64 4 .64-5 .65 5 .64 2 .64-5 .64 6 .65-1 .64-8 .64-3 .64 2 .65 3 .64 8 .64 1 .64-16 .65 17 .64-21 .64 3 .64 1 .65 11 .64-14 .64 4 .64-7 .65-12 .64-13 .64-30 .64-34 .65-35 .64-2 .64 10 .64 33 .65 27 .64 29 .64 14 .64 6 .65 11 .64-5 .64 5 .64 9 .65-9 .64 10 .64 1 .64-1 .65-2 .64 0 .64-8 .64 8 .65-11 .64 3 .64 7 .64 3 .65-10 .64 11 .64-6 .64-5 .65 8 .64 0 .64-4 .64 2 .65 10 .64-14 .64-3 .64 4 .65 4 .64-3 .64 5 .64-3 .65-1 .64-6 .64 9 .64-15 .65 9 .64-17 .64-6 .64-7 .65 1 .64-9 .64 12 .64 4 .65 3 .64 13 .64-2 .64 1 .65 9 .64-2 .64 0 .64-1 .65 12 .64-19 .64 5 .64-2 .65 1 .64-6 .64 7 .64 3 .65-2 .64-3 .64-2 .64 7 .65-4 .64 5 .64-1 .64 8 .65-10 .64 6 .64-5 .64 4 .65 0 .64 1 .64-10 .64 6 .65-5 .64 8 .64-5 .64 1 .65-6 .64 7 .64 4 .64-3 .65 3 .64 3 .64-3 .64 3 .65-13 .64 2 .64-2 .64 8 .65 5 .64-1 .64-3 .64-6 .65 3 .64-10 .64 6 .64 6 .65-3 .64 3 .64 5 .64-6 .65 1 .64-2 .64 15 .64-11 .65 1 .64 6 .64-3 .64-5 .65-2 .64 6 .64 2 .64 2 .65-4 .64-6 .64-4 .64 4 .65 6 .64-2 .64-2 .64-2 .65 3 .64 4 .64-2 .64-9 .65 4 .64 8 .64-9 .64 7 .65-7 .64-4 .64 14 .64-7 .65 6 .64-6 .64 3 .64 8 .65-4 .64-3 .64 1 .64-7 .65 10 .64 4 .64 5 .64-16 .65 2 .64 1 .64 0 .64-4 .65 4 .64 6 .64-7 .64 12 .65-18 .64 6 .64 5 .64-1 .65-3 .64 11 .64 1 .64-3 .65-3 .64-5 .64-2 .64 11 .65 2 .64-1 .64-2 .64-1 .65 0 .64 7 .64-14 .64 4 .65 4 .64 1 .64-1 .64 4 .65-2 .64-2 .64-3 .64-2 .65 7 .64 6 .64 0 .64-15 .65 9 .64-4 .64 4 .64-7 .65 16 .64-15 .64 2 .64 9 .65 2 .64-9 .64-7 .64 13 .65-3 .64-2 .64 0 .64-4 .65 5 .64-3 .64 6 .64-5 .65 8 .64-4 .64 0 .64-3 .65 6 .64-4 .64-3 .64-5 .65 8 .64-2 .64 8 .64-3 .65-5 .64-7 .64 12 .64 5 .65-7 .64-3 .64 4 .64-6 .65 7 .64-9 .64-3 .64 4 .65 8 .64-7 .64-4 .64 9 .65-3 .64 6 .64 8 .64-6 .65 1 .64-3 .64-7 .64 2 .65-1 .64 6 .64-2 .64-1 .65 2 .64-3 .64 5 .64-8 .65 17 .64-7 .64-2 .64 0 .65 1 .64 1 .64-7 .64 3 .65 3 .64-4 .64 2 .64-2 .65 7 .64-4 .64-5 .64-4 .65 7 .64 6 .64-10 .64 5 .65 1 .64 4 .64-3 .64 2 .65-4 .64-2 .64 2 .64 1 .65-2 .64 3 .64-5 .64 10 .65-7 .64-3 .64 5 .64-5 .65 0 .64 2 .64 1 .64 0 .65-3 .64 11 .64-16 .64 6 .65 7 .64-6 .64-1 .64-3 .65 9 .64-7 .64 3 .64 0 .65-6 .64 6 .64 0 .64 2 .65-9 .64 6 .64-2 .64-1 .65 13 .64-7 .64-2 .64-2 .65-3 .64 5 .64-5 .64 4 .65 6 .64-4 .64 5 .64-11 .65 5 .64 8 .64-14 .64 4 .65 8 .64-8 .64-1 .64 2 .65-4 .64 7 .64-11 .64 19 .65-7 .64-9 .64 8 .64-1 .65 1 .64 8 .64-9 .64-1 .65 2 .64-5 .64 1 .64 5 .65 7 .64-9 .64 5 .64 6 .65-10 .64-3 .64 7 .64-9 .65 3 .64-1 .64 1 .64 4 .65-14 .64 5 .64 8 .64-1 .65 5 .64-11 .64 10 .64-2 .65-3 .64 3 .64-5 .64 0 .65 1 .64-6 .64 7 .64-7 .65 14 .64-6 .64 13 .64-14 .65-11 .64 8 .64-8 .64 3 .65 0 .64-17 .64 8 .64-3 .65 4 .64 10 .64 0 .64 1 .65-3 .64 2 .64 2 .64 4 .65-1 .64-7 .64 1 .64 7 .65 5 .64-6 .64-4 .64 5 .65-4 .64 3 .64 5 .64-12 .65 6 .64 2 .64 0 .64 0 .65 0 .64-1 .64 4 .64-9 .65 4 .64 2 .64 2 .64 1 .65 0 .64-13 .64 9 .64 4 .65-7 .64-3 .64 10 .64-11 .65 3 .64 3 .64-2 .64-2 .65-1 .64 9 .64-6 .64-2 .65-3 .64-1 .64 5 .64 2 .65-11 .64 4 .64 6 .64 2 .65 5 .64-5 .64-4 .64 1 .65-4 .64 5 .64 0 .64-7 .65 6 .64 1 .64 0 .64 2 .65 2 .64-13 .64 7 .64 7 .65-4 .64-4 .64-1 .64 0 .65 4 .64 6 .64 2 .64-16 .65 7 .64-2 .64-2 .64 10 .65-9 .64 4 .64-1 .64-2 .65 11 .64-8 .64 6 .64-9 .65-2 .64 6 .64-6 .64 9 .65-3 .64 0 .64-5 .64 5 .65-3 .64 2 .64-6 .64 6 .65-9 .64 11 .64 2 .64-5 .65 3 .64 1 .64-2 .64-3 .65-5 .64 12 .64-10 .64 0 .65 8 .64-4 .64-7 .64 4 .65 4 .64 2 .64-5 .64-2 .65 1 .64-8 .64 7 .64-5 .65 6 .64-13 .64 3 .64-3 .65 3 .64 8 .64-14 .64-1 .65 1 .64 0 .64-9 .64 6 .65-10 .64-6 .64-6 .64-6 .65-5 .64-5 .64-12 .64-13 .65-19 .64-21 .64-26 .64-25 .65-27 .64-29 .64-28 .64-18 .65-8 .64-1 .64 12 .64 16 .65 20 .64 26 .64 18 .64 23 .65 22 .64 24 .64 16 .64 18 .65 8 .64 11 .64 15 .64 8 .65 2 .64 8 .64 2 .64 5 .65 0 .64 15 .64-1 .64 2 .65 1 .64 4 .64 0 .64-8 .65 1 .64 6 .64 1 .64 6 .65-3 .64 5 .64-3 .64 0 .65-5 .64 3 .64 0 .64 6 .65-1 .64-3 .64 7 .64 1 .65-7 .64 5 .64 4 .64 2 .65-9 .64 5 .64 1 .64-14 .65 5 .64 9 .64-1 .64-3 .65 0 .64-1 .64-5 .64 5 .65 10 .64-6 .64 4 .64-9 .65 5 .64 1 .64 1 .64-2 .65-1 .64 6 .64-8 .64 13 .65-6 .64-4 .64 4 .64-2 .65 1 .64-7 .64 7 .64 0 .65 4 .64-5 .64-5 .64 7 .65 2 .64-17 .64 12 .64 3 .65-9 .64 9 .64-3 .64 8 .65-11 .64 8 .64 2 .64-8 .65-6 .64 6 .64 1 .64 2 .65-8 .64 6 .64 1 .64 5 .65 5 .64-9 .64 2 .64 0 .65-5 .64 13 .64-9 .64 4 .65 8 .64-14 .64 6 .64-11 .65 11 .64 2 .64-4 .64-1 .65 14 .64-9 .64-4 .64-3 .65-1 .64 1 .64 1 .64 0 .65 2 .64-4 .64 6 .64 2 .65 4 .64-13 .64-1 .64 6 .65 2 .64 4 .64-8 .64 10 .65-6 .64 0 .64-1 .64 7 .65-5 .64 2 .64-2 .64-6 .65 6 .64-1 .64-3 .64 6 .65-5 .64 7 .64-2 .64 3 .65-10 .64 5 .64-8 .64 15 .65-9 .64 6 .64-1 .64 3 .65-10 .64 2 .64-4 .64 5 .65 0 .64 1 .64 0 .64-6 .65 9 .64 0 .64 5 .64-8 .65 2 .64 1 .64 3 .64-12 .65 10 .64-9 .64 11 .64-5 .65 2 .64-4 .64-4 .64 9 .65 6 .64-2 .64-13 .64 8 .65-2 .64 2 .64-2 .64 6 .65-3 .64 0 .64 0 .64-2 .65-2 .64 2 .64 4 .64 2 .65-6 .64 4 .64-4 .64 2 .65 3 .64-3 .64-4 .64 5 .65-2 .64-7 .64 12 .64-3 .65-4 .64 2 .64 6 .64-4 .65-5 .64 3 .64 9 .64-5 .65-6 .64 2 .64-1 .64 3 .65-3 .64 6 .64 0 .64-5 .65 6 .64-7 .64 6 .64 0 .65 2 .64-9 .64 3 .64 2 .65-3 .64 10 .64-11 .64-1 .65 11 .64-8 .64 1 .64 4 .65-6 .64 1 .64 1 .64 5 .65 0 .64-6 .64 2 .64-2 .65 5 .64-6 .64 6 .64-1 .65 3 .64-1 .64-2 .64-4 .65-6 .64 11 .64-1 .64-5 .65-1 .64 4 .64-1 .64-2 .65 0 .64-3 .64 2 .64 2 .65-4 .64-1 .64 1 .64 3 .65 1 .64 2 .64-2 .64 1 .65 5 .64-2 .64-5 .64-5 .65 1 .64 1 .64-3 .64-3 .65 10 .64-4 .64 0 .64 0 .65 2 .64-2 .64 4 .64-10 .65 2 .64 8 .64-3 .64 3 .65-9 .64 10 .64-5 .64 4 .65-6 .64 2 .64-8 .64 4 .65 1 .64-2 .64 2 .64 2 .65 1 .64-6 .64 5 .64-1 .65-1 .64 0 .64-5 .64 6 .65-9 .64 2 .64 6 .64-1 .65-8 .64 9 .64-5 .64 6 .65-9 .64 2 .64-1 .64-1 .65 6 .64-2 .64-6 .64 0 .65 1 .64-4 .64-2 .64-2 .65-3 .64-12 .64-2 .64 4 .65-8 .64-8 .64-6 .64-16 .65-5 .64-6 .64-11 .64-6 .65-9 .64-3 .64 2 .64 0 .65 7 .64 6 .64 1 .64 10 .65 9 .64 9 .64 0 .64 12 .65 11 .64 4 .64 2 .64 12 .65 1 .64 2 .64 1 .64 6 .65-1 .64 6 .64-3 .64 4 .65 7 .64-6 .64 7 .64-2 .65-4 .64 8 .64-8 .64 5 .65-4 .64 10 .64-2 .64-2 .65 7 .64-9 .64 6 .64-2 .65 2 .64-2 .64 4 .64-7 .65 4 .64-1 .64-2 .64 4 .65 2 .64-5 .64 6 .64-8 .65 5 .64 2 .64 2 .64-4 .65 0 .64-1 .64 0 .64 2 .65 6 .64-12 .64 11 .64-3 .65-1 .64-1 .64 2 .64-4 .65 4 .64 1 .64-3 .64 2 .65 1 .64-3 .64 7 .64-4 .65-6 .64 9 .64-7 .64-3 .65 3 .64 3 .64 2 .64-1 .65-4 .64 6 .64 0 .64-1 .65 0 .64 0 .64 2 .64 0 .65-3 .64 0 .64-5 .64 5 .65 1 .64 0 .64-7 .64 9 .65-8 .64 2 .64 9 .64-13 .65 7 .64 0 .64 5 .64 2 .65-11 .64 2 .64 2 .64-3 .65 7 .64-1 .64-10 .64 3 .65 7 .64-3 .64-2 .64-7 .65 8 .64-6 .64 4 .64 3 .65 3 .64-6 .64 2 .64 3 .65-1 .64 5 .64-7 .64 2 .65-4 .64 1 .64 1 .64 2 .65 0 .64 6 .64-5 .64 2 .65-1 .64-6 .64-4 .64 11 .65-1 .64-2 .64 0 .64-5 .65 15 .64-18 .64 11 .64-4 .65-2 .64 5 .64-1 .64 2 .65 1 .64-7 .64-1 .64 7 .65-6 .64 3 .64 4 .64-2 .65-8 .64 10 .64-1 .64-2 .65-1 .64 0 .64 3 .64-2 .65-2 .64 1 .64 10 .64-12 .65 5 .64 2 .64 1 .64-5 .65-5 .64 6 .64 4 .64-13 .65 8 .64 0 .64 4 .64-4 .65-2 .64 4 .64-6 .64 3 .65-2 .64 6 .64 0 .64 1 .65-8 .64 4 .64 8 .64-12 .65 9 .64-2 .64 0 .64-10 .65 11 .64-2 .64 4 .64-9 .65 4 .64 3 .64 0 .64 1 .65-1 .64-6 .64 0 .64 5 .65-2 .64 3 .64-3 .64-3 .65 3 .64-1 .64 0 .64-3 .65-1 .64 6 .64-1 .64 2 .65-1 .64-1 .64-7 .64 13 .65 2 .64-8 .64-2 .64 3 .65-1 .64 6 .64-8 .64 5 .65-5 .64-3 .64 4 .64 10 .65-6 .64-2 .64-3 .64 0 .65 1 .64 8 .64-4 .64-9 .65 5 .64 3 .64-6 .64 3 .65 6 .64-7 .64 2 .64 1 .65 4 .64-2 .64 5 .64-10 .65 4 .64 0 .64 3 .64-11 .65 5 .64 2 .64-2 .64-9 .65 6 .64 6 .64 3 .64-8 .65 5 .64-5 .64 2 .64-3 .65 1 .64 9 .64-5 .64-3 .65 5 .64-4 .64 4 .64-2 .65 1 .64-5 .64 5 .64 0 .65 2 .64 1 .64-6 .64 5 .65-6 .64 2 .64 3 .64-3 .65 1 .64 0 .64 1 .64-4 .65 6 .64-8 .64-1 .64 10 .65-5 .64-2 .64-6 .64 12 .65-9 .64 2 .64 8 .64 2 .65-11 .64 5 .64 3 .64-8 .65 9 .64-11 .64 6 .64 0 .65 2 .64 3 .64-9 .64-1 .65 8 .64 4 .64-10 .64-3 .65 6 .64 8 .64-13 .64 7 .65 2 .64-7 .64 5 .64-3 .65-4 .64 3 .64 7 .64-4 .65 3 .64-3 .64-5 .64 4 .65-3 .64 0 .64 0 .64 3 .65-1 .64 0 .64 7 .64-8 .65 5 .64-1 .64 1 .64-1 .65 6 .64-10 .64-1 .64 4 .65-6 .64 10 .64-5 .64 4 .65-2 .64 4 .64-9 .64 1 .65 5 .64-3 .64 0 .64-3 .65 1 .64 4 .64-5 .64 0 .65 1 .64 9 .64-7 .64 3 .65-2 .64 3 .64 3 .64-8 .65-2 .64 2 .64 4 .64-5 .65 6 .64-4 .64 3 .64 0 .65-6 .64 7 .64 2 .64-1 .65-5 .64-1 .64 3 .64-1 .65-2 .64 3 .64-1 .64-4 .65 5 .64 1 .64-1 .64-5 .65 4 .64-3 .64 3 .64-2 .65 7 .64-3 .64-1 .64 0 .65-5 .64 6 .64-2 .64-1 .65 0 .64-1 .64 3 .64 1 .65-2 .64-7 .64 6 .64-1 .65 6 .64-6 .64-4 .64 8 .65-5 .64-1 .64-1 .64 9 .65-4 .64-1 .64-1 .64 8 .65-4 .64-1 .64 0 .64 1 .65 3 .64-4 .64 6 .64-10 .65 4 .64 1 .64-3 .64 7 .65-2 .64-1 .64-4 .64 0 .65 0 .64 9 .64-7 .64 1 .65 0 .64-1 .64-3 .64 0 .65 11 .64-10 .64 2 .64-1 .65 2 .64 0 .64-7 .64 4 .65-4 .64-1 .64 5 .64-2 .65 4 .64 5 .64-8 .64 1 .65 0 .64-7 .64 6 .64 6 .65-3 .64 4 .64-3 .64 1 .65 2 .64-5"/>
<path stroke="#FF00FF" d="M403.75 1045l.64 11 .65 7 .64-16 .64 0 .64 11 .64-6 .65 7 .64 7 .64-7 .64 5 .65-25 .64 27 .64-8 .64-5 .65 8 .64-7 .64 2 .64-6 .65 12 .64-4 .64 5 .64 14 .65-5 .64-8 .64 14 .64 5 .65-6 .64 1 .64 1 .64-5 .65 15 .64-3 .64-2 .64 1 .65 0 .64 12 .64-12 .64-9 .65 13 .64 5 .64-1 .64-6 .65-8 .64 25 .64-20 .64 8 .65-2 .64-2 .64 1 .64-4 .65 2 .64 3 .64 3 .64 17 .65-22 .64 15 .64-7 .64-2 .65-7 .64 10 .64-6 .64 9 .65 1 .64-10 .64 15 .64-7 .65 1 .64 2 .64-4 .64 9 .65 4 .64-8 .64 5 .64 6 .65-7 .64-6 .64 9 .64-6 .65-2 .64-8 .64 10 .64-6 .65 7 .64-14 .64 6 .64 16 .65 2 .64-8 .64-1 .64-16 .65 17 .64-6 .64-10 .64 8 .65-1 .64 11 .64-3 .64 14 .65-5 .64-9 .64 3 .64-10 .65 13 .64-7 .64 3 .64 1 .65-1 .64-3 .64 7 .64 0 .65-19 .64 11 .64 2 .64-2 .65 4 .64 4 .64-4 .64-2 .65 7 .64-4 .64-1 .64 11 .65-6 .64-13 .64 14 .64-12 .65 5 .64-13 .64 18 .64-17 .65 13 .64 10 .64-10 .64-3 .65-7 .64 4 .64 7 .64-20 .65 7 .64 15 .64-11 .64 9 .65-3 .64-10 .64 5 .64 9 .65-11 .64 2 .64 3 .64-7 .65 1 .64 5 .64-5 .64 1 .65 4 .64 7 .64-12 .64-4 .65 23 .64-14 .64-19 .64 9 .65-8 .64 16 .64-14 .64 5 .65 13 .64-15 .64 4 .64 2 .65 4 .64-1 .64 3 .64-15 .65 7 .64-15 .64 11 .64-2 .65 13 .64-11 .64-5 .64-1 .65-5 .64 2 .64-2 .64 4 .65-5 .64 4 .64 6 .64-16 .65 2 .64-5 .64 24 .64-4 .65-9 .64-4 .64-8 .64 14 .65-8 .64 2 .64-3 .64-23 .65 8 .64 8 .64 7 .64-12 .65 9 .64-5 .64-6 .64 13 .65-14 .64-2 .64 22 .64-2 .65-10 .64 7 .64-15 .64 3 .65 5 .64-1 .64 1 .64-15 .65 18 .64-17 .64 8 .64 22 .65-13 .64-11 .64 7 .64-9 .65 1 .64-1 .64 4 .64 3 .65 6 .64 12 .64-13 .64-1 .65-11 .64 19 .64-8 .64 11 .65-11 .64 13 .64-16 .64 2 .65 2 .64 0 .64 5 .64 0 .65-16 .64 7 .64 3 .64 11 .65-6 .64 8 .64 1 .64-3 .65-15 .64 29 .64-9 .64-6 .65 7 .64-5 .64 5 .64-6 .65 21 .64-15 .64 5 .64-7 .65 11 .64 5 .64-7 .64-6 .65 7 .64-2 .64 8 .64-4 .65 2 .64-3 .64 0 .64 2 .65 9 .64-8 .64 4 .64-6 .65 1 .64-5 .64 7 .64-3 .65-9 .64 8 .64-3 .64 7 .65 0 .64 11 .64-8 .64-4 .65 1 .64 0 .64 0 .64 6 .65-6 .64 5 .64 5 .64-9 .65 3 .64 11 .64-7 .64-5 .65 6 .64-5 .64-4 .64 11 .65-11 .64 2 .64 3 .64 6 .65-1 .64-8 .64 4 .64-2 .65 8 .64-3 .64-6 .64 9 .65-13 .64 6 .64-9 .64 17 .65-6 .64 4 .64 13 .64-14 .65-1 .64-4 .64 5 .64-5 .65 7 .64-1 .64-1 .64-3 .65 0 .64 1 .64-1 .64 4 .65-7 .64 3 .64 4 .64 7 .65-8 .64-3 .64 0 .64 10 .65-12 .64 0 .64 3 .64-4 .65 3 .64 4 .64-3 .64-10 .65 14 .64 2 .64-7 .64 14 .65-10 .64 1 .64-10 .64 22 .65-2 .64-4 .64 3 .64-15 .65 1 .64 6 .64-2 .64-7 .65 8 .64 3 .64-6 .64 10 .65-7 .64-5 .64-2 .64-2 .65 12 .64-14 .64 12 .64 0 .65-11 .64 11 .64-3 .64 10 .65-8 .64-4 .64 4 .64 5 .65-13 .64 0 .64 10 .64 7 .65-21 .64 18 .64-7 .64 2 .65-1 .64-6 .64-2 .64 17 .65-21 .64 8 .64 8 .64-9 .65 5 .64-5 .64-5 .64 8 .65-3 .64-4 .64 7 .64-6 .65 3 .64-4 .64 12 .64-4 .65-4 .64-3 .64 0 .64 0 .65-5 .64 15 .64-15 .64 11 .65 0 .64-7 .64 0 .64-7 .65 6 .64-2 .64 9 .64-10 .65 0 .64 8 .64-15 .64 6 .65 12 .64-9 .64 6 .64-24 .65 14 .64 3 .64-8 .64 15 .65-15 .64 5 .64 5 .64-1 .65-2 .64-5 .64 7 .64-6 .65 13 .64-10 .64-5 .64 13 .65 4 .64-9 .64-6 .64-6 .65 6 .64 9 .64-2 .64-15 .65 13 .64-12 .64 15 .64 6 .65-12 .64 8 .64-9 .64 2 .65 6 .64 1 .64-8 .64 10 .65-8 .64-19 .64 23 .64 1 .65-23 .64 18 .64 6 .64-4 .65-5 .64-1 .64 6 .64-2 .65 6 .64-2 .64 8 .64-13 .65 7 .64 0 .64-3 .64 5 .65-15 .64 8 .64 14 .64-8 .65-3 .64 6 .64-7 .64-6 .65 9 .64 4 .64-7 .64 12 .65-8 .64-2 .64-3 .64 17 .65 2 .64-21 .64 7 .64-4 .65 12 .64-8 .64 7 .64-6 .65-5 .64 15 .64-8 .64-2 .65-3 .64 7 .64 5 .64-8 .65 15 .64-3 .64-8 .64 3 .65-6 .64 6 .64-10 .64 0 .65 21 .64-13 .64 4 .64-10 .65 7 .64-3 .64-12 .64 11 .65 1 .64 0 .64 7 .64-3 .65-12 .64 4 .64 3 .64 1 .65 0 .64-8 .64 9 .64-3 .65-11 .64-1 .64 5 .64 3 .65-2 .64 2 .64-3 .64 5 .65 7 .64-1 .64-12 .64 15 .65 3 .64-13 .64 15 .64-10 .65-7 .64 16 .64-10 .64-2 .65 14 .64-3 .64-10 .64-2 .65 4 .64 1 .64 4 .64-20 .65 17 .64-1 .64-3 .64 3 .65 3 .64-14 .64 1 .64 7 .65 0 .64 0 .64 3 .64 10 .65-15 .64 4 .64 4 .64-8 .65 0 .64 4 .64 1 .64-8 .65 8 .64-1 .64 0 .64 3 .65-14 .64 13 .64-8 .64 3 .65-1 .64-5 .64 9 .64 9 .65-11 .64 7 .64-13 .64 1 .65 4 .64-4 .64-1 .64 9 .65-1 .64 2 .64-5 .64-2 .65-1 .64 9 .64-7 .64 7 .65-1 .64 7 .64-16 .64 11 .65-16 .64 15 .64-4 .64 4 .65-20 .64 21 .64-11 .64-1 .65-8 .64 4 .64 12 .64 3 .65-8 .64-7 .64 8 .64-14 .65 7 .64-2 .64 10 .64-17 .65 7 .64 5 .64 1 .64-12 .65 4 .64-10 .64 19 .64-9 .65 0 .64-1 .64 13 .64-11 .65-5 .64 12 .64-3 .64-4 .65-6 .64 6 .64 2 .64-4 .65 0 .64 6 .64-12 .64 9 .65-8 .64-6 .64 13 .64-1 .65-11 .64-1 .64 13 .64-8 .65-14 .64 6 .64 8 .64-7 .65 9 .64-10 .64 6 .64-4 .65 1 .64-2 .64-1 .64-10 .65 17 .64-13 .64-5 .64 18 .65-16 .64 14 .64-26 .64 17 .65-3 .64-7 .64 13 .64-17 .65 7 .64-5 .64 9 .64-16 .65 9 .64-2 .64-17 .64 38 .65-23 .64 1 .64 1 .64-10 .65-2 .64-15 .64 12 .64 3 .65 4 .64-5 .64 0 .64-1 .65 0 .64-1 .64-2 .64 4 .65-21 .64 9 .64 8 .64-8 .65-8 .64 4 .64 0 .64 1 .65 15 .64-6 .64-17 .64 5 .65 14 .64-22 .64 10 .64-11 .65-7 .64 6 .64 1 .64 10 .65-19 .64 18 .64-14 .64 0 .65-8 .64-10 .64 19 .64-7 .65 7 .64-4 .64-16 .64 13 .65 4 .64 0 .64 1 .64-1 .65-8 .64 7 .64-4 .64 4 .65 1 .64-1 .64 17 .64-27 .65-6 .64 20 .64-9 .64 7 .65-5 .64 5 .64-7 .64-1 .65 22 .64-6 .64-21 .64 6 .65 14 .64-10 .64-11 .64 13 .65 4 .64-10 .64 5 .64-8 .65 17 .64 6 .64-17 .64-6 .65 12 .64-6 .64-1 .64-9 .65 2 .64-3 .64 2 .64 5 .65-4 .64 22 .64-18 .64-3 .65 4 .64 9 .64 1 .64-21 .65 0 .64 0 .64 6 .64 1 .65 14 .64-2 .64-21 .64-16 .65 7 .64 6 .64 6 .64 5 .65-18 .64 19 .64 0 .64-32 .65 9 .64 29 .64-21 .64 2 .65 35 .64-33 .64-5 .64-21 .65 20 .64 4 .64-13 .64 22 .65-24 .64 21 .64-10 .64-10 .65 11 .64 8 .64-8 .64-21 .65 20 .64-12 .64 11 .64 0 .65-11 .64 10 .64-17 .64 18 .65-17 .64 11 .64-5 .64-9 .65 19 .64-28 .64 24 .64-13 .65 3 .64 0 .64-7 .64 11 .65-16 .64-17 .64 28 .64-15 .65 26 .64-12 .64 1 .64-12 .65 21 .64-17 .64-5 .64-2 .65 6 .64 20 .64-5 .64-6 .65-5 .64 5 .64 17 .64-9 .65-1 .64 14 .64-16 .64 4 .65-16 .64 11 .64 2 .64 5 .65 6 .64-9 .64 11 .64 6 .65-13 .64 7 .64 4 .64-16 .65 26 .64-14 .64 7 .64-14 .65 23 .64 1 .64-4 .64-6 .65 13 .64-18 .64 21 .64 0 .65 0 .64 5 .64-13 .64 5 .65 4 .64-1 .64-13 .64 6 .65-2 .64 7 .64-1 .64 8 .65-2 .64 4 .64-14 .64 17 .65-6 .64 22 .64-24 .64-25 .65 36 .64-26 .64 11 .64-2 .65 0 .64 17 .64-7 .64-3 .65-8 .64 2 .64 4 .64 2 .65-5 .64-15 .64 20 .64-3 .65-8 .64 13 .64 2 .64-9 .65 25 .64-31 .64 7 .64 3 .65-1 .64 9 .64-17 .64-3 .65 25 .64-18 .64 5 .64 2 .65 2 .64-4 .64-15 .64 6 .65 3 .64 5 .64 8 .64-23 .65 12 .64-2 .64 1 .64-22 .65 7 .64 8 .64-6 .64 4 .65 1 .64 7 .64-18 .64 0 .65 3 .64 16 .64-17 .64 19 .65-4 .64-5 .64-13 .64 11 .65-1 .64-4 .64-9 .64 6 .65-2 .64 2 .64 7 .64-8 .65-4 .64 25 .64-10 .64 13 .65-10 .64-14 .64 9 .64-3 .65 1 .64 2 .64-6 .64 9 .65 1 .64-27 .64 23 .64 0 .65-8 .64 19 .64-11 .64 10 .65 2 .64-2 .64-16 .64 5 .65-1 .64-9 .64 8 .64 9 .65-20 .64 19 .64-16 .64-1 .65 15 .64-12 .64 19 .64-1 .65-4 .64-8 .64 5 .64 12 .65 4 .64-22 .64-11 .64 16 .65 4 .64 2 .64 5 .64-15 .65 0 .64 0 .64 17 .64-6 .65 10 .64 0 .64 3 .64-5 .65 5 .64-5 .64 9 .64 0 .65 2 .64 2 .64 2 .64-3 .65 1 .64 0 .64-9 .64 22 .65 7 .64-23 .64 29 .64-3 .65-5 .64-3 .64 1 .64-5 .65 2 .64 4 .64 5 .64-16 .65 10 .64-3 .64 4 .64-4 .65 6 .64 5 .64-6 .64 13 .65-2 .64-4 .64 11 .64-13 .65 4 .64-6 .64-3 .64 26 .65-16 .64-4 .64 8 .64 2 .65-11 .64 6 .64 10 .64-8 .65-13 .64-17 .64-6 .64-34 .65-40 .64-14 .64 18 .64 31 .65 30 .64 18 .64 12 .64 10 .65 3 .64 8 .64 10 .64-11 .65-3 .64 7 .64 7 .64-12 .65 8 .64-5 .64-2 .64 17 .65-9 .64-4 .64 4 .64-2 .65 4 .64 5 .64-12 .64 11 .65-9 .64 4 .64-10 .64 0 .65 10 .64-2 .64-3 .64 3 .65-9 .64 14 .64 3 .64-13 .65 2 .64-7 .64 6 .64-8 .65-3 .64 2 .64-7 .64 3 .65 3 .64-12 .64 11 .64-8 .65 6 .64-11 .64-1 .64 14 .65-6 .64 8 .64 11 .64-4 .65-8 .64 17 .64-18 .64-6 .65 33 .64-20 .64 11 .64-9 .65 12 .64-3 .64 18 .64-19 .65 13 .64-7 .64 6 .64-4 .65-1 .64-10 .64 14 .64-16 .65 12 .64 6 .64-5 .64 5 .65 4 .64-1 .64-6 .64-1 .65 7 .64-5 .64-2 .64-4 .65 4 .64-1 .64-6 .64 5 .65-6 .64-18 .64-14 .64-15 .65-19 .64 0 .64 12 .64 19 .65 14 .64 17 .64-2 .64 1 .65 15 .64 1 .64 11 .64-13 .65 1 .64 1 .64-1 .64 11 .65-1 .64 4 .64-9 .64 4 .65 7 .64-10 .64-4 .64-7 .65 17 .64-4 .64-10 .64 12 .65 8 .64 4 .64-15 .64 9 .65-2 .64 3 .64-3 .64-12 .65 20 .64-4 .64-5 .64 1 .65 1 .64 3 .64 1 .64-15 .65 9 .64 0 .64 5 .64-5 .65 3 .64-10 .64 7 .64 0 .65 10 .64-1 .64 4 .64-13 .65 5 .64 2 .64 7 .64-4 .65 2 .64-3 .64 8 .64-8 .65-2 .64 3 .64 4 .64-1 .65-12 .64 5 .64-4 .64 3 .65-5 .64 19 .64-12 .64-4 .65 1 .64 6 .64-8 .64 4 .65 4 .64 1 .64-3 .64-4 .65 19 .64-18 .64 2 .64-2 .65 14 .64-16 .64 5 .64-13 .65 10 .64 9 .64-8 .64-5 .65 2 .64 8 .64 3 .64-5 .65-6 .64 6 .64-1 .64 1 .65 7 .64-8 .64-6 .64 20 .65-22 .64 9 .64 2 .64-9 .65 21 .64-6 .64-10 .64-2 .65 9 .64 9 .64-5 .64-9 .65 6 .64-3 .64-1 .64 4 .65-5 .64-1 .64 8 .64-7 .65 2 .64 0 .64-4 .64 9 .65-6 .64-7 .64 7 .64-10 .65 15 .64-16 .64 11 .64-4 .65 6 .64-1 .64 0 .64 7 .65-14 .64 6 .64-8 .64 15 .65-1 .64 3 .64-3 .64-3 .65-7 .64-2 .64 14 .64-4 .65-11 .64 14 .64-10 .64 3 .65 3 .64-7 .64 11 .64 0 .65-9 .64-4 .64 9 .64 2 .65 10 .64-18 .64 10 .64-6 .65 2 .64-8 .64 7 .64 9 .65-9 .64-10 .64 10 .64-6 .65 4 .64 3 .64-7 .64 4 .65 12 .64-4 .64-10 .64-9 .65 11 .64-1 .64-1 .64 3 .65-5 .64 13 .64-10 .64 3 .65 10 .64-12 .64-4 .64-2 .65 10 .64-2 .64 9 .64-17 .65 4 .64 2 .64 4 .64-6 .65-5 .64 17 .64-18 .64 5 .65-7 .64 19 .64-17 .64 15 .65 2 .64-16 .64 18 .64-7 .65-7 .64 17 .64-9 .64 2 .65-1 .64-4 .64 2 .64-1 .65-4 .64-3 .64 10 .64-5 .65-4 .64 4 .64-1 .64 11 .65-6 .64-11 .64 9 .64-2 .65-1 .64 7 .64-6 .64-5 .65 8 .64-6 .64 7 .64-6 .65 15 .64-2 .64-9 .64 10 .65-12 .64 2 .64 10 .64-12 .65 7 .64-4 .64 8 .64-8 .65-7 .64 10 .64-3 .64 1 .65 2 .64 3 .64-10 .64-3 .65 3 .64-3 .64 2 .64 14 .65-12 .64 0 .64 3 .64-3 .65-5 .64 7 .64-3 .64 12 .65-4 .64-10 .64 7 .64-9 .65 8 .64-18 .64 9 .64 7 .65-1 .64-1 .64 0 .64 5 .65 3 .64-14 .64 10 .64-4 .65-7 .64 2 .64 8 .64-10 .65-4 .64-1 .64-3 .64-10 .65-2 .64 2 .64-4 .64-1 .65-20 .64-14 .64-29 .64-33 .65-42 .64-64 .64-65 .64-61 .65-41 .64-1 .64 30 .64 49 .65 56 .64 55 .64 50 .64 33 .65 32 .64 17 .64 17 .64 16 .65 8 .64 7 .64 0 .64 11 .65 5 .64-3 .64 9 .64 4 .65-25 .64 22 .64 5 .64 1 .65-9 .64-4 .64 4 .64 6 .65 6 .64-7 .64 5 .64 0 .65-8 .64 8 .64 0 .64-2 .65 2 .64-5 .64 8 .64-9 .65 11 .64-3 .64-4 .64-3 .65 7 .64-7 .64 0 .64-4 .65 7 .64 6 .64-7 .64 2 .65-5 .64 4 .64 0 .64 10 .65-4 .64-6 .64 8 .64 1 .65-12 .64 9 .64 1 .64-2 .65-7 .64 10 .64-7 .64 4 .65 1 .64-1 .64 2 .64 0 .65 4 .64-8 .64 2 .64 2 .65 12 .64-1 .64-20 .64 11 .65 14 .64-16 .64 8 .64-4 .65-12 .64 8 .64-2 .64 6 .65 8 .64-18 .64 3 .64 4 .65 0 .64 5 .64-2 .64-6 .65 0 .64 9 .64 2 .64-8 .65 6 .64-3 .64-1 .64-4 .65 1 .64 7 .64 2 .64-3 .65-4 .64-7 .64 8 .64-6 .65 3 .64 11 .64-18 .64 4 .65 8 .64-7 .64 4 .64 7 .65-3 .64 4 .64-3 .64-8 .65 10 .64-7 .64 2 .64 7 .65-7 .64-7 .64 10 .64-11 .65-3 .64 11 .64-3 .64 7 .65-4 .64 6 .64 2 .64-16 .65 14 .64-6 .64 5 .64-6 .65-1 .64-7 .64 10 .64-9 .65 5 .64 13 .64-3 .64-5 .65 11 .64-7 .64-4 .64-5 .65 12 .64 0 .64 11 .64-16 .65-6 .64 6 .64-9 .64 6 .65 4 .64-3 .64-1 .64 1 .65 7 .64-9 .64-1 .64 1 .65 0 .64 5 .64-16 .64 13 .65-2 .64 4 .64 4 .64-3 .65-2 .64-4 .64 7 .64-1 .65-4 .64 1 .64 2 .64-4 .65-2 .64 12 .64-9 .64 1 .65 9 .64-3 .64-4 .64-4 .65-2 .64 5 .64-9 .64 9 .65 2 .64-4 .64-4 .64 16 .65-14 .64 2 .64 5 .64 4 .65-3 .64-5 .64 4 .64 6 .65-8 .64 2 .64 3 .64-7 .65 4 .64-6 .64 4 .64-5 .65 4 .64 3 .64-1 .64 1 .65-2 .64-5 .64 0 .64 9 .65 0 .64-4 .64 1 .64 11 .65-2 .64-7 .64-5 .64 8 .65-3 .64-3 .64-1 .64 10 .65-3 .64 0 .64-4 .64 3 .65-1 .64-15 .64 16 .64 1 .65-6 .64 5 .64-7 .64 0 .65-9 .64 25 .64-9 .64-2 .65-6 .64 0 .64 5 .64 3 .65-2 .64-4 .64 10 .64-1 .65-6 .64 14 .64-9 .64-9 .65 2 .64-5 .64 9 .64-6 .65 13 .64-3 .64 0 .64 0 .65-11 .64-4 .64 8 .64 5 .65-3 .64 3 .64-6 .64 2 .65-10 .64 11 .64-4 .64 13 .65-7 .64 4 .64-14 .64 1 .65 0 .64 5 .64 0 .64-3 .65 6 .64-8 .64 6 .64 2 .65-3 .64-3 .64 8 .64-5 .65 1 .64 1 .64-1 .64 2 .65-10 .64 9 .64-7 .64 4 .65 14 .64-8 .64-1 .64 2 .65-6 .64 1 .64-1 .64 7 .65-14 .64 13 .64-9 .64 6 .65-2 .64-3 .64 0 .64-4 .65 13 .64-3 .64-2 .64 0 .65 7 .64-10 .64-2 .64 5 .65 0 .64 1 .64 1 .64-10 .65 9 .64 5 .64 4 .64-5 .65-10 .64 6 .64-2 .64 12 .65-18 .64 8 .64 9 .64-18 .65 7 .64-7 .64 9 .64 1 .65-4 .64-2 .64 10 .64-14 .65 11 .64-7 .64 7 .64-1 .65-8 .64 7 .64-7 .64 16 .65-12 .64 4 .64 1 .64 6 .65-16 .64 10 .64-6 .64 2 .65 3 .64 2 .64-6 .64-1 .65-4 .64 17 .64-14 .64 22 .65-19 .64 5 .64-7 .64 2 .65 2 .64 0 .64-2 .64-1 .65 2 .64-1 .64 6 .64-2 .65-9 .64 6 .64 0 .64 2 .65-8 .64 8 .64-3 .64 0 .65 0 .64 0 .64 5 .64-5 .65 2 .64 0 .64 3 .64-13 .65 1 .64 8 .64 3 .64-10 .65 10 .64-7 .64 5 .64-4 .65 1 .64 4 .64 6 .64-11 .65-6 .64 10 .64 1 .64-4 .65 4 .64-6 .64 1 .64 5 .65-4 .64 8 .64-3 .64-10 .65 1 .64 7 .64 0 .64-9 .65 2 .64 6 .64-3 .64 1 .65 7 .64-1 .64-4 .64-1 .65-2 .64 3 .64-14 .64 9 .65 3 .64-5 .64 8 .64-15 .65 16 .64-7 .64-1 .64 7 .65-8 .64 8 .64-3 .64 3 .65 2 .64-4 .64-3 .64 5 .65-2 .64-4 .64 10 .64-9 .65-2 .64 7 .64 3 .64-7 .65-4 .64-6 .64 6 .64-18 .65 10 .64-1 .64 1 .64-14 .65 5 .64-14 .64 14 .64-17 .65-4 .64-12 .64 4 .64-11 .65-6 .64-16 .64-9 .64-20 .65-17 .64-24 .64-19 .64-31 .65-31 .64-24 .64-25 .64-15 .65-6 .64 2 .64 8 .64 13 .65 20 .64 21 .64 24 .64 25 .65 22 .64 18 .64 19 .64 22 .65 12 .64 14 .64 10 .64 7 .65 16 .64 5 .64 11 .64 0 .65 8 .64 8 .64-2 .64 4 .65 1 .64 8 .64-4 .64 9 .65-10 .64 5 .64 9 .64 1 .65-2 .64-11 .64 11 .64-5 .65 3 .64 8 .64-2 .64 0 .65-7 .64 1 .64 3 .64 3 .65 3 .64 11 .64-11 .64-5 .65 10 .64-7 .64-1 .64-3 .65 4 .64 2 .64 0 .64 0 .65 1 .64-13 .64 13 .64-6 .65 5 .64-5 .64 7 .64-9 .65 9 .64-5 .64 5 .64 0 .65-7 .64-3 .64 4 .64 9 .65-9 .64 3 .64 3 .64-6 .65 3 .64 6 .64-12 .64 10 .65 1 .64-13 .64 14 .64-11 .65 9 .64 0 .64-2 .64 5 .65 1 .64-6 .64 0 .64-9 .65 9 .64 5 .64-5 .64 0 .65 10 .64-11 .64-4 .64 8 .65 2 .64-7 .64-8 .64 7 .65 8 .64-6 .64 12 .64-15 .65 5 .64-2 .64 7 .64-1 .65-5 .64 5 .64 0 .64 3 .65-3 .64 0 .64-9 .64 9 .65-10 .64 14 .64-8 .64-2 .65 2 .64 3 .64 1 .64-3 .65 7 .64-13 .64 5 .64-10 .65 12 .64 0 .64 0 .64 4 .65-4 .64 5 .64-18 .64 10 .65 5 .64-8 .64 0 .64 14 .65-3 .64 3 .64-9 .64 3 .65-1 .64-3 .64 7 .64-4 .65 0 .64-1 .64-3 .64-4 .65 13 .64-11 .64 7 .64 1 .65 5 .64-8 .64 6 .64 1 .65 6 .64-4 .64-1 .64-8 .65 4 .64-12 .64-4 .64 7 .65 6 .64-3 .64 4 .64 6 .65-12 .64-2 .64 10 .64-5 .65-2 .64 9 .64-9 .64 0 .65 3 .64 2 .64 1 .64-3 .65-6 .64 4 .64 11 .64-1 .65-2 .64-2 .64-4 .64-4 .65 4 .64 6 .64-6 .64 9 .65-12 .64 5 .64-1 .64 6 .65-1 .64-9 .64-6 .64 5 .65 11 .64-2 .64 6 .64-10 .65 7 .64-6 .64 1 .64-2 .65 8 .64-6 .64 2 .64-1 .65 2 .64 0 .64-1 .64 3 .65-8 .64 3 .64-4 .64 3 .65-3 .64-1 .64-1 .64 5 .65 1 .64-10 .64 7 .64 4 .65-4 .64 7 .64-7 .64 2 .65 5 .64-9 .64 2 .64 8 .65-3 .64-7 .64 1 .64 8 .65-4 .64 1 .64 8 .64-11 .65 4 .64 4 .64-5 .64-3 .65 2 .64 0 .64-4 .64 9 .65-10 .64 4 .64-7 .64 8 .65-1 .64-3 .64 6 .64 1 .65-2 .64-11 .64 14 .64-8 .65-2 .64 7 .64 3 .64 1 .65-6 .64-6 .64 6 .64-1 .65-5 .64-3 .64 10 .64-4 .65-9 .64 14 .64-9 .64 8 .65-12 .64 5 .64-10 .64 19 .65-5 .64-3 .64 4 .64 0 .65-2 .64-6 .64 9 .64-6 .65 4 .64-3 .64 1 .64 1 .65 1 .64 3 .64 1 .64-4 .65 3 .64-7 .64 3 .64-7 .65 4 .64 3 .64-10 .64 2 .65-1 .64 6 .64 4 .64 2 .65-3 .64-2 .64-2 .64-3 .65 1 .64 12 .64-13 .64 3 .65 6 .64-6 .64-4 .64 3 .65-2 .64-2 .64 3 .64-6 .65 4 .64-6 .64-3 .64-7 .65 2 .64 6 .64-2 .64-3 .65 0 .64-15 .64-2 .64-6 .65-9 .64-13 .64-11 .64-2 .65-17 .64-12 .64-8 .64-13 .65-7 .64-2 .64-2 .64 4 .65 6 .64 3 .64 10 .64 10 .65 5 .64 18 .64 4 .64 14 .65 4 .64 13 .64 4 .64 4 .65 12 .64 1 .64 6 .64 0 .65 7 .64 4 .64 1 .64 3 .65-3 .64 7 .64 4 .64-7 .65 2 .64-2 .64-1 .64 7 .65-6 .64 7 .64 2 .64 1 .65-1 .64 2 .64-7 .64 0 .65 8 .64 2 .64-6 .64-3 .65 7 .64 0 .64-2 .64 2 .65 6 .64-19 .64 10 .64 0 .65 13 .64-9 .64-1 .64 4 .65-4 .64-1 .64-6 .64 11 .65-5 .64 0 .64-4 .64 7 .65-2 .64 4 .64-8 .64 5 .65-9 .64 11 .64 3 .64-9 .65 5 .64 0 .64-3 .64 10 .65-4 .64-8 .64 2 .64 3 .65-2 .64 3 .64-6 .64 5 .65-6 .64 7 .64-5 .64 3 .65-5 .64 9 .64-6 .64 0 .65 8 .64-7 .64-5 .64 3 .65 1 .64 4 .64-1 .64 2 .65-10 .64 8 .64 3 .64-10 .65 8 .64-2 .64-3 .64 10 .65-13 .64 7 .64 3 .64 4 .65-2 .64-10 .64-2 .64-1 .65 11 .64-10 .64 3 .64 12 .65-12 .64 3 .64-2 .64-4 .65 4 .64 3 .64 6 .64-5 .65-4 .64 2 .64-2 .64 3 .65 0 .64 7 .64-11 .64 5 .65 3 .64-14 .64 22 .64-13 .65 0 .64 4 .64-1 .64 3 .65-1 .64-2 .64 1 .64-1 .65-2 .64-4 .64 3 .64-2 .65 1 .64 7 .64 1 .64-7 .65 2 .64-8 .64 10 .64 1 .65-6 .64 3 .64-7 .64 3 .65 5 .64 8 .64-8 .64 1 .65-1 .64 6 .64-2 .64-5 .65-7 .64 6 .64-11 .64 17 .65-6 .64 3 .64 3 .64-1 .65-9 .64-1 .64 5 .64-4 .65 9 .64-3 .64-1 .64-2 .65 6 .64-3 .64 3 .64-9 .65 1 .64 7 .64 1 .64-4 .65-1 .64-1 .64 9 .64-3 .65-3 .64 4 .64-4 .64 0 .65 0 .64-3 .64-4 .64 8 .65-1 .64-3 .64 1 .64-3 .65 5 .64 0 .64-4 .64-1 .65 4 .64-1 .64-1 .64 0 .65 0 .64-9 .64 9 .64 3 .65-9 .64 11 .64-8 .64 11 .65-4 .64-7 .64 8 .64-5 .65 8 .64-8 .64 6 .64-3 .65-2 .64 3 .64-5 .64 7 .65 2 .64-4 .64 0 .64 2 .65 1 .64-3 .64 7 .64-14 .65 3 .64 1 .64 9 .64-2 .65-8 .64-4 .64 0 .64 8 .65-14 .64 11 .64 1 .64 1 .65 7 .64-6 .64-2 .64-3 .65 4 .64 0 .64 5 .64-12 .65 3 .64 0 .64 1 .64-6 .65 5 .64 5 .64-2 .64-2 .65 4 .64-12 .64 14 .64-6 .65 8 .64-2 .64-7 .64 0 .65 3 .64 2 .64-6 .64 2 .65 8 .64-3 .64-4 .64 3 .65 3 .64-9 .64 0 .64 5 .65-1 .64 3 .64-6 .64 1 .65-3 .64-2 .64-1 .64 13 .65-8 .64 5 .64-6 .64 12 .65-7 .64-1 .64 3 .64-4 .65-2 .64 8 .64-6 .64-1 .65 1 .64 8 .64-5 .64 2 .65-7 .64 8 .64-4 .64-3 .65-6 .64 7 .64-1 .64 9 .65-10 .64-1 .64 4 .64 1 .65-4 .64-1 .64 8 .64 3 .65-9 .64 4 .64-1 .64-4 .65 2 .64 5 .64-2 .64 2 .65 1 .64 0 .64-11 .64 11 .65-1 .64-12 .64 4 .64 4 .65 2 .64 8 .64-12 .64 14 .65-15 .64 7 .64-13 .64 5 .65-4 .64 6 .64 2 .64-2 .65-1 .64 10 .64-3 .64-10 .65 5 .64-1 .64 2 .64-1 .65 2 .64 3 .64-2 .64-3 .65 1 .64 0 .64-3 .64-6 .65 7 .64-2 .64 7 .64-10 .65 6 .64 1 .64-5 .64 8 .65-5 .64 1 .64 2 .64-4 .65 4 .64 4 .64-4 .64-14 .65 17 .64 3 .64-14 .64 9 .65-8 .64 4 .64 0 .64 1 .65 1 .64 1 .64 2 .64-4 .65-5 .64 3 .64 4 .64-12 .65 13 .64 1 .64-9 .64 0 .65 6 .64 0 .64-6 .64 10 .65-8 .64 1 .64 4 .64 2 .65 1 .64-7 .64 4 .64 2 .65-1 .64-1 .64-3 .64 2 .65 0 .64-8 .64 11 .64-4 .65 3 .64-1 .64 1 .64 0 .65-5 .64 6 .64 0 .64-3 .65-2 .64 5 .64-3 .64 0 .65-2 .64-2 .64 9 .64-8 .65-6 .64 9 .64 2 .64 0 .65 1 .64-3 .64-8 .64 1 .65 6 .64 5 .64-2 .64-5 .65 7 .64 0 .64-9 .64 6 .65 2 .64 0 .64-5 .64-1 .65 3 .64 3 .64 4 .64-11 .65 5 .64 3 .64-6 .64 13 .65-7 .64-4 .64-9 .64 12 .65-6 .64 2 .64-3 .64 1 .65 4 .64-3 .64 5 .64-6 .65 15 .64-11"/>
<path stroke="#0000FF" d="M403.75 1211l.64-4 .65 2 .64-4 .64 9 .64-17 .64 20 .65-9 .64 1 .64-5 .64-3 .65 9 .64 9 .64-2 .64 5 .65-6 .64 4 .64-2 .64-5 .65 8 .64-1 .64 9 .64-5 .65 2 .64 5 .64 4 .64-5 .65 2 .64 3 .64 6 .64-11 .65 0 .64 25 .64-18 .64 2 .65-12 .64 10 .64 2 .64-2 .65 2 .64 2 .64 3 .64 4 .65-12 .64 1 .64 11 .64-2 .65-5 .64-3 .64 4 .64 5 .65 4 .64 3 .64-1 .64-9 .65 16 .64-6 .64-4 .64 1 .65 6 .64-7 .64 2 .64 2 .65 8 .64-15 .64 14 .64-16 .65 6 .64 7 .64 4 .64-12 .65 12 .64 2 .64-9 .64 1 .65 1 .64-9 .64 23 .64-10 .65-10 .64 10 .64 0 .64-3 .65 2 .64 4 .64-7 .64-3 .65 15 .64-7 .64-4 .64 10 .65-20 .64 6 .64 10 .64-3 .65 1 .64-4 .64-1 .64 1 .65 1 .64 5 .64 2 .64-2 .65 5 .64-16 .64 8 .64-5 .65 15 .64-10 .64 4 .64-2 .65-5 .64 0 .64 7 .64 1 .65-6 .64 12 .64-9 .64 4 .65-3 .64 3 .64-14 .64 16 .65-4 .64 0 .64 2 .64-4 .65-11 .64 4 .64-3 .64 3 .65 6 .64 4 .64-16 .64 1 .65 6 .64 3 .64-2 .64-5 .65 5 .64 0 .64-7 .64 11 .65-15 .64 8 .64-1 .64 2 .65 3 .64-8 .64 2 .64 3 .65 6 .64-13 .64 7 .64-3 .65-6 .64 8 .64-9 .64 5 .65 1 .64 11 .64-18 .64 9 .65-3 .64-3 .64-2 .64 10 .65-13 .64 8 .64-7 .64 4 .65 0 .64-14 .64 2 .64 5 .65 0 .64-10 .64 11 .64 2 .65-7 .64 0 .64-9 .64 14 .65 4 .64 5 .64-17 .64 10 .65-16 .64 5 .64-3 .64-11 .65 5 .64 3 .64-1 .64-3 .65 2 .64 5 .64 0 .64-23 .65 11 .64 2 .64-17 .64 18 .65 5 .64-19 .64-8 .64 11 .65 12 .64 9 .64-17 .64-4 .65-7 .64 10 .64-11 .64 5 .65 6 .64-8 .64-9 .64 9 .65 4 .64 0 .64-22 .64 14 .65-1 .64-6 .64-7 .64 1 .65-1 .64 21 .64-14 .64-4 .65 5 .64 9 .64-10 .64 7 .65 0 .64-8 .64 16 .64-8 .65 7 .64 3 .64-13 .64-1 .65 2 .64 21 .64-14 .64-2 .65 15 .64-14 .64 19 .64-17 .65 9 .64-1 .64 3 .64 6 .65 0 .64-12 .64 2 .64 8 .65 7 .64-7 .64 0 .64-7 .65 17 .64-1 .64-6 .64 5 .65 13 .64-12 .64 0 .64 10 .65-15 .64 10 .64 1 .64-2 .65 3 .64 1 .64 4 .64-2 .65 6 .64 2 .64-4 .64-1 .65-10 .64 19 .64-4 .64 1 .65 6 .64-9 .64 0 .64 9 .65-22 .64 24 .64-2 .64-8 .65 3 .64 11 .64-9 .64 8 .65-2 .64-2 .64 0 .64 0 .65-1 .64 3 .64 4 .64-15 .65 18 .64 5 .64-20 .64 15 .65-6 .64 4 .64-5 .64-5 .65 10 .64-3 .64 2 .64-8 .65 5 .64 6 .64-13 .64 10 .65-10 .64 13 .64 8 .64-19 .65 7 .64 3 .64-8 .64 11 .65-4 .64-2 .64 7 .64-5 .65 13 .64-7 .64-5 .64 1 .65-8 .64 3 .64-2 .64 7 .65 0 .64-8 .64 7 .64-1 .65-3 .64 6 .64-4 .64-2 .65 1 .64 4 .64-9 .64 4 .65 5 .64 2 .64-3 .64-2 .65-7 .64 12 .64-9 .64-2 .65 10 .64-9 .64-1 .64 6 .65 2 .64-2 .64-11 .64 10 .65-3 .64-1 .64 5 .64 0 .65-11 .64 13 .64-7 .64 1 .65-4 .64 5 .64 3 .64-7 .65-5 .64 20 .64-7 .64-2 .65 4 .64-12 .64 1 .64-3 .65 6 .64 16 .64-8 .64-12 .65 11 .64-3 .64 3 .64-12 .65 4 .64-6 .64 5 .64 4 .65-6 .64 1 .64 4 .64-7 .65-5 .64 10 .64-15 .64 17 .65-13 .64 2 .64-5 .64 15 .65 0 .64-7 .64 1 .64 5 .65-7 .64-9 .64 1 .64 2 .65-12 .64 12 .64-1 .64 5 .65-4 .64 8 .64-12 .64 5 .65 3 .64-6 .64 2 .64-12 .65 10 .64-2 .64 7 .64-7 .65 2 .64 8 .64-18 .64 8 .65-8 .64 4 .64 1 .64-4 .65 9 .64-9 .64 3 .64 2 .65-1 .64 3 .64-6 .64 12 .65-4 .64 0 .64 0 .64-3 .65 1 .64 3 .64 4 .64-3 .65-5 .64 5 .64-9 .64 8 .65-3 .64 1 .64 0 .64-4 .65 3 .64 1 .64 3 .64 1 .65-3 .64-2 .64 10 .64-13 .65 20 .64-5 .64-5 .64-4 .65 1 .64-2 .64 10 .64-2 .65-6 .64 2 .64 1 .64-2 .65 4 .64-3 .64 7 .64-3 .65-7 .64 7 .64 7 .64-7 .65-3 .64-4 .64 3 .64 6 .65-1 .64-11 .64 12 .64-10 .65 8 .64-1 .64 2 .64-1 .65-4 .64 1 .64 5 .64-2 .65 7 .64-7 .64 6 .64-4 .65-3 .64 11 .64-15 .64 3 .65 8 .64 1 .64-4 .64-3 .65 1 .64 7 .64-16 .64 0 .65 6 .64-2 .64 3 .64 2 .65-2 .64 3 .64 0 .64-2 .65 1 .64 1 .64-2 .64 10 .65-4 .64-8 .64 14 .64-5 .65-6 .64 3 .64-7 .64 3 .65 0 .64 8 .64 8 .64-7 .65-2 .64-1 .64 4 .64-1 .65-8 .64 0 .64 3 .64 6 .65-4 .64-13 .64 16 .64 6 .65-6 .64-5 .64 5 .64 2 .65-3 .64-2 .64-7 .64 14 .65-10 .64 9 .64-10 .64-2 .65 19 .64-21 .64 11 .64-5 .65 10 .64-8 .64 1 .64 10 .65-12 .64 1 .64 3 .64-8 .65 8 .64-6 .64 9 .64-5 .65-10 .64 5 .64-2 .64 12 .65-11 .64 10 .64-9 .64 4 .65 0 .64 10 .64-15 .64 4 .65-5 .64 25 .64-20 .64 4 .65-6 .64 6 .64 0 .64-6 .65 6 .64-5 .64-4 .64 13 .65-3 .64-4 .64-10 .64 19 .65-12 .64-2 .64 3 .64 3 .65-6 .64-4 .64 9 .64 1 .65-6 .64 4 .64 5 .64-4 .65-5 .64 6 .64-8 .64 6 .65 0 .64 0 .64 2 .64-7 .65 5 .64-11 .64 9 .64-14 .65 10 .64 6 .64-16 .64 10 .65 5 .64-5 .64-3 .64 8 .65-5 .64 0 .64-3 .64 6 .65-1 .64-5 .64 6 .64-5 .65 5 .64-18 .64 4 .64 5 .65 9 .64 0 .64-7 .64-2 .65 9 .64-9 .64-7 .64 5 .65 6 .64-2 .64 8 .64-11 .65 10 .64-15 .64 6 .64-3 .65 7 .64-18 .64 16 .64-6 .65 4 .64 9 .64-23 .64 16 .65-9 .64-6 .64 6 .64-8 .65 0 .64 12 .64-5 .64-3 .65 5 .64-19 .64 9 .64-7 .65 9 .64-1 .64-11 .64 14 .65 6 .64-19 .64 8 .64-3 .65-10 .64 7 .64-3 .64-6 .65 11 .64 3 .64-21 .64 1 .65 9 .64-10 .64 20 .64-14 .65 12 .64-14 .64 2 .64 2 .65 9 .64-6 .64-17 .64 8 .65-1 .64 1 .64 15 .64-13 .65-13 .64-1 .64 2 .64-9 .65 3 .64-5 .64 10 .64-13 .65 23 .64-21 .64-14 .64 11 .65-4 .64-8 .64 14 .64-12 .65 5 .64-4 .64-1 .64-10 .65-2 .64-15 .64 26 .64 0 .65-10 .64 4 .64-9 .64 9 .65-8 .64-5 .64 3 .64 4 .65 0 .64 21 .64-39 .64 23 .65-2 .64-18 .64 14 .64 20 .65-28 .64 0 .64-2 .64 12 .65-4 .64 8 .64 3 .64-19 .65 6 .64-4 .64 11 .64-19 .65 15 .64 7 .64-2 .64-15 .65 0 .64 6 .64-6 .64 3 .65-4 .64-11 .64 23 .64 8 .65-15 .64-6 .64 17 .64-7 .65-6 .64 0 .64-13 .64 24 .65 2 .64-9 .64 2 .64-11 .65 9 .64 3 .64-8 .64 5 .65 2 .64-13 .64 5 .64 21 .65-8 .64-16 .64 23 .64-15 .65 1 .64 6 .64 11 .64-3 .65-26 .64 19 .64 8 .64-11 .65-17 .64 9 .64 0 .64-4 .65-7 .64 10 .64-5 .64 7 .65 4 .64-13 .64 3 .64-7 .65 17 .64 1 .64-13 .64 2 .65-26 .64 12 .64 10 .64-4 .65 4 .64-8 .64 18 .64-14 .65-10 .64 19 .64-8 .64 1 .65-5 .64 6 .64 6 .64-17 .65 23 .64-12 .64-7 .64-16 .65 9 .64 0 .64 4 .64-3 .65 1 .64-5 .64 17 .64-20 .65 3 .64-4 .64-1 .64 17 .65-10 .64 17 .64-18 .64 2 .65 5 .64-28 .64 27 .64-16 .65 0 .64 8 .64-11 .64 8 .65 1 .64 4 .64 2 .64 7 .65-4 .64-21 .64-1 .64 9 .65 8 .64-3 .64-10 .64 18 .65-8 .64-8 .64 16 .64-12 .65 16 .64-23 .64 11 .64 10 .65 6 .64-12 .64 15 .64-9 .65 8 .64-6 .64-13 .64 12 .65-9 .64-1 .64-7 .64 28 .65-5 .64 1 .64 15 .64-11 .65 6 .64-11 .64 13 .64-4 .65 10 .64-12 .64-14 .64 25 .65-8 .64 7 .64-5 .64 10 .65-6 .64 6 .64-3 .64 11 .65 12 .64-16 .64 5 .64-31 .65 30 .64-17 .64 6 .64 3 .65 3 .64-15 .64 3 .64 15 .65-3 .64 11 .64-4 .64-3 .65-6 .64 14 .64-5 .64-1 .65-25 .64 10 .64 17 .64-15 .65 9 .64 1 .64 0 .64 3 .65-10 .64-5 .64 1 .64 10 .65 4 .64-6 .64-15 .64 6 .65 10 .64-20 .64 18 .64 5 .65-4 .64-8 .64 19 .64-8 .65-6 .64-18 .64 25 .64 10 .65-7 .64-16 .64 6 .64-16 .65 6 .64 14 .64-14 .64 5 .65 5 .64-10 .64-11 .64 9 .65 2 .64 6 .64-11 .64 2 .65 8 .64 11 .64-24 .64-15 .65 23 .64-14 .64 3 .64 19 .65-6 .64 5 .64 6 .64-13 .65-7 .64-7 .64 25 .64-15 .65 2 .64 1 .64 2 .64-7 .65-7 .64-5 .64 1 .64 12 .65 6 .64-2 .64-2 .64 2 .65-6 .64-14 .64 26 .64 5 .65 13 .64-32 .64-13 .64 23 .65-11 .64 18 .64-29 .64 1 .65-3 .64 13 .64 7 .64-3 .65 17 .64-28 .64 16 .64 7 .65-20 .64 6 .64-13 .64 29 .65-26 .64 18 .64-5 .64-11 .65 14 .64-10 .64 13 .64-9 .65 1 .64 13 .64-8 .64-1 .65 14 .64-10 .64 21 .64-18 .65 8 .64-8 .64 4 .64 3 .65-5 .64 3 .64 20 .64-23 .65 7 .64-1 .64 11 .64-2 .65 5 .64-6 .64 2 .64 5 .65 0 .64 7 .64-18 .64 5 .65 3 .64 16 .64 0 .64-1 .65 7 .64-10 .64-1 .64 6 .65-1 .64 7 .64-6 .64 13 .65-18 .64 17 .64-1 .64-8 .65 9 .64-4 .64-2 .64 13 .65-14 .64 16 .64-14 .64 10 .65 17 .64-6 .64-9 .64 3 .65-17 .64 8 .64 5 .64-1 .65-5 .64-15 .64-15 .64-23 .65-43 .64-47 .64-22 .64 26 .65 41 .64 40 .64 25 .64 20 .65 5 .64 24 .64-6 .64 4 .65-1 .64-11 .64 22 .64-13 .65 22 .64-5 .64-4 .64 3 .65-6 .64-4 .64 17 .64-15 .65 3 .64 10 .64-10 .64 2 .65 8 .64-14 .64 20 .64-5 .65-3 .64 3 .64-5 .64 12 .65-18 .64 20 .64-8 .64-5 .65 1 .64 4 .64 4 .64-16 .65 2 .64-9 .64-28 .64-28 .65-22 .64 0 .64 20 .64 19 .65 16 .64 19 .64 16 .64-6 .65 16 .64-1 .64 10 .64-9 .65 7 .64-8 .64-10 .64 19 .65 4 .64-11 .64 1 .64-3 .65 10 .64-10 .64 1 .64 2 .65 3 .64-6 .64-2 .64 10 .65-2 .64 4 .64-10 .64-4 .65 7 .64 11 .64-9 .64-10 .65 3 .64 15 .64-14 .64-16 .65 20 .64-12 .64 13 .64-9 .65 10 .64-11 .64-2 .64 22 .65-17 .64 0 .64-7 .64 4 .65 14 .64-3 .64-9 .64 3 .65-7 .64 9 .64-9 .64-7 .65 24 .64-17 .64 11 .64 3 .65-7 .64 4 .64 2 .64-2 .65 2 .64 3 .64-1 .64-12 .65 16 .64-11 .64 5 .64 11 .65 0 .64-2 .64-1 .64 7 .65-7 .64-7 .64 1 .64 7 .65 5 .64 2 .64-10 .64 0 .65 7 .64-9 .64 8 .64 6 .65-10 .64-7 .64 7 .64 12 .65-6 .64-3 .64-4 .64 9 .65-12 .64 16 .64-8 .64-3 .65 15 .64-19 .64 10 .64-6 .65 3 .64 4 .64-2 .64-13 .65 18 .64 2 .64-17 .64 4 .65 10 .64-8 .64-1 .64 4 .65 0 .64-3 .64 3 .64-2 .65 0 .64-1 .64 19 .64-6 .65-21 .64 8 .64 6 .64-1 .65-9 .64-3 .64 5 .64-7 .65-10 .64-4 .64-23 .64-36 .65-60 .64-73 .64-61 .64-3 .65 45 .64 59 .64 54 .64 43 .65 28 .64 18 .64 17 .64-4 .65 15 .64-7 .64 5 .64-7 .65 9 .64 18 .64-24 .64 13 .65-1 .64 5 .64 7 .64-5 .65-1 .64-9 .64 3 .64-2 .65 5 .64-3 .64-2 .64 3 .65 4 .64 2 .64 2 .64 1 .65-3 .64 1 .64 3 .64 1 .65-3 .64-1 .64-12 .64 4 .65 3 .64 12 .64-16 .64 10 .65 10 .64-19 .64 8 .64 4 .65-7 .64-1 .64 0 .64 4 .65-10 .64 13 .64-9 .64-1 .65 8 .64 8 .64-16 .64 10 .65-7 .64 2 .64 0 .64-2 .65-12 .64 21 .64-2 .64 13 .65-16 .64-10 .64 2 .64-2 .65 10 .64-4 .64 9 .64-1 .65-8 .64 7 .64-11 .64 6 .65-3 .64 9 .64-2 .64 6 .65-6 .64-11 .64 9 .64 4 .65-4 .64-4 .64 7 .64-4 .65 3 .64 4 .64-8 .64 5 .65-6 .64-3 .64 18 .64-11 .65 8 .64-19 .64 1 .64 7 .65 18 .64-22 .64 6 .64-3 .65-1 .64 14 .64-10 .64 12 .65-11 .64 9 .64-11 .64 14 .65-22 .64 3 .64 5 .64 14 .65-8 .64 9 .64-17 .64 15 .65-14 .64-8 .64 11 .64 0 .65 7 .64-9 .64 4 .64-9 .65 1 .64 8 .64 2 .64 3 .65-2 .64 1 .64 3 .64-13 .65 2 .64 8 .64 0 .64-6 .65 1 .64 7 .64-5 .64 6 .65-9 .64-3 .64 3 .64-2 .65 5 .64-4 .64 8 .64-7 .65-5 .64 9 .64-3 .64-10 .65 5 .64 4 .64 4 .64 7 .65-7 .64 2 .64 8 .64-7 .65-7 .64 1 .64-3 .64 0 .65 0 .64 4 .64-9 .64 2 .65 4 .64 4 .64-6 .64 2 .65 0 .64-1 .64 15 .64-8 .65-6 .64 4 .64-3 .64 3 .65-2 .64-6 .64 9 .64-4 .65 2 .64-2 .64 1 .64 8 .65-17 .64 6 .64-3 .64 7 .65-7 .64 6 .64-1 .64 1 .65-5 .64-8 .64-4 .64 16 .65-3 .64-3 .64 9 .64 1 .65-4 .64-1 .64-3 .64-8 .65 0 .64 4 .64-3 .64-14 .65-1 .64-11 .64-23 .64-26 .65-20 .64 2 .64 12 .64 21 .65 19 .64 14 .64 17 .64 3 .65 8 .64-14 .64 18 .64 8 .65-11 .64-4 .64 6 .64 6 .65 2 .64 3 .64-6 .64 1 .65-4 .64 4 .64-6 .64-3 .65 13 .64-10 .64 10 .64-10 .65 9 .64 5 .64-14 .64-1 .65 11 .64-3 .64-11 .64 13 .65-2 .64 4 .64-6 .64-2 .65 2 .64 0 .64 13 .64-3 .65-30 .64 18 .64 3 .64-7 .65 15 .64-5 .64 1 .64-2 .65 6 .64-5 .64 2 .64-1 .65 4 .64-9 .64-7 .64 13 .65 0 .64-2 .64 7 .64-3 .65 0 .64-2 .64-9 .64 12 .65-9 .64 9 .64-5 .64 4 .65-5 .64-6 .64 6 .64-9 .65 17 .64-6 .64-2 .64 5 .65 5 .64-11 .64 1 .64 3 .65 0 .64 3 .64-2 .64-5 .65 8 .64 1 .64-5 .64 5 .65-9 .64 1 .64-7 .64 4 .65 9 .64 2 .64 0 .64-9 .65 5 .64 1 .64 4 .64-2 .65-10 .64 11 .64 2 .64-5 .65 1 .64 4 .64-8 .64 4 .65-4 .64 12 .64-7 .64-4 .65 5 .64-2 .64-5 .64 0 .65 12 .64-10 .64 5 .64-8 .65 0 .64 7 .64-1 .64-1 .65-4 .64 6 .64-9 .64 20 .65-19 .64 0 .64 2 .64 12 .65-18 .64-1 .64-8 .64-5 .65-12 .64-4 .64 1 .64 14 .65 9 .64 4 .64 4 .64 1 .65 2 .64 4 .64 9 .64-11 .65 9 .64-6 .64-1 .64 5 .65-8 .64 7 .64-4 .64 4 .65 0 .64-6 .64 1 .64 3 .65 2 .64 3 .64-2 .64 3 .65-2 .64-7 .64-1 .64 10 .65-2 .64-3 .64-3 .64 6 .65-1 .64-1 .64-1 .64 2 .65 0 .64-6 .64-2 .64 19 .65-3 .64-6 .64 3 .64 1 .65-5 .64-8 .64 4 .64 10 .65-1 .64-9 .64 3 .64 8 .65-6 .64 0 .64-12 .64 3 .65 8 .64 1 .64 3 .64-3 .65 2 .64-9 .64 4 .64 3 .65-4 .64 7 .64-9 .64 7 .65-2 .64 2 .64-1 .64 0 .65-7 .64 3 .64 6 .64-1 .65-9 .64 2 .64 8 .64-6 .65 8 .64-3 .64 0 .64-5 .65 2 .64 2 .64-7 .64-1 .65 12 .64-10 .64 1 .64 6 .65 7 .64-3 .64-4 .64 1 .65 3 .64-4 .64 6 .64-9 .65 1 .64-2 .64 0 .64 3 .65-2 .64-4 .64 9 .64-9 .65 6 .64 2 .64-7 .64 3 .65 7 .64 6 .64-19 .64 0 .65 4 .64 2 .64 7 .64-11 .65 1 .64-2 .64 3 .64 4 .65-3 .64-1 .64 8 .64-2 .65 4 .64-12 .64 5 .64 6 .65-2 .64-2 .64 7 .64-10 .65 5 .64-10 .64 9 .64-4 .65 0 .64 4 .64-11 .64 4 .65 6 .64-1 .64-1 .64 6 .65-2 .64-2 .64 0 .64-1 .65 6 .64 2 .64-12 .64 0 .65 18 .64-13 .64 4 .64-5 .65-10 .64-1 .64 9 .64 3 .65-2 .64 4 .64-1 .64-4 .65 9 .64 1 .64-7 .64-7 .65-3 .64 14 .64-8 .64 2 .65 14 .64-10 .64-7 .64 7 .65-5 .64 1 .64 5 .64 0 .65-1 .64-2 .64-2 .64-7 .65 9 .64-4 .64-3 .64 5 .65 8 .64-11 .64 7 .64-4 .65-4 .64 2 .64 2 .64 5 .65 2 .64-5 .64-5 .64 13 .65-4 .64 4 .64-4 .64-6 .65-13 .64 15 .64 3 .64-6 .65 6 .64-3 .64-8 .64 3 .65 0 .64-2 .64 10 .64-11 .65 9 .64 6 .64-15 .64 9 .65 6 .64-15 .64-2 .64 11 .65-4 .64 2 .64 0 .64-8 .65 3 .64 7 .64-11 .64 1 .65 2 .64 13 .64-15 .64-1 .65 10 .64 1 .64-3 .64-3 .65 1 .64 2 .64 2 .64-10 .65 5 .64-4 .64 2 .64 1 .65-3 .64 4 .64-1 .64 10 .65-11 .64-1 .64-1 .64 8 .65-7 .64 1 .64 4 .64 2 .65-6 .64 11 .64-4 .64 2 .65 2 .64-6 .64 0 .64-3 .65-2 .64 4 .64-4 .64 3 .65-5 .64 5 .64-8 .64 5 .65-3 .64 1 .64-5 .64 13 .65-13 .64 14 .64-7 .64-7 .65 6 .64 15 .64-22 .64 6 .65-7 .64 16 .64-1 .64-7 .65 2 .64-5 .64 6 .64 6 .65-16 .64 7 .64 1 .64-3 .65 2 .64 3 .64-9 .64-1 .65 6 .64-5 .64 11 .64-1 .65 4 .64-2 .64-8 .64 3 .65-4 .64 9 .64-3 .64 3 .65-5 .64-6 .64 5 .64 2 .65-5 .64 9 .64-6 .64 0 .65 5 .64 2 .64 0 .64 1 .65-10 .64 8 .64-9 .64 5 .65-4 .64 1 .64 4 .64-5 .65 3 .64 7 .64-7 .64-4 .65-7 .64 1 .64-2 .64-8 .65-9 .64-5 .64-3 .64-17 .65-17 .64-15 .64-29 .64-31 .65-33 .64-33 .64-35 .64-25 .65-11 .64 3 .64 13 .64 23 .65 31 .64 31 .64 29 .64 27 .65 25 .64 19 .64 17 .64 10 .65 15 .64 11 .64 4 .64 5 .65 8 .64 3 .64 8 .64-7 .65 8 .64 0 .64 3 .64-2 .65 5 .64-10 .64 4 .64 10 .65 2 .64-3 .64-8 .64 1 .65 9 .64 2 .64 0 .64-4 .65 0 .64 2 .64-6 .64 7 .65-3 .64 8 .64-16 .64 4 .65 6 .64-4 .64 1 .64 1 .65 6 .64-7 .64 2 .64 5 .65-2 .64 0 .64-4 .64 2 .65-3 .64 3 .64 2 .64 1 .65 1 .64-7 .64 7 .64-2 .65 4 .64-11 .64 3 .64 6 .65 0 .64-4 .64 1 .64-6 .65 11 .64-3 .64-2 .64-3 .65 7 .64-4 .64 3 .64 2 .65 3 .64-11 .64 13 .64-11 .65 4 .64-5 .64 3 .64-5 .65 2 .64 1 .64 2 .64 0 .65-4 .64-1 .64-4 .64 14 .65-9 .64 7 .64-7 .64-2 .65 8 .64 4 .64-4 .64 4 .65-1 .64-12 .64 2 .64 9 .65-2 .64 0 .64-8 .64-2 .65 9 .64 3 .64-3 .64-7 .65 5 .64 3 .64 7 .64-10 .65 6 .64-5 .64 7 .64-7 .65-2 .64 7 .64-4 .64 3 .65-3 .64 2 .64-1 .64-5 .65 0 .64 5 .64-3 .64 0 .65 5 .64-4 .64 1 .64-2 .65 6 .64-7 .64 5 .64-3 .65 2 .64-1 .64-2 .64 7 .65-4 .64 1 .64 8 .64-9 .65 12 .64-15 .64-2 .64 5 .65 6 .64 1 .64-6 .64-3 .65-2 .64 8 .64-4 .64-3 .65 16 .64-10 .64-5 .64 14 .65-20 .64 13 .64-4 .64-1 .65 10 .64-13 .64 7 .64-4 .65 2 .64-4 .64-6 .64 6 .65 0 .64 5 .64-8 .64 10 .65 3 .64-11 .64 0 .64 1 .65 10 .64-2 .64-9 .64 0 .65 11 .64-10 .64 3 .64-2 .65-3 .64 4 .64 5 .64 4 .65-7 .64 2 .64 2 .64-4 .65-5 .64 4 .64 0 .64-9 .65 14 .64 0 .64-6 .64 5 .65-3 .64 2 .64 1 .64 1 .65-6 .64-3 .64 1 .64 3 .65 2 .64 0 .64-4 .64 0 .65 4 .64-4 .64 6 .64-3 .65-4 .64 7 .64-9 .64 11 .65 4 .64-8 .64 4 .64-6 .65-5 .64 5 .64 1 .64 1 .65-1 .64 7 .64-5 .64 3 .65 0 .64-2 .64-1 .64-1 .65 3 .64 1 .64-8 .64-2 .65 7 .64-6 .64 2 .64 10 .65-11 .64 2 .64 6 .64-9 .65 5 .64 1 .64 2 .64-4 .65 1 .64 5 .64-3 .64 1 .65-1 .64-2 .64-4 .64 5 .65-3 .64 5 .64-2 .64-3 .65 1 .64 5 .64-1 .64-3 .65-5 .64 5 .64 6 .64-5 .65 1 .64-3 .64 2 .64 5 .65-2 .64 7 .64-10 .64 3 .65 0 .64-5 .64-2 .64 10 .65-3 .64-2 .64-2 .64 2 .65 2 .64 2 .64-1 .64-4 .65 2 .64 4 .64-6 .64 3 .65 3 .64-6 .64 5 .64-8 .65 2 .64-6 .64 7 .64 2 .65-8 .64 8 .64-4 .64-4 .65 4 .64-4 .64-1 .64 9 .65-12 .64 6 .64-1 .64 0 .65-2 .64 6 .64-3 .64-4 .65 3 .64-7 .64 4 .64-8 .65 7 .64-4 .64-6 .64-2 .65 7 .64-3 .64-2 .64-5 .65-10 .64 4 .64 1 .64-17 .65 4 .64-12 .64-5 .64-6 .65-13 .64-11 .64-7 .64-9 .65-7 .64-9 .64-4 .64 2 .65 5 .64 3 .64 6 .64 2 .65 14 .64 7 .64 10 .64 6 .65 9 .64 8 .64 6 .64 9 .65 0 .64 1 .64 11 .64 3 .65-1 .64 3 .64 8 .64 1 .65 1 .64 8 .64-3 .64-6 .65-7 .64 13 .64 4 .64-2 .65 0 .64 1 .64-4 .64-3 .65 6 .64-5 .64 7 .64-1 .65 4 .64-6 .64 5 .64-7 .65 12 .64-6 .64 1 .64 4 .65-6 .64 2 .64-2 .64-5 .65 6 .64 8 .64-3 .64-8 .65 9 .64-6 .64 2 .64-3 .65 8 .64-1 .64 1 .64-14 .65 9 .64-2 .64-7 .64 12 .65-4 .64-1 .64 1 .64-3 .65 4 .64-5 .64 6 .64 1 .65-2 .64-7 .64 11 .64-12 .65 9 .64 1 .64 2 .64-3 .65-3 .64 2 .64-3 .64 0 .65 8 .64 1 .64 1 .64-10 .65 10 .64-7 .64 0 .64 2 .65-5 .64 7 .64 0 .64-9 .65 6 .64-13 .64 14 .64 5 .65-2 .64-6 .64 3 .64-2 .65-1 .64 7 .64-6 .64 3 .65 2 .64-5 .64-1 .64 11 .65-11 .64-1 .64 1 .64-1 .65-4 .64 6 .64 5 .64 0 .65-3 .64-2 .64-4 .64 9 .65-4 .64 5 .64-1 .64-4 .65-1 .64 1 .64-6 .64-1 .65 4 .64 5 .64 8 .64-14 .65 8 .64-4 .64-9 .64 11 .65-3 .64 9 .64-6 .64 1 .65-2 .64-3 .64 8 .64-6 .65-1 .64 1 .64 1 .64 3 .65-2 .64-3 .64 5 .64 3 .65-4 .64 0 .64 0 .64-4 .65 6 .64 2 .64-13 .64 2 .65 2 .64 7 .64-6 .64 2 .65 2 .64-5 .64 0 .64 3 .65-10 .64 15 .64-7 .64 0 .65-6 .64 9 .64 7 .64-12 .65 13 .64-14 .64 4 .64 0 .65 5 .64 3 .64-10 .64 8 .65-3 .64-3 .64 6 .64-5 .65 0 .64-7 .64 5 .64 6 .65 2 .64-7 .64 6 .64 0 .65-2 .64-3 .64-2 .64 1 .65 6 .64-3 .64 0 .64-2 .65-2 .64 0 .64 2 .64-3 .65 5 .64-1 .64 1 .64 1 .65 2 .64-5 .64 3 .64-3 .65-2 .64-3 .64 0 .64 4 .65 3 .64-3 .64-2 .64 9 .65-8 .64 0 .64 1 .64 0 .65-2 .64 7 .64-7 .64-4 .65 12 .64-5 .64 0 .64-1 .65-3 .64 7 .64-2 .64 5 .65-13 .64 4 .64 7 .64-3 .65 2 .64 0 .64-3 .64-5 .65 6 .64 2 .64-6 .64 9 .65-1 .64-1 .64-5 .64 1 .65 3 .64-10 .64 9 .64 3 .65-14 .64 6 .64 6 .64-2 .65-1 .64 0 .64 0 .64 2 .65 2 .64-1 .64 2 .64-5 .65-5 .64 5 .64-2 .64 5 .65-5 .64 5 .64-7 .64 8 .65-1 .64-1 .64-2 .64-2 .65 7 .64-7 .64 15 .64-18 .65 7 .64-5 .64-1 .64 1 .65 5 .64-7 .64 4 .64-1 .65 11 .64-6 .64 0 .64 0 .65 2 .64-10 .64-3 .64 10 .65 4 .64-9 .64 10 .64-10 .65 8 .64-4 .64-4 .64-1 .65 3 .64-5 .64 13 .64-6 .65 3 .64-2 .64 8 .64-5 .65-6 .64 3 .64 1 .64-1 .65 5 .64-9 .64-1 .64-4 .65 10 .64-3 .64 1 .64-4 .65 8 .64-7 .64 3 .64 0 .65-3 .64 2 .64 5 .64-1 .65 0 .64-2 .64-4 .64 3 .65 1 .64 1 .64-3 .64 5 .65-6 .64 1 .64 0 .64-2 .65 13 .64-10 .64 4 .64-2 .65 3 .64-3 .64-10 .64 10 .65-5 .64 9 .64-5 .64-1 .65 0 .64-4 .64 0 .64 4 .65 0 .64-4 .64 5 .64 2 .65-6 .64 3 .64-7 .64 11 .65 1 .64-7 .64 7 .64-2 .65-3 .64 2 .64 3 .64-1 .65-3 .64-7 .64 4 .64-1 .65 3 .64 0 .64-3 .64 7 .65-2 .64-3 .64-2 .64 3 .65 3 .64-5 .64 9 .64-8 .65-2 .64 0 .64 1 .64 8 .65-5 .64 4 .64-1 .64-8 .65 8 .64-1 .64-5 .64 7 .65-7 .64 6 .64-3 .64-1 .65 0 .64 6 .64-10 .64 6 .65 7 .64 0 .64-10 .64 4 .65-4 .64 0 .64 4 .64-2 .65-2 .64 4 .64-4 .64 5 .65-4 .64-7 .64 9 .64 5 .65-6 .64 3 .64 1 .64-2 .65-5 .64 3 .64-4 .64 4 .65 1 .64 1 .64-2 .64 3 .65-1 .64-1 .64 1 .64 0 .65-2 .64 4 .64-1 .64-2 .65-1 .64 4 .64-6 .64 3 .65 0 .64-13 .64 11 .64-2 .65 1 .64 0 .64 1 .64-3 .65 2 .64-1 .64 2 .64-2 .65 5 .64 4 .64 2 .64-9 .65-2 .64-2 .64 5 .64-1 .65-9 .64 14 .64-2 .64-6 .65 9 .64-1"/>
<path stroke="#FF0000" d="M403.75 1319l.64-15 .65 14 .64 14 .64-22 .64 16 .64-7 .65 17 .64-13 .64 0 .64 18 .65-2 .64-9 .64-10 .64 4 .65 15 .64 2 .64-11 .64 19 .65-4 .64-6 .64 4 .64 3 .65-4 .64 9 .64-4 .64 1 .65 7 .64-2 .64-11 .64 10 .65-6 .64 9 .64 2 .64-10 .65 15 .64 6 .64-7 .64-9 .65 7 .64 4 .64 2 .64 1 .65-7 .64 2 .64 8 .64 14 .65-15 .64-1 .64 4 .64 7 .65-9 .64-15 .64 13 .64-1 .65-1 .64-2 .64 3 .64 21 .65-10 .64-2 .64-8 .64 5 .65 5 .64-2 .64 0 .64 11 .65-1 .64-4 .64-11 .64 10 .65-6 .64 2 .64 4 .64 3 .65 4 .64-17 .64 17 .64-7 .65 4 .64-4 .64 13 .64-8 .65 5 .64-8 .64 9 .64-4 .65-5 .64 3 .64-2 .64-1 .65 11 .64-5 .64-4 .64-6 .65 14 .64-6 .64-1 .64-3 .65 12 .64-1 .64-8 .64-1 .65 1 .64 1 .64 1 .64-7 .65 4 .64 3 .64 6 .64-3 .65-2 .64-5 .64 6 .64 3 .65 0 .64 2 .64-8 .64-1 .65 8 .64-7 .64 5 .64-3 .65-7 .64 7 .64-1 .64-1 .65-1 .64-4 .64 3 .64 0 .65 8 .64-7 .64 2 .64 8 .65-19 .64 15 .64-5 .64-3 .65-4 .64 11 .64-4 .64-4 .65-4 .64 11 .64 3 .64-13 .65 4 .64 2 .64 3 .64-7 .65 13 .64-12 .64-1 .64-3 .65-2 .64 9 .64-3 .64-5 .65-1 .64 10 .64 1 .64-4 .65-2 .64-5 .64 8 .64 1 .65-6 .64-3 .64 10 .64-14 .65 6 .64 8 .64-11 .64-3 .65-11 .64 6 .64 4 .64 11 .65-19 .64 20 .64-14 .64-2 .65 4 .64-11 .64 10 .64 6 .65-22 .64 5 .64-2 .64 7 .65 0 .64 9 .64-18 .64 13 .65-11 .64 5 .64-4 .64 4 .65-9 .64 10 .64-2 .64-15 .65 7 .64 3 .64-9 .64-1 .65 3 .64 5 .64 1 .64-9 .65 8 .64-16 .64 26 .64-17 .65 11 .64-12 .64 0 .64 5 .65-1 .64-13 .64 6 .64 2 .65-2 .64-1 .64-1 .64 0 .65 5 .64-4 .64-1 .64-4 .65 14 .64-9 .64 12 .64-11 .65-4 .64 6 .64 0 .64 1 .65 2 .64 0 .64 9 .64-12 .65 0 .64 0 .64 15 .64-8 .65 3 .64 8 .64-7 .64-8 .65 11 .64 5 .64 7 .64-3 .65-8 .64 2 .64 0 .64-2 .65 12 .64-9 .64 0 .64-4 .65-1 .64 8 .64 6 .64-8 .65 4 .64-4 .64 3 .64 2 .65 11 .64 8 .64-5 .64-4 .65-4 .64 10 .64-10 .64-1 .65 14 .64-12 .64 13 .64-5 .65 5 .64-12 .64 11 .64 0 .65 1 .64-10 .64 6 .64-6 .65 15 .64-7 .64 0 .64 6 .65-7 .64 3 .64-2 .64 5 .65-14 .64 17 .64-5 .64-5 .65 11 .64 5 .64-14 .64 4 .65 1 .64 3 .64-10 .64 7 .65-3 .64 5 .64-6 .64 3 .65 0 .64 0 .64 3 .64 1 .65-7 .64 4 .64 1 .64 5 .65 3 .64-8 .64 3 .64 5 .65-4 .64-5 .64 0 .64-4 .65 13 .64-6 .64-4 .64 0 .65 7 .64-1 .64-1 .64 0 .65-8 .64 0 .64 4 .64-4 .65 3 .64-3 .64 0 .64 5 .65-9 .64 0 .64 10 .64-15 .65 7 .64-2 .64-4 .64 9 .65-13 .64-9 .64 12 .64 0 .65-21 .64 2 .64-10 .64-10 .65-10 .64-15 .64-11 .64-14 .65-1 .64 9 .64 8 .64 13 .65 13 .64 3 .64 8 .64 9 .65 12 .64 1 .64-3 .64 6 .65 3 .64 0 .64 2 .64 8 .65-7 .64 2 .64-4 .64 13 .65-7 .64-3 .64 2 .64 4 .65-9 .64 11 .64-13 .64-1 .65 3 .64-4 .64 11 .64-4 .65 3 .64 6 .64-13 .64 10 .65-7 .64 7 .64 2 .64-7 .65 5 .64-6 .64 10 .64-12 .65 5 .64-9 .64 4 .64 6 .65 1 .64 0 .64 12 .64-11 .65-10 .64 6 .64 4 .64-8 .65-2 .64 13 .64-6 .64-11 .65 9 .64 3 .64 1 .64 0 .65 0 .64-5 .64 2 .64 3 .65-3 .64 8 .64-11 .64 5 .65 2 .64 0 .64-1 .64-3 .65 0 .64-5 .64 5 .64 5 .65 6 .64-14 .64-2 .64 21 .65-19 .64 15 .64-3 .64 1 .65-7 .64 3 .64 1 .64-6 .65 12 .64-17 .64 8 .64-3 .65 5 .64 5 .64-8 .64 7 .65-10 .64 16 .64-9 .64 7 .65-5 .64 0 .64 2 .64-1 .65 4 .64 5 .64-16 .64-1 .65 14 .64-14 .64 17 .64-2 .65 1 .64 0 .64-7 .64 3 .65-2 .64 7 .64 8 .64-11 .65-3 .64 3 .64-12 .64 11 .65 6 .64-5 .64 1 .64 4 .65-1 .64-2 .64-2 .64 6 .65-9 .64 2 .64 5 .64 0 .65 2 .64-11 .64 1 .64 6 .65-8 .64 11 .64-1 .64 1 .65-7 .64 4 .64-3 .64-5 .65 4 .64 7 .64-4 .64-2 .65 2 .64 7 .64-8 .64 2 .65 2 .64-11 .64 6 .64 1 .65 5 .64-4 .64 1 .64-5 .65-1 .64 12 .64-5 .64 6 .65-11 .64 5 .64 4 .64-6 .65 2 .64-7 .64-3 .64 5 .65-3 .64 2 .64 6 .64-1 .65 6 .64 1 .64-1 .64-3 .65-2 .64 4 .64-9 .64 2 .65 9 .64-6 .64 5 .64-1 .65-1 .64 2 .64-3 .64-4 .65 2 .64 5 .64-8 .64 11 .65-7 .64 2 .64 2 .64 1 .65-9 .64 4 .64-5 .64 6 .65 0 .64 0 .64-2 .64-2 .65 1 .64-9 .64 10 .64 0 .65 2 .64 1 .64-4 .64 1 .65-1 .64 3 .64-4 .64 8 .65-2 .64-10 .64 1 .64-2 .65 4 .64-2 .64 3 .64 0 .65-2 .64-3 .64 1 .64 9 .65-8 .64 3 .64-3 .64 9 .65-10 .64-2 .64 0 .64 5 .65-7 .64-5 .64 16 .64 2 .65 0 .64-11 .64 6 .64 0 .65 1 .64-5 .64-1 .64 3 .65-5 .64-3 .64 8 .64 7 .65-13 .64 1 .64-8 .64 15 .65-2 .64-10 .64 3 .64-8 .65 12 .64-5 .64 6 .64-4 .65 1 .64-6 .64 1 .64 10 .65-15 .64-2 .64 15 .64-9 .65 4 .64-2 .64 0 .64-10 .65 4 .64 1 .64-2 .64 4 .65-2 .64-9 .64 15 .64-15 .65 12 .64-6 .64 4 .64 4 .65-12 .64 4 .64 0 .64-9 .65-1 .64 10 .64 1 .64-6 .65-12 .64 13 .64 5 .64-9 .65-2 .64-1 .64 0 .64-11 .65 5 .64-1 .64-2 .64 2 .65 8 .64-6 .64-2 .64-8 .65 8 .64-3 .64-4 .64 4 .65-4 .64 2 .64-14 .64 5 .65 8 .64 4 .64-10 .64-3 .65-1 .64 1 .64 9 .64-12 .65-8 .64 0 .64 3 .64 8 .65-12 .64-6 .64 10 .64-7 .65-4 .64 16 .64-5 .64 11 .65-6 .64-7 .64-8 .64 3 .65-10 .64 10 .64 0 .64-9 .65-1 .64-6 .64 7 .64-1 .65 15 .64-19 .64 18 .64-21 .65 0 .64-1 .64 4 .64-13 .65 18 .64-2 .64-11 .64 2 .65 10 .64-11 .64 5 .64-7 .65 1 .64-8 .64 5 .64 5 .65-4 .64-14 .64 19 .64-14 .65-9 .64 12 .64 0 .64 11 .65-8 .64-8 .64-4 .64 3 .65 0 .64-1 .64-1 .64-2 .65 5 .64-12 .64 0 .64 5 .65 6 .64-12 .64 0 .64-1 .65 7 .64 0 .64-2 .64-21 .65 10 .64 7 .64-4 .64-8 .65 16 .64-23 .64 17 .64-13 .65 14 .64-11 .64 4 .64-17 .65 0 .64 6 .64 11 .64-16 .65 3 .64-4 .64-6 .64 6 .65 8 .64-19 .64 9 .64-12 .65-4 .64 8 .64 0 .64 3 .65-15 .64 11 .64 3 .64-15 .65 0 .64-17 .64 10 .64 2 .65-3 .64-11 .64 11 .64-6 .65-12 .64-2 .64 2 .64-2 .65 9 .64-7 .64 4 .64-20 .65 18 .64-27 .64 13 .64-4 .65 4 .64-13 .64-3 .64 10 .65-10 .64 9 .64-12 .64 8 .65-8 .64 1 .64 35 .64-24 .65-5 .64 7 .64-9 .64 9 .65 2 .64-16 .64 8 .64 0 .65-7 .64 1 .64-3 .64 22 .65-22 .64 29 .64 5 .64-12 .65 10 .64-17 .64-8 .64 16 .65 8 .64-24 .64 16 .64-5 .65 29 .64-27 .64 16 .64 1 .65 15 .64-13 .64-6 .64 20 .65-15 .64-5 .64-14 .64 37 .65-8 .64-14 .64 13 .64 3 .65-8 .64 25 .64-23 .64-1 .65-5 .64 11 .64 4 .64-16 .65 6 .64-8 .64 27 .64-1 .65-17 .64 0 .64 16 .64-9 .65 6 .64 18 .64-19 .64 0 .65-8 .64 9 .64-9 .64 15 .65-12 .64 16 .64 2 .64-5 .65 14 .64-31 .64 12 .64-12 .65 10 .64-8 .64 5 .64-4 .65 0 .64 24 .64-16 .64-2 .65 13 .64-2 .64-5 .64 3 .65 9 .64-6 .64-8 .64 5 .65-6 .64 10 .64-12 .64 1 .65 13 .64-22 .64 8 .64-6 .65 23 .64-14 .64-7 .64-1 .65-6 .64 8 .64-5 .64 10 .65-7 .64 1 .64 10 .64-16 .65 20 .64-8 .64-6 .64 4 .65-5 .64-3 .64 5 .64 10 .65-8 .64 6 .64-12 .64-6 .65 6 .64 11 .64-17 .64 0 .65 14 .64 2 .64-10 .64-4 .65 13 .64 5 .64-8 .64-14 .65-4 .64 5 .64 1 .64-2 .65 8 .64-11 .64 5 .64 0 .65 7 .64-8 .64-9 .64 8 .65 19 .64-19 .64 8 .64 22 .65-5 .64 10 .64-36 .64 23 .65-2 .64-3 .64-13 .64 16 .65-15 .64 27 .64-28 .64 8 .65 6 .64 4 .64 8 .64-21 .65 12 .64 10 .64-14 .64 9 .65-6 .64 14 .64-4 .64-5 .65 4 .64-1 .64 17 .64-5 .65-9 .64 1 .64 11 .64 1 .65 0 .64 0 .64-6 .64 25 .65-5 .64-14 .64-3 .64 12 .65 2 .64 0 .64 6 .64 0 .65 2 .64-13 .64-3 .64 17 .65 7 .64-10 .64 10 .64-15 .65 18 .64-4 .64-6 .64-4 .65 22 .64-1 .64-10 .64 15 .65-14 .64 13 .64-16 .64 8 .65 1 .64 11 .64-3 .64 0 .65 4 .64 11 .64-5 .64 8 .65 7 .64-11 .64-5 .64 0 .65 6 .64-4 .64 4 .64-4 .65 8 .64 2 .64 1 .64 6 .65 0 .64-8 .64 2 .64 7 .65 10 .64-3 .64-9 .64-1 .65 15 .64 10 .64-17 .64-11 .65 3 .64 13 .64 1 .64-7 .65 6 .64-4 .64 5 .64 4 .65 11 .64-3 .64-4 .64 10 .65-9 .64-3 .64 10 .64-3 .65 4 .64-9 .64 1 .64 3 .65-5 .64-2 .64 15 .64-14 .65 12 .64 2 .64-2 .64 4 .65-15 .64 9 .64-3 .64 4 .65 7 .64-6 .64 1 .64 5 .65 3 .64-6 .64-6 .64 11 .65 14 .64-7 .64-3 .64-12 .65-5 .64 16 .64 1 .64-2 .65-6 .64 15 .64-3 .64-12 .65 6 .64-2 .64 0 .64-3 .65 14 .64-1 .64-8 .64 9 .65-12 .64 9 .64 0 .64 5 .65-2 .64-8 .64 8 .64 2 .65-2 .64 0 .64-6 .64 4 .65 4 .64-10 .64 9 .64 10 .65-11 .64 1 .64 0 .64-4 .65 14 .64-3 .64-16 .64 11 .65 8 .64-14 .64 14 .64 1 .65-5 .64-7 .64 14 .64-6 .65-15 .64 7 .64 6 .64 9 .65-16 .64 3 .64 0 .64 12 .65-13 .64 7 .64 1 .64 10 .65-9 .64-8 .64 9 .64 0 .65 1 .64-3 .64 6 .64-2 .65-5 .64 2 .64 4 .64-14 .65 7 .64-4 .64 12 .64-3 .65-6 .64 4 .64-2 .64-3 .65 12 .64-19 .64 13 .64-3 .65 9 .64 1 .64-9 .64 3 .65-7 .64 8 .64 1 .64-9 .65 9 .64 2 .64-1 .64-3 .65-1 .64 5 .64-11 .64 16 .65 6 .64-14 .64-7 .64 8 .65-3 .64 0 .64 3 .64-5 .65 2 .64 6 .64-3 .64-7 .65-2 .64 10 .64 0 .64-8 .65 0 .64 6 .64 0 .64-1 .65 5 .64-12 .64 5 .64 6 .65-1 .64-10 .64 0 .64 9 .65 0 .64 2 .64-4 .64 0 .65 0 .64 0 .64-3 .64 9 .65-4 .64-5 .64-5 .64 4 .65 1 .64-5 .64 8 .64-2 .65-9 .64 3 .64-1 .64 4 .65 1 .64-7 .64 4 .64-6 .65 3 .64-8 .64 4 .64-1 .65-3 .64-3 .64 5 .64-6 .65 1 .64-9 .64 1 .64-9 .65-5 .64-4 .64-14 .64-1 .65-14 .64-14 .64-9 .64-16 .65-13 .64-14 .64-13 .64-11 .65-13 .64-2 .64-8 .64 1 .65 8 .64 9 .64 9 .64 19 .65 11 .64 14 .64 18 .64 11 .65 13 .64 7 .64 12 .64 10 .65 2 .64 11 .64 3 .64 10 .65-5 .64 3 .64 8 .64 4 .65-5 .64 11 .64-8 .64 8 .65 0 .64 2 .64 3 .64-6 .65-4 .64 21 .64-11 .64 9 .65-2 .64-6 .64-2 .64 1 .65 8 .64-3 .64 3 .64-2 .65-2 .64 1 .64 5 .64-5 .65 1 .64-5 .64 2 .64 4 .65 3 .64-4 .64-4 .64 7 .65-3 .64 2 .64 10 .64-5 .65-3 .64-4 .64 7 .64-8 .65 6 .64 3 .64-1 .64 4 .65-6 .64 1 .64 2 .64 9 .65-6 .64-2 .64-2 .64 1 .65 7 .64-2 .64-4 .64-4 .65 5 .64 2 .64-3 .64 5 .65-5 .64-1 .64 6 .64-8 .65-1 .64-3 .64 18 .64-4 .65-9 .64 5 .64-2 .64-3 .65 9 .64-8 .64 1 .64 3 .65 4 .64 0 .64-2 .64 0 .65-6 .64 1 .64 0 .64 8 .65-5 .64 1 .64 5 .64-13 .65 4 .64 2 .64 3 .64 0 .65-8 .64 2 .64 6 .64-6 .65 9 .64 1 .64-9 .64-2 .65 5 .64 0 .64 2 .64-3 .65 2 .64 6 .64 3 .64-7 .65 4 .64 5 .64-16 .64 13 .65-8 .64-2 .64 4 .64-1 .65 5 .64 2 .64-8 .64 7 .65-10 .64 5 .64-5 .64 6 .65-6 .64 5 .64 2 .64-3 .65-2 .64-7 .64 5 .64 6 .65 1 .64-4 .64 3 .64-13 .65 8 .64-2 .64 6 .64 0 .65-9 .64 12 .64-2 .64-2 .65 3 .64-15 .64 9 .64 2 .65-6 .64 4 .64-7 .64 8 .65 1 .64 0 .64-2 .64-4 .65-3 .64 2 .64-3 .64 10 .65 1 .64-13 .64 7 .64-7 .65 3 .64 4 .64 5 .64-3 .65 6 .64-6 .64 0 .64-13 .65 13 .64-5 .64 4 .64-2 .65 6 .64-7 .64 1 .64 0 .65 4 .64-4 .64 8 .64-5 .65-2 .64-3 .64-2 .64 2 .65 11 .64-8 .64 0 .64-8 .65 3 .64 6 .64-9 .64 11 .65-5 .64-1 .64-7 .64 5 .65 0 .64 6 .64 4 .64-18 .65 7 .64-2 .64 9 .64-8 .65-2 .64 9 .64-1 .64-3 .65 1 .64-1 .64-4 .64 10 .65-10 .64-2 .64 3 .64-3 .65 2 .64 6 .64-10 .64 4 .65-4 .64 6 .64 8 .64-6 .65 1 .64 2 .64-11 .64 1 .65 8 .64 2 .64-4 .64 1 .65-13 .64 18 .64-10 .64 0 .65 12 .64-9 .64-10 .64 8 .65-2 .64-2 .64 13 .64-11 .65 8 .64-10 .64 5 .64 0 .65 6 .64-7 .64-7 .64 9 .65 1 .64 4 .64-6 .64 0 .65-4 .64 3 .64 2 .64 7 .65-18 .64 5 .64 11 .64-7 .65-2 .64 9 .64-1 .64-2 .65-4 .64 8 .64-1 .64 3 .65-4 .64 5 .64-12 .64 4 .65 1 .64-4 .64 6 .64-5 .65 6 .64 0 .64-2 .64-1 .65 0 .64-2 .64 7 .64-6 .65 4 .64-3 .64-1 .64 3 .65 2 .64-3 .64 2 .64 4 .65-12 .64 8 .64-5 .64 0 .65 1 .64 10 .64-5 .64-4 .65 4 .64-2 .64 4 .64-9 .65 13 .64-4 .64 4 .64-8 .65 8 .64-7 .64 8 .64-10 .65 5 .64-1 .64 5 .64-5 .65-8 .64 4 .64 10 .64 1 .65-9 .64-2 .64 5 .64 0 .65 4 .64 6 .64-5 .64-2 .65-5 .64 6 .64-1 .64-6 .65 11 .64-8 .64 6 .64 1 .65-6 .64 5 .64-7 .64 12 .65-15 .64 3 .64-2 .64-5 .65 6 .64 0 .64 10 .64-13 .65 13 .64 2 .64-3 .64-4 .65 0 .64 6 .64-14 .64 11 .65 1 .64-4 .64 5 .64-2 .65 2 .64 6 .64-1 .64-7 .65 5 .64-11 .64 2 .64 0 .65 3 .64-3 .64 6 .64-4 .65 5 .64-3 .64-1 .64-2 .65-1 .64 4 .64 7 .64-5 .65-1 .64-3 .64 7 .64-8 .65 5 .64-3 .64-1 .64-2 .65 7 .64-5 .64 2 .64 1 .65 0 .64-2 .64 3 .64-4 .65 7 .64-5 .64 0 .64 6 .65-6 .64-3 .64 3 .64-2 .65 7 .64-1 .64 1 .64-9 .65 1 .64 5 .64 6 .64-5 .65 3 .64-6 .64 8 .64-9 .65 9 .64-7 .64 6 .64-3 .65-7 .64 13 .64-4 .64-2 .65-3 .64 2 .64-8 .64 15 .65-8 .64 4 .64 6 .64-12 .65 0 .64-2 .64 9 .64-6 .65 2 .64-1 .64 1 .64 4 .65-2 .64-4 .64-5 .64 3 .65 4 .64-1 .64-2 .64 4 .65 1 .64 2 .64-4 .64-4 .65 5 .64 2 .64 0 .64 0 .65-1 .64 0 .64 0 .64 4 .65-2 .64-2 .64-5 .64 4 .65-1 .64-4 .64 6 .64 2 .65-6 .64 3 .64 2 .64 4 .65-5 .64 3 .64-4 .64-4 .65 13 .64-14 .64 8 .64-11 .65 3 .64 7 .64-5 .64 5 .65 1 .64-4 .64-4 .64 9 .65-3 .64-3 .64 5 .64-6 .65 5 .64 1 .64-14 .64 22 .65-16 .64 9 .64-7 .64 2 .65 5 .64-4 .64 8 .64-6 .65-3 .64 2 .64-2 .64-3 .65 8 .64-6 .64 11 .64-4 .65-6 .64 10 .64-5 .64 1 .65-2 .64-4 .64 4 .64-2 .65 3 .64 4 .64-5 .64 0 .65 3 .64-9 .64-1 .64 8 .65 0 .64-3 .64 3 .64-9 .65 8 .64 0 .64-1 .64 7 .65-6 .64-5 .64 3 .64 4 .65-5 .64 1 .64-6 .64 4 .65 8 .64-4 .64 3 .64-9 .65 7 .64 1 .64-1 .64 3 .65-11 .64 11 .64-8 .64 8 .65 1 .64-12 .64 6 .64 3 .65-5 .64 2 .64 1 .64-1 .65-3 .64 3 .64 4 .64-4 .65 5 .64-3 .64-6 .64 13 .65-4 .64-1 .64-5 .64 1 .65 12 .64-13 .64 3 .64 2 .65-3 .64 3 .64-4 .64-2 .65 10 .64-8 .64 1 .64 4 .65-1 .64 4 .64-9 .64 4 .65-1 .64 5 .64-9 .64 7 .65-8 .64 8 .64-1 .64-9 .65 10 .64-7 .64 8 .64-3 .65 3 .64-8 .64 6 .64-2 .65 4 .64-3 .64-4 .64-1 .65 7 .64-4 .64 2 .64 0 .65-3 .64-5 .64 12 .64 2 .65-5 .64 1 .64-1 .64 3 .65-6 .64 1 .64 6 .64-7 .65 8 .64-10 .64 2 .64-6 .65 8 .64 4 .64-3 .64-9 .65 9 .64 4 .64 0 .64-9 .65 0 .64 8 .64-3 .64-3 .65 2 .64-2 .64 3 .64-6 .65 7 .64-1 .64-3 .64-2 .65 8 .64 1 .64-6 .64-2 .65 6 .64 5 .64-6 .64 3 .65-2 .64-8 .64 7 .64-1 .65 0 .64 1 .64 3 .64-5 .65 6 .64-2 .64-6 .64 8 .65-2 .64-3 .64 2 .64-2 .65 0 .64 3 .64 3 .64-8 .65-2 .64 3 .64 4 .64-7 .65 5 .64-2 .64 1 .64 2 .65 4 .64-9 .64 0 .64 8 .65-4 .64-1 .64 7 .64-15 .65 5 .64 3 .64 8 .64-5 .65-6 .64 11 .64-11 .64 14 .65-11 .64-1 .64 8 .64-1 .65 1 .64-4 .64 2 .64-3 .65 0 .64-4 .64 3 .64 3 .65-2 .64 7 .64-9 .64 4 .65 1 .64-3 .64 2 .64-1 .65 0 .64-2 .64 4 .64 0 .65-2 .64 3 .64-5 .64-6 .65 7 .64 4 .64-9 .64 11 .65-7 .64 0 .64 1 .64 0 .65 4 .64 0 .64-2 .64 1 .65-2 .64-2 .64 5 .64 2 .65-11 .64 5 .64-1 .64 8 .65-10 .64 6 .64-4 .64-1 .65 4 .64-4 .64 2 .64 1 .65 1 .64 3 .64-1 .64-7 .65 9 .64-5 .64-1 .64-5 .65 5 .64 3 .64-3 .64 7 .65-4 .64-1 .64 2 .64-4 .65-3 .64 4 .64-2 .64 4 .65-1 .64-2 .64 0 .64 3 .65 3 .64-3 .64 5 .64-5 .65 1 .64-3 .64 3 .64-2 .65 1 .64 1 .64-4 .64 1 .65 4 .64 0 .64-1 .64-10 .65 10 .64-2 .64-6 .64 2 .65 9 .64-9 .64 4 .64-4 .65 1 .64 7 .64 0 .64-5 .65 2 .64-1 .64 1 .64 7 .65-4 .64 0 .64 0 .64-2 .65-8 .64 6 .64-1 .64-2 .65 2 .64 3 .64 3 .64-10 .65 2 .64 5 .64-4 .64-2 .65 2 .64 5 .64-2 .64-2 .65 2 .64-5 .64 8 .64-7 .65 3 .64 2 .64-1 .64-1 .65-2 .64 6 .64 3 .64-3 .65-1 .64 2 .64-3 .64 0 .65 0 .64 1 .64 0 .64-5 .65 6 .64-6 .64 3 .64-1 .65-3 .64 6 .64-2 .64 8 .65-3 .64-6 .64 2 .64 2 .65-1 .64-5 .64 7 .64-8 .65 3 .64 2 .64 3 .64-3 .65-3 .64 5 .64 0 .64 4 .65-2 .64-4 .64 0 .64 5 .65-3 .64-1 .64-1 .64 6 .65-4 .64 2 .64 1 .64-3 .65 0 .64-1 .64 2 .64-1 .65 2 .64-3 .64 0 .64 2 .65 1 .64-3 .64 6 .64-5 .65-1 .64 3 .64-2 .64-3 .65 3 .64 5 .64 0 .64 0 .65-6 .64 5 .64-4 .64 4 .65-4 .64-1 .64 0 .64 4 .65-1 .64-1 .64 2 .64 2 .65 1 .64-5 .64 7 .64-8 .65 2 .64 5 .64-2 .64-8 .65 9 .64-8 .64 2 .64-1 .65 5 .64-3 .64-3 .64-1 .65 2 .64 2 .64 0 .64-1 .65 4 .64-3 .64-4 .64 1 .65 3 .64-1 .64-2 .64 7 .65-3 .64-3 .64 1 .64 3 .65-10 .64 8 .64-2 .64 6 .65-2 .64-2 .64-2 .64 1 .65-2 .64 2 .64 1 .64 5 .65-4 .64-3 .64 1 .64 5 .65-8 .64 11 .64-5 .64-6 .65 3 .64 3 .64-2 .64 1 .65-1 .64-3 .64 1 .64 4 .65 2 .64-5 .64 3 .64 1 .65-4 .64 3 .64-2 .64 1 .65 2 .64-7 .64 5 .64 2 .65-4 .64-1 .64 2 .64 6 .65-9 .64 8 .64-5 .64-4 .65 3 .64 2 .64-1 .64 3 .65 1 .64-7 .64 4 .64-3 .65-1 .64 7 .64-6 .64 5 .65-2 .64-5 .64 2 .64 3 .65 1 .64-7 .64 7 .64 0 .65-1 .64 2 .64-3 .64 4 .65 0 .64-7 .64 2 .64-1 .65 4 .64-1 .64-2 .64 1 .65 1 .64 0 .64 4 .64-4 .65-3 .64 2 .64 2 .64-1 .65-1 .64-3 .64 3 .64 7 .65-5 .64 3 .64-5 .64-1 .65 6 .64-3 .64-2 .64 5 .65-4 .64-2 .64 1 .64 1 .65 2 .64-8 .64 11 .64-8 .65 3 .64 1 .64-1 .64 3 .65-2 .64-1 .64-1 .64 1 .65 5 .64 3 .64-11 .64 5 .65 1 .64 0 .64-3 .64 4 .65-4 .64 5 .64-8 .64-1 .65 4 .64 2 .64-2 .64-1 .65 5 .64-2 .64-6 .64 5 .65-1 .64 5 .64-3 .64-1 .65-1 .64-2 .64 3 .64 5 .65-3 .64 0 .64-2 .64 5 .65-4 .64 0 .64-1 .64-1 .65 3 .64-4 .64 0 .64 4 .65-1 .64-1 .64 1 .64-1 .65 4 .64-8 .64 1 .64 3 .65 0 .64 4 .64-8 .64 9 .65-6 .64 3 .64-2 .64 2 .65-1 .64-3 .64 2 .64-1 .65 2 .64-1 .64 3 .64 1 .65-1 .64-1 .64 0 .64 3 .65-4 .64 3 .64-9 .64 6 .65 2 .64-3 .64 1 .64-2 .65 3 .64-1 .64 5 .64-6 .65-4 .64 7 .64-4 .64 4 .65 1 .64-3 .64 2 .64-1 .65-1 .64-4 .64 2 .64-3 .65 8 .64-3 .64-1 .64-4 .65 7 .64-3 .64 1 .64 0 .65-2 .64 1 .64 2 .64-6 .65 5 .64 0 .64 2 .64 1 .65-6 .64 3 .64 5 .64-3 .65-3 .64 2 .64-5 .64 1 .65 7 .64-9 .64 4 .64 2 .65 3 .64-7 .64-2 .64 10 .65-3 .64-1 .64-1 .64 1 .65-3 .64 0 .64-4 .64 8 .65-1 .64-3 .64 1 .64 4 .65-4 .64 2 .64-2 .64 1 .65 0 .64 6 .64-9 .64-3 .65 4 .64-1 .64 8 .64-3 .65-3 .64-3 .64 1 .64 5 .65-2 .64 2 .64-1 .64 3 .65 1 .64-5 .64 2 .64 0 .65-3 .64 1 .64 1 .64-2 .65 0 .64 2 .64-2 .64 2 .65 2 .64-3 .64-5 .64 4 .65 0 .64-4 .64 5 .64-5 .65 4 .64 5 .64-2 .64 0 .65-4 .64 5 .64-3 .64 2 .65-6 .64 3 .64-1 .64 3 .65-2 .64 4 .64 0 .64-3 .65-3 .64 3 .64 0 .64 0 .65-1 .64 4 .64-4 .64 0 .65 1 .64 3 .64-2 .64-1 .65-4 .64 9 .64-2 .64 0 .65-5 .64 3 .64-3 .64 0 .65 2 .64-2 .64 4 .64 1 .65-4 .64 3 .64 4 .64-8 .65 2 .64 4 .64-3 .64-1 .65 0 .64 4 .64-2 .64-6 .65 6 .64-6 .64 6 .64 1 .65-5 .64 5 .64-1 .64 1 .65-2 .64 2 .64 0 .64 1 .65 0 .64-2 .64 1 .64-1 .65-3 .64 3 .64 1 .64-1 .65-3 .64 5 .64-3 .64 3 .65-1 .64-3 .64-1 .64 2 .65 3 .64-3 .64-3 .64 2 .65 0 .64 1 .64-1 .64 0 .65 2 .64 1 .64-3 .64 0 .65 1 .64 1 .64-4 .64 5 .65-3 .64 1 .64 4 .64-4 .65 7 .64-4 .64-2 .64 3 .65-4 .64-1 .64-2 .64 3 .65-1 .64-1 .64-1 .64 0 .65 5 .64 0 .64 3 .64-1 .65-2 .64 2 .64 1 .64-10 .65 0 .64 5 .64 6 .64-7 .65-1 .64 4 .64-3 .64 0 .65 1 .64 2 .64-4 .64 9 .65-6 .64 1 .64 1 .64-4 .65 2 .64-2 .64 3 .64 2 .65-1 .64-4 .64 1 .64 6 .65-3 .64-1 .64 0 .64-7 .65 8 .64-1 .64 0 .64 0 .65-2 .64 2 .64 4 .64-9 .65 5 .64 2 .64-4 .64 2 .65-6 .64 4 .64 5 .64-8 .65-1 .64 4 .64 1 .64 0 .65 3 .64-7 .64-1 .64 8 .65-4 .64 4 .64-5 .64 4 .65-3 .64 1 .64-1 .64 5 .65-6 .64 2 .64 1 .64-2 .65 0 .64 4 .64-8 .64 1 .65-1 .64 3 .64 2 .64 1 .65 1 .64-1 .64-2 .64 0 .65 3 .64 4 .64-2 .64-10 .65 9 .64 3 .64-7 .64 1 .65-1 .64 0 .64 5 .64 1 .65-8 .64 0 .64 4 .64 0 .65-5 .64 3 .64 1 .64 0 .65 2 .64-3 .64 5 .64-1 .65-1 .64-2 .64 4 .64-3 .65 1 .64 2 .64-2 .64 1 .65-6 .64 5 .64-4 .64 0 .65 3 .64-4 .64 4 .64 1 .65-4 .64 6 .64-1 .64 0 .65-2 .64-1 .64-3 .64 5 .65-5 .64 4 .64-2 .64 1 .65 6 .64-3 .64 0 .64 0 .65-5 .64 4 .64-1 .64 0 .65-1 .64 2 .64 1 .64-3 .65 4 .64-5 .64 3 .64-1 .65 4 .64-6 .64 0 .64-2 .65 4 .64 0 .64-3 .64 0 .65-1 .64 0 .64 2 .64 6 .65-5 .64 0 .64-1 .64 2 .65-4 .64 4 .64-3 .64 2 .65 2 .64-2 .64 0 .64 3 .65-3 .64-3 .64 7 .64 1 .65-5 .64-4 .64 8 .64 1 .65-2 .64-2 .64 1 .64-1 .65 5 .64-5 .64-2 .64 1 .65 1 .64-3 .64 0 .64 1 .65 0 .64 2 .64 0 .64 8 .65-8 .64-1"/>
<path stroke="#000000" d="M403.75 1106l.64-24 .65 30 .64-27 .64 29 .64 13 .64-24 .65 27 .64 20 .64 30 .64-22 .65 23 .64-8 .64 26 .64 24 .65-3 .64-26 .64 11 .64 4 .65 19 .64-4 .64 46 .64-15 .65 30 .64-20 .64 7 .64 1 .65 11 .64 6 .64 3 .64-6 .65-1 .64 19 .64 14 .64 0 .65-14 .64 28 .64-11 .64-11 .65 24 .64-12 .64 34 .64-8 .65-8 .64 7 .64 9 .64-1 .65-1 .64 35 .64-24 .64 1 .65-14 .64 31 .64 1 .64 5 .65-16 .64 30 .64-26 .64 1 .65 13 .64 1 .64 13 .64 23 .65-24 .64 16 .64-7 .64-13 .65-10 .64 17 .64-10 .64 6 .65 14 .64-7 .64 17 .64-30 .65 10 .64 44 .64-17 .64-5 .65 6 .64-20 .64 3 .64 23 .65-29 .64 29 .64-27 .64 37 .65-6 .64-6 .64 7 .64 1 .65-11 .64-3 .64 12 .64 9 .65-13 .64 13 .64 18 .64-18 .65 1 .64-12 .64 31 .64-15 .65-1 .64-7 .64 23 .64-9 .65 4 .64-5 .64-8 .64 14 .65 3 .64-10 .64 0 .64 7 .65-2 .64 18 .64 7 .64-21 .65-3 .64 17 .64-5 .64-1 .65-1 .64 9 .64-5 .64 1 .65 4 .64-28 .64 24 .64 0 .65-2 .64-4 .64-9 .64-3 .65 15 .64-10 .64 26 .64-7 .65-6 .64 11 .64-6 .64-4 .65 15 .64-9 .64-1 .64 4 .65-1 .64 2 .64-8 .64 2 .65 7 .64-3 .64 3 .64-14 .65 9 .64-3 .64 7 .64 5 .65-9 .64 5 .64 0 .64 4 .65-3 .64-2 .64-2 .64 2 .65 13 .64 2 .64-10 .64-8 .65 6 .64 5 .64-21 .64 11 .65 18 .64-14 .64-9 .64 5 .65-12 .64 13 .64-1 .64 1 .65 0 .64 0 .64 9 .64-5 .65-6 .64 4 .64-16 .64 13 .65 18 .64-5 .64-6 .64-12 .65 7 .64 18 .64-19 .64-1 .65 10 .64 4 .64-7 .64 6 .65-19 .64 18 .64-14 .64 6 .65-20 .64 18 .64-6 .64 5 .65-12 .64-7 .64 10 .64 8 .65-9 .64-3 .64 0 .64 15 .65-14 .64-10 .64 23 .64-13 .65 3 .64-18 .64 12 .64 5 .65 3 .64-3 .64 6 .64-10 .65-7 .64-10 .64 25 .64-8 .65 17 .64-5 .64-24 .64 13 .65-1 .64 1 .64-20 .64 6 .65-1 .64 13 .64-10 .64-10 .65-2 .64 7 .64-12 .64 3 .65 7 .64 10 .64-8 .64-3 .65-11 .64 1 .64-10 .64 20 .65-3 .64-6 .64 27 .64-25 .65 14 .64-13 .64 4 .64-17 .65 12 .64 6 .64-31 .64 35 .65-25 .64 7 .64-3 .64 14 .65-5 .64-13 .64 0 .64 9 .65-11 .64-2 .64 2 .64 14 .65-25 .64 0 .64 17 .64-10 .65-9 .64 21 .64-13 .64-4 .65-3 .64 28 .64-17 .64 18 .65-10 .64-14 .64 22 .64-15 .65 9 .64-22 .64-1 .64 9 .65-4 .64 18 .64-3 .64-17 .65 14 .64-27 .64 24 .64 4 .65-12 .64 1 .64 14 .64-4 .65 21 .64-23 .64 15 .64 12 .65-1 .64-6 .64-9 .64 6 .65 10 .64-4 .64 4 .64-4 .65 2 .64 21 .64-4 .64-27 .65 25 .64 7 .64-15 .64 1 .65 8 .64 2 .64 3 .64-3 .65 27 .64-24 .64 16 .64 2 .65-2 .64 7 .64 8 .64-13 .65 14 .64 3 .64-11 .64-11 .65 20 .64 4 .64-4 .64 4 .65 12 .64-9 .64 5 .64-6 .65 2 .64 0 .64 5 .64-2 .65 4 .64-2 .64 4 .64 1 .65-3 .64-3 .64-5 .64 0 .65 13 .64-2 .64-1 .64-3 .65 6 .64-2 .64 9 .64-6 .65-4 .64 0 .64 4 .64 16 .65-15 .64-6 .64 6 .64 6 .65 2 .64 0 .64 0 .64-2 .65 0 .64-6 .64 8 .64-3 .65 11 .64-18 .64 17 .64-13 .65 8 .64-6 .64 11 .64-3 .65-4 .64 8 .64-8 .64-3 .65-2 .64 7 .64 0 .64-6 .65 4 .64 5 .64-7 .64 14 .65-15 .64 4 .64 3 .64 12 .65-11 .64-5 .64-5 .64 5 .65 0 .64 9 .64-7 .64-2 .65 5 .64 2 .64-11 .64 6 .65 3 .64 6 .64 3 .64-4 .65-4 .64-5 .64 10 .64-14 .65 8 .64 4 .64-5 .64-5 .65 6 .64-4 .64-2 .64 4 .65-2 .64 19 .64-18 .64 10 .65-14 .64 15 .64-5 .64-5 .65-3 .64 2 .64-8 .64 14 .65-10 .64 16 .64-1 .64-2 .65-2 .64-1 .64-12 .64 9 .65 3 .64-1 .64 6 .64-1 .65-5 .64 2 .64 4 .64-7 .65 0 .64-3 .64-3 .64 3 .65 4 .64-7 .64 4 .64-2 .65 4 .64 5 .64 0 .64 1 .65-9 .64 2 .64 3 .64-6 .65 14 .64-15 .64 8 .64-9 .65 3 .64 3 .64 2 .64-3 .65 12 .64-5 .64 4 .64-17 .65 13 .64 6 .64-3 .64-10 .65-1 .64 0 .64 9 .64-9 .65 2 .64 7 .64-7 .64 2 .65-3 .64 12 .64-10 .64 5 .65-2 .64 3 .64 1 .64-4 .65 2 .64-6 .64 6 .64-1 .65 2 .64-11 .64 11 .64-3 .65-3 .64 2 .64 5 .64 2 .65 3 .64-10 .64 0 .64 2 .65 7 .64-3 .64-5 .64 6 .65-2 .64 1 .64 0 .64-4 .65 1 .64 10 .64-8 .64 3 .65-7 .64 0 .64-1 .64 9 .65-1 .64 1 .64 1 .64-5 .65-2 .64 0 .64 3 .64 3 .65 0 .64 2 .64-7 .64 3 .65-9 .64 8 .64 7 .64-8 .65 7 .64 4 .64 0 .64-8 .65-2 .64 3 .64-1 .64-1 .65-1 .64 2 .64 1 .64-2 .65-1 .64 2 .64 1 .64-2 .65-4 .64-3 .64 4 .64-12 .65 9 .64 0 .64 5 .64-8 .65-1 .64 8 .64 0 .64-8 .65 6 .64-2 .64-3 .64-1 .65 2 .64 3 .64 0 .64 5 .65-5 .64-5 .64-4 .64 3 .65 3 .64-1 .64-6 .64 17 .65-3 .64-5 .64-3 .64-1 .65 9 .64-6 .64 6 .64-2 .65-5 .64 5 .64 1 .64-2 .65 2 .64-5 .64 5 .64 0 .65 2 .64-4 .64 10 .64-2 .65-6 .64 5 .64-1 .64 1 .65 5 .64-6 .64-5 .64 12 .65-7 .64 3 .64-7 .64 10 .65-8 .64-2 .64-2 .64 5 .65 8 .64-10 .64 5 .64-2 .65 7 .64-3 .64-7 .64-1 .65 0 .64 0 .64 6 .64-2 .65-7 .64 3 .64 2 .64-8 .65 9 .64 4 .64-10 .64 9 .65-5 .64-1 .64 1 .64-1 .65 8 .64-10 .64 5 .64-2 .65-2 .64-6 .64 9 .64-2 .65 4 .64-4 .64 1 .64-1 .65-13 .64 16 .64 0 .64-3 .65 1 .64 5 .64-12 .64 7 .65-5 .64 2 .64-1 .64-12 .65 11 .64 3 .64-3 .64 2 .65-6 .64 1 .64-1 .64-2 .65 13 .64-7 .64-3 .64 6 .65-11 .64-4 .64 12 .64-9 .65 7 .64-3 .64-3 .64 2 .65 2 .64 1 .64-2 .64-2 .65-4 .64 0 .64 2 .64 0 .65 7 .64-4 .64-4 .64 12 .65-17 .64 21 .64-14 .64-2 .65 1 .64-8 .64 16 .64-7 .65 4 .64 5 .64-5 .64 2 .65-3 .64-9 .64 17 .64-11 .65-11 .64 12 .64-6 .64 12 .65-9 .64 12 .64-10 .64 7 .65-3 .64 0 .64-2 .64 6 .65-4 .64-1 .64 12 .64-2 .65 2 .64-8 .64-2 .64-5 .65 2 .64 2 .64-2 .64 6 .65 0 .64-1 .64 1 .64-7 .65 6 .64 0 .64 1 .64-6 .65 3 .64 3 .64 1 .64-6 .65 12 .64 0 .64-3 .64 4 .65-9 .64 3 .64 3 .64-2 .65 1 .64-5 .64 7 .64 0 .65-4 .64-9 .64 12 .64-2 .65 6 .64-2 .64-3 .64 4 .65-8 .64 6 .64 1 .64-7 .65 8 .64-2 .64 5 .64-1 .65-8 .64-1 .64-6 .64 14 .65 1 .64-3 .64-3 .64 1 .65-4 .64-2 .64 5 .64 4 .65 0 .64-4 .64 1 .64-2 .65 5 .64 1 .64 2 .64-3 .65-4 .64 1 .64 8 .64-6 .65 0 .64 2 .64-2 .64-7 .65 11 .64-11 .64-1 .64 6 .65 9 .64-18 .64 13 .64 4 .65-3 .64-1 .64 2 .64-4 .65 5 .64-11 .64 0 .64 2 .65 1 .64 2 .64-4 .64-2 .65-4 .64 7 .64-8 .64 13 .65-3 .64 4 .64-11 .64-1 .65 7 .64-7 .64 0 .64 10 .65-12 .64-1 .64-1 .64-3 .65-21 .64 12 .64 8 .64-16 .65-4 .64-6 .64 1 .64-4 .65 3 .64 3 .64-27 .64 0 .65 6 .64-22 .64 10 .64-26 .65-12 .64 5 .64-14 .64 14 .65-9 .64 8 .64 4 .64 11 .65-10 .64-1 .64 7 .64 3 .65-7 .64 10 .64 4 .64 3 .65 7 .64 2 .64 20 .64 3 .65 20 .64-11 .64-2 .64 3 .65 2 .64-6 .64 22 .64 1 .65-10 .64 8 .64-5 .64 2 .65 0 .64 10 .64 3 .64-15 .65 11 .64 9 .64-11 .64-8 .65 7 .64 5 .64-1 .64 3 .65 8 .64-11 .64 7 .64-8 .65-2 .64 1 .64 6 .64 2 .65-10 .64 7 .64-5 .64 13 .65-4 .64-1 .64-5 .64 11 .65 1 .64-12 .64 0 .64 11 .65-5 .64-9 .64 3 .64 8 .65-9 .64 8 .64 5 .64-9 .65 2 .64-4 .64 7 .64 3 .65-7 .64 13 .64-14 .64 4 .65-1 .64 5 .64 0 .64-1 .65-1 .64 1 .64-12 .64 5 .65 6 .64 2 .64 1 .64-5 .65 2 .64 1 .64 1 .64 1 .65-4 .64-6 .64 6 .64 1 .65 4 .64-2 .64-4 .64-1 .65 8 .64-12 .64 1 .64 12 .65-13 .64 14 .64-9 .64 4 .65 1 .64-6 .64 1 .64 3 .65-3 .64-1 .64 1 .64 1 .65-3 .64 6 .64 2 .64-11 .65 9 .64-1 .64 3 .64 0 .65-1 .64-9 .64 8 .64-2 .65-1 .64 1 .64 4 .64-2 .65 3 .64-4 .64 2 .64 7 .65-8 .64-4 .64 4 .64-4 .65 1 .64 0 .64 1 .64 3 .65-7 .64 6 .64 6 .64-5 .65 0 .64-5 .64-4 .64 7 .65 2 .64-7 .64 3 .64 13 .65-11 .64-8 .64 12 .64-1 .65-5 .64 3 .64 2 .64-2 .65 9 .64 3 .64 0 .64-11 .65-3 .64 6 .64-10 .64 10 .65-3 .64 2 .64 0 .64-1 .65-8 .64-1 .64 9 .64-3 .65-6 .64 3 .64 5 .64 3 .65-6 .64-5 .64 7 .64 3 .65-8 .64 5 .64-2 .64 5 .65-7 .64-11 .64 14 .64 5 .65-7 .64 10 .64-9 .64-2 .65 1 .64 0 .64 4 .64-5 .65-10 .64 14 .64-6 .64-3 .65 7 .64-4 .64 0 .64-6 .65 11 .64-3 .64 7 .64-6 .65 5 .64-10 .64 5 .64-16 .65 17 .64-10 .64 7 .64 1 .65 5 .64-11 .64 4 .64 6 .65-7 .64 0 .64-6 .64-1 .65 9 .64-1 .64-2 .64-9 .65 5 .64 4 .64 3 .64-6 .65 4 .64 0 .64-2 .64-1 .65 2 .64-2 .64-2 .64-3 .65 9 .64-6 .64 11 .64-9 .65-1 .64-1 .64-3 .64 1 .65 0 .64 2 .64 4 .64-12 .65 14 .64-2 .64 2 .64-12 .65 7 .64 6 .64-7 .64-5 .65 1 .64 2 .64-8 .64 10 .65 0 .64 2 .64 1 .64-16 .65 7 .64 4 .64-7 .64 3 .65 11 .64-6 .64 1 .64-9 .65 13 .64-8 .64 2 .64-9 .65-10 .64 14 .64 2 .64-1 .65 12 .64-19 .64 4 .64 8 .65-4 .64 1 .64-6 .64 2 .65 7 .64-5 .64 6 .64-17 .65 4 .64 13 .64-7 .64-8 .65 4 .64-7 .64 6 .64 8 .65-2 .64-11 .64 12 .64-4 .65 1 .64-15 .64 8 .64-2 .65 11 .64-3 .64-9 .64 5 .65 2 .64 0 .64 4 .64-1 .65 7 .64-14 .64 9 .64 1 .65 8 .64-20 .64 6 .64-2 .65 8 .64 0 .64-3 .64-3 .65 17 .64-21 .64 13 .64-12 .65-2 .64 14 .64 6 .64-10 .65 6 .64-4 .64-4 .64-5 .65 11 .64-4 .64-1 .64 1 .65 1 .64 2 .64-1 .64 1 .65 7 .64-10 .64 6 .64-8 .65 9 .64-6 .64 3 .64-5 .65 13 .64-5 .64 5 .64-8 .65-10 .64 8 .64 0 .64 3 .65 6 .64-6 .64 4 .64-1 .65 1 .64-6 .64 7 .64-10 .65 11 .64-7 .64 8 .64-1 .65-13 .64 12 .64-3 .64-2 .65 3 .64 3 .64-5 .64 1 .65 3 .64-4 .64 9 .64-19 .65 13 .64 6 .64-10 .64 5 .65-6 .64 7 .64 3 .64-10 .65 4 .64-4 .64 2 .64 6 .65 3 .64-9 .64-1 .64-6 .65 16 .64-4 .64 4 .64-4 .65 7 .64-1 .64-8 .64 7 .65-5 .64-1 .64-1 .64 0 .65 12 .64 0 .64-5 .64-9 .65 11 .64-2 .64-1 .64 1 .65-3 .64-1 .64 5 .64 1 .65 6 .64-3 .64 2 .64-10 .65 7 .64-2 .64 5 .64-10 .65 2 .64 5 .64 0 .64-4 .65-4 .64 2 .64-2 .64 4 .65-1 .64 3 .64 6 .64-7 .65 7 .64-9 .64 3 .64 6 .65-16 .64 23 .64-18 .64 10 .65-9 .64 3 .64 3 .64 1 .65-6 .64 13 .64-8 .64-3 .65 4 .64 5 .64-8 .64 1 .65 8 .64 0 .64-5 .64 3 .65-3 .64-2 .64-3 .64 9 .65-2 .64-2 .64-3 .64 5 .65 6 .64-8 .64 2 .64 1 .65 0 .64-2 .64-1 .64 3 .65 5 .64-10 .64-1 .64 7 .65-8 .64 7 .64 6 .64-9 .65 7 .64-6 .64-1 .64 1 .65 1 .64-1 .64 3 .64 1 .65-11 .64 13 .64-3 .64 1 .65-6 .64 11 .64-10 .64 2 .65 1 .64 5 .64-8 .64 1 .65 5 .64 1 .64-5 .64-3 .65 2 .64 7 .64-10 .64 3 .65 4 .64 3 .64-5 .64-4 .65 6 .64-5 .64 1 .64 3 .65 0 .64 3 .64-3 .64-4 .65 4 .64 2 .64-7 .64 7 .65-10 .64 12 .64-6 .64 3 .65-5 .64 4 .64-5 .64 6 .65 6 .64 1 .64-5 .64-1 .65-3 .64-2 .64-1 .64 4 .65 3 .64 0 .64 0 .64-7 .65 8 .64-5 .64 2 .64 13 .65-14 .64 6 .64-1 .64-11 .65 4 .64-2 .64 7 .64 0 .65-3 .64 0 .64-5 .64 3 .65 4 .64-1 .64-3 .64 4 .65-1 .64 7 .64-2 .64-1 .65-2 .64 0 .64 5 .64 2 .65-10 .64 7 .64-1 .64 3 .65-2 .64 1 .64-7 .64 2 .65 5 .64-1 .64-7 .64 5 .65-5 .64 8 .64-6 .64 1 .65 4 .64 1 .64-4 .64-9 .65 6 .64 0 .64 8 .64-1 .65 0 .64-9 .64 6 .64 0 .65-2 .64 6 .64-4 .64 7 .65-4 .64 1 .64 0 .64-6 .65 2 .64-3 .64 7 .64-3 .65-6 .64 6 .64-1 .64 1 .65-9 .64 12 .64 1 .64-2 .65 0 .64 1 .64-8 .64 2 .65-1 .64 7 .64-4 .64-2 .65 7 .64 2 .64-9 .64 3 .65-4 .64 6 .64 1 .64-4 .65-1 .64 6 .64-4 .64 2 .65 1 .64-7 .64 8 .64-3 .65 1 .64-4 .64 1 .64 7 .65-7 .64 4 .64-6 .64-1 .65 10 .64-6 .64-1 .64 5 .65-5 .64 3 .64-1 .64 3 .65-5 .64 1 .64 4 .64-5 .65-1 .64 6 .64-2 .64-7 .65 4 .64 4 .64-2 .64 0 .65-2 .64-4 .64 6 .64-3 .65-1 .64 4 .64-3 .64 2 .65-4 .64 0 .64-6 .64 3 .65 7 .64-6 .64 3 .64 1 .65-10 .64-1 .64 11 .64-8 .65-8 .64 8 .64-3 .64 4 .65-2 .64-12 .64 13 .64-1 .65-2 .64 5 .64-13 .64 5 .65 4 .64-5 .64-1 .64 3 .65 3 .64-6 .64-1 .64 0 .65-8 .64 15 .64-17 .64 0 .65 5 .64-3 .64-7 .64 4 .65 1 .64 5 .64-17 .64 12 .65 0 .64-6 .64 0 .64 1 .65 2 .64-1 .64 6 .64-12 .65 4 .64 1 .64 7 .64-8 .65 9 .64-10 .64 23 .64-11 .65 2 .64-5 .64 3 .64 5 .65-6 .64-2 .64 8 .64-10 .65-2 .64 9 .64-4 .64 6 .65 1 .64-6 .64-2 .64-2 .65 6 .64 13 .64-18 .64 11 .65-2 .64 2 .64-7 .64 5 .65-4 .64 6 .64-2 .64-10 .65 9 .64-1 .64 7 .64-12 .65 2 .64 6 .64 6 .64-3 .65-4 .64-4 .64 8 .64 0 .65-4 .64 2 .64-3 .64-2 .65 5 .64 2 .64-8 .64 17 .65-10 .64 7 .64-7 .64-9 .65 13 .64-5 .64 9 .64-12 .65 0 .64 2 .64 0 .64 6 .65 7 .64-25 .64 13 .64 1 .65 3 .64 4 .64-3 .64 2 .65-9 .64-5 .64 7 .64-1 .65 8 .64-3 .64 1 .64-5 .65 0 .64-2 .64 12 .64-6 .65 2 .64-8 .64 7 .64 9 .65-16 .64 1 .64-6 .64 11 .65 2 .64-11 .64 11 .64 5 .65-10 .64 0 .64 2 .64 12 .65-16 .64 15 .64-3 .64-10 .65 3 .64-1 .64 2 .64 8 .65-8 .64-4 .64 4 .64 9 .65-10 .64-3 .64 2 .64-2 .65 10 .64-8 .64 4 .64-11 .65 5 .64 7 .64 2 .64-13 .65 2 .64 5 .64-8 .64 3 .65 2 .64 5 .64-3 .64 3 .65-1 .64-4 .64 13 .64-11 .65 7 .64 2 .64-13 .64 8 .65-2 .64-8 .64-3 .64 14 .65 0 .64-1 .64-7 .64 0 .65-4 .64 1 .64 10 .64-1 .65 9 .64-8 .64-3 .64-2 .65 1 .64-2 .64 6 .64 11 .65-12 .64 1 .64 2 .64-4 .65-1 .64 3 .64 11 .64-12 .65-3 .64 9 .64-8 .64-1 .65 11 .64-3 .64 2 .64 0 .65-4 .64-4 .64 6 .64-3 .65 4 .64-3 .64 5 .64-5 .65 1 .64-2 .64-1 .64 7 .65-5 .64 15 .64-19 .64 0 .65 6 .64-1 .64 9 .64 1 .65-9 .64 7 .64-3 .64-3 .65 13 .64-14 .64 0 .64 2 .65 3 .64-1 .64 3 .64-9 .65 11 .64-5 .64-2 .64-1 .65 2 .64 1 .64-2 .64 6 .65-4 .64 1 .64 6 .64-9 .65 6 .64 4 .64-1 .64-9 .65 5 .64-1 .64 4 .64-10 .65 1 .64 6 .64-5 .64 3 .65 2 .64-13 .64 15 .64-7 .65 5 .64-1 .64 8 .64-10 .65-1 .64 3 .64 0 .64 1 .65 2 .64-5 .64 5 .64-3 .65-5 .64 2 .64-3 .64 4 .65-3 .64 9 .64-1 .64-10 .65 8 .64 3 .64-2 .64-6 .65 3 .64-1 .64 9 .64-11 .65 1 .64-2 .64 6 .64-10 .65 4 .64 3 .64-2 .64 2 .65-1 .64 2 .64-8 .64 9 .65-9 .64 2 .64 4 .64-7 .65 9 .64 2 .64-1 .64-10 .65-1 .64 13 .64-15 .64 9 .65-1 .64 2 .64-4 .64 5 .65-5 .64 4 .64-3 .64 7 .65-7 .64-2 .64 8 .64-8 .65 6 .64-8 .64 4 .64-1 .65-6 .64 18 .64-7 .64-4 .65 0 .64-2 .64 5 .64-3 .65 2 .64 0 .64-1 .64-1 .65 0 .64 11 .64-4 .64-9 .65 2 .64 4 .64 4 .64-9 .65 1 .64 6 .64-7 .64 4 .65 0 .64-3 .64 2 .64-8 .65 2 .64 3 .64-3 .64 4 .65 5 .64-7 .64 7 .64-3 .65 4 .64-12 .64 3 .64 4 .65-4 .64 5 .64-2 .64 0 .65-2 .64 3 .64 1 .64 0 .65-3 .64 7 .64-10 .64 0 .65 6 .64-4 .64 4 .64-8 .65 11 .64-10 .64 10 .64-4 .65-4 .64 4 .64 2 .64-7 .65 1 .64 4 .64-7 .64-4 .65 6 .64-7 .64 0 .64-5 .65-7 .64-2 .64-10 .64-17 .65-18 .64-33 .64-50 .64-62 .65-71 .64-63 .64-28 .64 14 .65 40 .64 54 .64 56 .64 49 .65 42 .64 30 .64 21 .64 17 .65 17 .64 3 .64 8 .64-2 .65 9 .64 8 .64-1 .64-7 .65 6 .64 9 .64 5 .64-12 .65-3 .64 2 .64 6 .64 4 .65-1 .64 1 .64 0 .64-1 .65-2 .64 6 .64 1 .64-3 .65-5 .64 6 .64 1 .64-1 .65-11 .64 15 .64 5 .64-9 .65 5 .64-4 .64 3 .64 1 .65-2 .64 2 .64-6 .64 6 .65-6 .64 13 .64-12 .64 6 .65 2 .64-5 .64 3 .64 3 .65-5 .64-2 .64 6 .64-7 .65 3 .64 4 .64-5 .64 1 .65 3 .64 0 .64-5 .64-2 .65 7 .64-2 .64 1 .64-2 .65 4 .64-2 .64-1 .64-5 .65 7 .64-4 .64-1 .64 1 .65 1 .64-1 .64 1 .64 0 .65-3 .64 4 .64 4 .64-2 .65 0 .64-1 .64-4 .64 2 .65 2 .64 0 .64-3 .64 1 .65-3 .64 3 .64 0 .64 3 .65 3 .64 4 .64-13 .64 4 .65-7 .64 7 .64-2 .64 5 .65 0 .64-6 .64 12 .64-1 .65-7 .64-6 .64 6 .64-1 .65 8 .64-7 .64 0 .64 0 .65-5 .64 6 .64-3 .64 1 .65-6 .64 5 .64-1 .64 2 .65 4 .64-6 .64 1 .64 4 .65-1 .64-3 .64 2 .64-6 .65 10 .64-5 .64-2 .64 9 .65-4 .64 1 .64-7 .64 1 .65 3 .64-3 .64 5 .64 0 .65 3 .64-4 .64-3 .64 4 .65-3 .64 1 .64-4 .64 2 .65-2 .64 4 .64-1 .64 4 .65-8 .64 10 .64-5 .64-3 .65 5 .64-7 .64 4 .64-3 .65 6 .64-4 .64 0 .64-1 .65 2 .64 2 .64-4 .64 4 .65-3 .64-3 .64 6 .64 3 .65-6 .64 4 .64-4 .64 12 .65-7 .64 3 .64 2 .64-11 .65 2 .64-7 .64 15 .64-1 .65-10 .64 5 .64-2 .64-1 .65 8 .64-11 .64 5 .64 4 .65-4 .64-1 .64 0 .64 0 .65-3 .64 13 .64-5 .64-7 .65 2 .64 1 .64 1 .64-1 .65-2 .64 4 .64 2 .64-6 .65-3 .64 2 .64-6 .64 6 .65 5 .64-2 .64-2 .64 3 .65-2 .64 4 .64-5 .64 0 .65-3 .64 7 .64-3 .64 0 .65 4 .64 0 .64-1 .64 0 .65 0 .64 3 .64-4 .64-3 .65 10 .64-3 .64-8 .64 2 .65-1 .64 6 .64-5 .64 3 .65-3 .64 5 .64-7 .64 4 .65 1 .64 6 .64-1 .64-5 .65-10 .64 9 .64-2 .64-2 .65 6 .64-8 .64 4 .64 7 .65-9 .64 4 .64 2 .64-6 .65 8 .64-8 .64 5 .64-4 .65 8 .64-4 .64-5 .64 2 .65 4 .64-3 .64-3 .64 9 .65-4 .64-2 .64 2 .64-2 .65 0 .64-6 .64 4 .64-3 .65 6 .64-3 .64 1 .64 1 .65 7 .64-6 .64-1 .64 0 .65 6 .64 0 .64-5 .64 10 .65-12 .64 3 .64-3 .64 1 .65 4 .64-10 .64 2 .64 6 .65-1 .64-3 .64 3 .64-4 .65 1 .64 0 .64 6 .64-8 .65 1 .64 6 .64 4 .64-7 .65-4 .64 2 .64 3 .64-2 .65-1 .64 2 .64 0 .64-6 .65 9 .64-8 .64 5 .64 6 .65-2 .64 0 .64-10 .64 5 .65-1 .64-3 .64 5 .64-1 .65-2 .64-3 .64 3 .64-2 .65-4 .64 4 .64-6 .64 2 .65-9 .64-7 .64-12 .64-13 .65-19 .64-30 .64-25 .64-14 .65-5 .64 4 .64 15 .64 18 .65 22 .64 21 .64 14 .64 13 .65 6 .64 9 .64 1 .64 3 .65 5 .64 3 .64 3 .64 3 .65-5 .64 2 .64-3 .64-3 .65 0 .64 14 .64-2 .64 6 .65-16 .64 20 .64-11 .64 3 .65 0 .64-2 .64-3 .64-1 .65-1 .64 1 .64 3 .64 5 .65-7 .64 2 .64-1 .64 2 .65-8 .64 14 .64 3 .64-16 .65 1 .64 8 .64 0 .64-5 .65 3 .64 2 .64-7 .64-1 .65 4 .64 7 .64-5 .64 3 .65 0 .64-9 .64 5 .64-2 .65 7 .64-5 .64 1 .64 0 .65-2 .64 1 .64-2 .64 2 .65-2 .64-2 .64 7 .64 0 .65 2 .64-7 .64-1 .64 1 .65 4 .64-3 .64 3 .64-4 .65 5 .64 2 .64-2 .64 4 .65-6 .64 3 .64 1 .64-5 .65-2 .64 11 .64-4 .64-3 .65-1 .64-1 .64-1 .64 3 .65-9 .64 8 .64-1 .64-4 .65 8 .64 0 .64-4 .64 3 .65 2 .64-1 .64-9 .64 10 .65-6 .64 7 .64-2 .64-6 .65 3 .64 1 .64 2 .64 0 .65-6 .64 4 .64-1 .64 5 .65-1 .64 4 .64-10 .64-5 .65 1 .64-2 .64 7 .64 3 .65-4 .64-2 .64-3 .64 3 .65 4 .64 4 .64-12 .64 4 .65-1 .64 3 .64 0 .64 3 .65-3 .64-4 .64 2 .64-1 .65 7 .64 0 .64 0 .64-2 .65 1 .64-4 .64 4 .64 0 .65-1 .64 0 .64-9 .64 4 .65-1 .64 6 .64-1 .64-6 .65-3 .64 2 .64 3 .64 6 .65-1 .64 5 .64-4 .64-5 .65 3 .64 4 .64-6 .64 1 .65 2 .64 1 .64-7 .64 4 .65-5 .64 4 .64-2 .64 1 .65 1 .64 0 .64-3 .64 3 .65 7 .64-9 .64-2 .64 2 .65 6 .64-2 .64-5 .64 7 .65-6 .64-7 .64 17 .64-15 .65 15 .64-6 .64-9 .64 6 .65-5 .64 0 .64 3 .64 1 .65 0 .64 8 .64-1 .64-9 .65 0 .64 4 .64-7 .64 6 .65-4 .64 7 .64-1 .64 1 .65 2 .64-8 .64 9 .64-8 .65 7 .64-7 .64-2 .64 0 .65-2 .64 9 .64-2 .64-4 .65 2 .64-2 .64-1 .64-8 .65 7 .64 4 .64-4 .64 2 .65 0 .64 12 .64-7 .64-7 .65 2 .64 1 .64 8 .64-13 .65 4 .64-5 .64 4 .64 7 .65-10 .64 0 .64 3 .64-6 .65 0 .64 2 .64 8 .64-5 .65 9 .64-4 .64-7 .64 2 .65 0 .64 2 .64-1 .64 2 .65 2 .64-3 .64-8 .64 4 .65 6 .64 0 .64-3 .64-4 .65-1 .64 1 .64 0 .64 4 .65 0 .64-3 .64-5 .64 7 .65-4 .64 9 .64-6 .64 5 .65-5 .64 3 .64-1 .64 2 .65-1 .64-1 .64 3 .64-2 .65 4 .64 6 .64-14 .64-1 .65 9 .64-11 .64 4 .64 1 .65-1 .64-1 .64-3 .64 9 .65-4 .64-2 .64 6 .64 2 .65-3 .64-4 .64-5 .64 6 .65 0 .64 0 .64 1 .64 9 .65-4 .64-4 .64 6 .64-15 .65 9 .64-1 .64-8 .64 11 .65-12 .64 8 .64-2 .64-2 .65 10 .64-1 .64-6 .64 2 .65 1 .64-4 .64 1 .64 6 .65-4 .64-7 .64 6 .64 2 .65 3 .64-3 .64-8 .64 6 .65 6 .64-9 .64 12 .64-3 .65-1 .64 7 .64-20 .64 10 .65 3 .64-8 .64-2 .64-1 .65 8 .64 1 .64-1 .64 2 .65-3 .64 3 .64-4 .64-1 .65-3 .64 6 .64-4 .64 10 .65-10 .64 13 .64-13 .64 1 .65 3 .64 0 .64 1 .64-1 .65-1 .64 3 .64-6 .64-2 .65 7 .64-2 .64 7 .64-3 .65-1 .64-1 .64 4 .64-3 .65 0 .64-12 .64 15 .64-5 .65 3 .64-8 .64 5 .64 1 .65 1 .64-8 .64 11 .64-6 .65 9 .64-6 .64-1 .64 3 .65-3 .64 1 .64 2 .64-3 .65-5 .64 3 .64 1 .64-2 .65 0 .64-2 .64 3 .64-7 .65 4 .64 9 .64-8 .64 7 .65-3 .64 2 .64-4 .64 1 .65 5 .64-7 .64 3 .64-2 .65-2 .64 1 .64 7 .64-5 .65-7 .64 6 .64 3 .64 0 .65-2 .64 2 .64-2 .64 2 .65 6 .64-10 .64 11 .64-13 .65 23 .64-14 .64-2 .64 3 .65-5 .64 4 .64-3 .64 1 .65-3 .64 7 .64-3 .64 3 .65 0 .64-11 .64 11 .64 5 .65-11 .64 7 .64-10 .64 5 .65-4 .64 11 .64-6 .64 4 .65-12 .64 6 .64-5 .64-2 .65 6 .64 8 .64-4 .64-3 .65 4 .64-4 .64 5 .64-8 .65 11 .64-8 .64 1 .64-1 .65 5 .64-14 .64 14 .64-6 .65 3 .64-2 .64 4 .64-11 .65 10 .64 5 .64-8 .64 4 .65 3 .64 2"/>
</g>
<rect x="546" y="56" width="9" height="1545" fill="#404040"/>
<rect x="588" y="53" width="8" height="1548" fill="#404040"/>
<g fill="#000" shape-rendering="crispEdges">
<rect x="336" y="52" width="1934" height="7"/>
<rect x="336" y="1599" width="1934" height="7"/>
<rect x="336" y="52" width="7" height="1554"/>
<rect x="2264" y="52" width="6" height="1554"/>
<rect x="343" y="1591.0" width="28" height="6"/>
<rect x="343" y="1505.5" width="12" height="6"/>
<rect x="343" y="1420.1" width="28" height="6"/>
<rect x="343" y="1334.6" width="12" height="6"/>
<rect x="343" y="1249.1" width="28" height="6"/>
<rect x="343" y="1163.7" width="12" height="6"/>
<rect x="343" y="1078.2" width="28" height="6"/>
<rect x="343" y="992.7" width="12" height="6"/>
<rect x="343" y="907.2" width="28" height="6"/>
<rect x="343" y="821.8" width="12" height="6"/>
<rect x="343" y="736.3" width="28" height="6"/>
<rect x="343" y="650.8" width="12" height="6"/>
<rect x="343" y="565.4" width="28" height="6"/>
<rect x="343" y="479.9" width="12" height="6"/>
<rect x="343" y="394.4" width="28" height="6"/>
<rect x="343" y="309.0" width="12" height="6"/>
<rect x="343" y="223.5" width="28" height="6"/>
<rect x="343" y="138.0" width="12" height="6"/>
<rect x="343" y="52.5" width="28" height="6"/>
<rect x="657.8" y="1587" width="6" height="12"/>
<rect x="657.8" y="59" width="6" height="11"/>
<rect x="979.0" y="1572" width="6" height="27"/>
<rect x="979.0" y="59" width="6" height="26"/>
<rect x="1300.2" y="1587" width="6" height="12"/>
<rect x="1300.2" y="59" width="6" height="11"/>
<rect x="1621.5" y="1572" width="6" height="27"/>
<rect x="1621.5" y="59" width="6" height="26"/>
<rect x="1942.8" y="1587" width="6" height="12"/>
<rect x="1942.8" y="59" width="6" height="11"/>
</g>
<text transform="translate(306.58 1613.60) scale(0.9560 1)" font-size="67.50" text-anchor="end">0</text>
<text transform="translate(306.58 1442.66) scale(0.9560 1)" font-size="67.50" text-anchor="end">200</text>
<text transform="translate(306.58 1271.72) scale(0.9560 1)" font-size="67.50" text-anchor="end">400</text>
<text transform="translate(306.58 1100.78) scale(0.9560 1)" font-size="67.50" text-anchor="end">600</text>
<text transform="translate(306.58 929.84) scale(0.9560 1)" font-size="67.50" text-anchor="end">800</text>
<text transform="translate(306.58 758.90) scale(0.9560 1)" font-size="67.50" text-anchor="end">1000</text>
<text transform="translate(306.58 587.96) scale(0.9560 1)" font-size="67.50" text-anchor="end">1200</text>
<text transform="translate(306.58 417.02) scale(0.9560 1)" font-size="67.50" text-anchor="end">1400</text>
<text transform="translate(306.58 246.08) scale(0.9560 1)" font-size="67.50" text-anchor="end">1600</text>
<text transform="translate(306.58 75.14) scale(0.9560 1)" font-size="67.50" text-anchor="end">1800</text>
<text transform="translate(339.50 1687.30) scale(0.9560 1)" font-size="67.50" text-anchor="middle">0</text>
<text transform="translate(982.00 1687.30) scale(0.9560 1)" font-size="67.50" text-anchor="middle">20</text>
<text transform="translate(1624.50 1687.30) scale(0.9560 1)" font-size="67.50" text-anchor="middle">40</text>
<text transform="translate(2267.00 1687.30) scale(0.9560 1)" font-size="67.50" text-anchor="middle">60</text>
<text transform="translate(75.1 1057.15) rotate(-90) scale(0.9557 1)" font-size="84.3">Intensity (a.u.)</text>
<text transform="translate(1075.85 1818.80) scale(1.0000 1)" font-size="83.00">2</text>
<text transform="translate(1121.39 1819.20) scale(1.1180 1)" font-size="80.60" class="ser">θ</text>
<text transform="translate(1185.13 1818.80) scale(0.9780 1)" font-size="83.00">(degrees)</text>
<text transform="translate(1946.00 304.90) scale(0.9580 1)" font-size="60.60">GG-MMT40</text>
<text transform="translate(1946.70 463.10) scale(0.9580 1)" font-size="60.60">GG-MMT20</text>
<text transform="translate(1946.70 635.00) scale(0.9580 1)" font-size="60.60">GG-MMT15</text>
<text transform="translate(1947.00 792.00) scale(0.9580 1)" font-size="60.60">GG-MMT10</text>
<text transform="translate(1978.00 966.00) scale(0.9580 1)" font-size="60.60">GG-MMT5</text>
<text transform="translate(1971.20 1122.00) scale(0.9580 1)" font-size="60.60">GG-MMT1</text>
<text transform="translate(1959.70 1240.40) scale(0.9580 1)" font-size="60.60">GGLA-G40</text>
<text transform="translate(1979.30 1407.10) scale(0.9580 1)" font-size="60.60">GGLA-G0</text>
<text transform="translate(2016.30 1533.70) scale(0.9580 1)" font-size="60.60">SYN-1</text>
<text transform="translate(359.59 1011.70) scale(0.9530 1)" font-size="59.70" font-weight="bold">12.8</text>
<text transform="translate(485.28 1012.30) scale(0.9680 1)" font-size="63.60" font-weight="bold" class="ser">Å</text>
<text transform="translate(732.95 1474.10) scale(0.9710 1)" font-size="61.00" font-weight="bold">11.4</text>
<text transform="translate(861.09 1474.10) scale(1.0500 1)" font-size="60.60" font-weight="bold">Å</text>
<g fill="#000">
<rect x="445.1" y="1039.8" width="52.5" height="2.6"/>
<polygon points="497,1030.8 539,1041.1 497,1051.6"/>
<rect x="658" y="1444.3" width="70.8" height="2.7"/>
<polygon points="658.6,1434.9 617.8,1445.6 658.6,1456.2"/>
</g>
</svg></body></html>
